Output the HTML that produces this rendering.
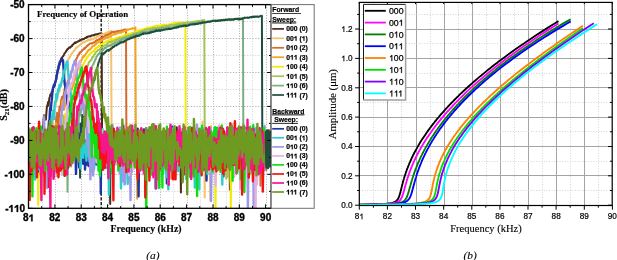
<!DOCTYPE html>
<html><head><meta charset="utf-8"><style>
html,body{margin:0;padding:0;background:#fff;}
text{font-kerning:none;}
svg{display:block;will-change:transform;}
.lb{font-family:"Liberation Sans",sans-serif;font-weight:bold;font-size:10px;stroke:#000;stroke-width:0.35px;}
.lg{font-family:"Liberation Sans",sans-serif;font-weight:bold;font-size:6.8px;stroke:#000;stroke-width:0.2px;}
.bs{font-family:"Liberation Serif",serif;font-weight:bold;stroke:#000;stroke-width:0.15px;}
.rs{font-family:"Liberation Serif",serif;stroke:#000;stroke-width:0.12px;}
.is{font-family:"Liberation Serif",serif;font-style:italic;stroke:#000;stroke-width:0.12px;}
.rl{font-family:"Liberation Sans",sans-serif;font-size:8.2px;stroke:#000;stroke-width:0.2px;}
.rg{font-family:"Liberation Sans",sans-serif;font-size:8.7px;stroke:#000;stroke-width:0.25px;}
</style></head><body>
<svg width="617" height="260" viewBox="0 0 617 260">
<defs><clipPath id="lc"><rect x="28.5" y="4.6" width="242.7" height="203.70000000000002"/></clipPath>
<clipPath id="rc"><rect x="359.3" y="2.0" width="252.9" height="203.5"/></clipPath></defs>
<g clip-path="url(#lc)">
<line x1="42.5" y1="4.6" x2="42.5" y2="208.3" stroke="#d4d4d4" stroke-width="1" stroke-dasharray="1,1.6"/>
<line x1="55.5" y1="4.6" x2="55.5" y2="208.3" stroke="#b0b0b0" stroke-width="1" stroke-dasharray="1,1.6"/>
<line x1="68.5" y1="4.6" x2="68.5" y2="208.3" stroke="#d4d4d4" stroke-width="1" stroke-dasharray="1,1.6"/>
<line x1="81.5" y1="4.6" x2="81.5" y2="208.3" stroke="#b0b0b0" stroke-width="1" stroke-dasharray="1,1.6"/>
<line x1="94.5" y1="4.6" x2="94.5" y2="208.3" stroke="#d4d4d4" stroke-width="1" stroke-dasharray="1,1.6"/>
<line x1="108.5" y1="4.6" x2="108.5" y2="208.3" stroke="#b0b0b0" stroke-width="1" stroke-dasharray="1,1.6"/>
<line x1="121.5" y1="4.6" x2="121.5" y2="208.3" stroke="#d4d4d4" stroke-width="1" stroke-dasharray="1,1.6"/>
<line x1="134.5" y1="4.6" x2="134.5" y2="208.3" stroke="#b0b0b0" stroke-width="1" stroke-dasharray="1,1.6"/>
<line x1="147.5" y1="4.6" x2="147.5" y2="208.3" stroke="#d4d4d4" stroke-width="1" stroke-dasharray="1,1.6"/>
<line x1="160.5" y1="4.6" x2="160.5" y2="208.3" stroke="#b0b0b0" stroke-width="1" stroke-dasharray="1,1.6"/>
<line x1="173.5" y1="4.6" x2="173.5" y2="208.3" stroke="#d4d4d4" stroke-width="1" stroke-dasharray="1,1.6"/>
<line x1="187.5" y1="4.6" x2="187.5" y2="208.3" stroke="#b0b0b0" stroke-width="1" stroke-dasharray="1,1.6"/>
<line x1="200.5" y1="4.6" x2="200.5" y2="208.3" stroke="#d4d4d4" stroke-width="1" stroke-dasharray="1,1.6"/>
<line x1="213.5" y1="4.6" x2="213.5" y2="208.3" stroke="#b0b0b0" stroke-width="1" stroke-dasharray="1,1.6"/>
<line x1="226.5" y1="4.6" x2="226.5" y2="208.3" stroke="#d4d4d4" stroke-width="1" stroke-dasharray="1,1.6"/>
<line x1="239.5" y1="4.6" x2="239.5" y2="208.3" stroke="#b0b0b0" stroke-width="1" stroke-dasharray="1,1.6"/>
<line x1="252.5" y1="4.6" x2="252.5" y2="208.3" stroke="#d4d4d4" stroke-width="1" stroke-dasharray="1,1.6"/>
<line x1="266.5" y1="4.6" x2="266.5" y2="208.3" stroke="#b0b0b0" stroke-width="1" stroke-dasharray="1,1.6"/>
<line x1="28.5" y1="21.5" x2="271.2" y2="21.5" stroke="#d4d4d4" stroke-width="1" stroke-dasharray="1.2,1.6"/>
<line x1="28.5" y1="38.5" x2="271.2" y2="38.5" stroke="#b0b0b0" stroke-width="1" stroke-dasharray="1.2,1.6"/>
<line x1="28.5" y1="55.5" x2="271.2" y2="55.5" stroke="#d4d4d4" stroke-width="1" stroke-dasharray="1.2,1.6"/>
<line x1="28.5" y1="72.5" x2="271.2" y2="72.5" stroke="#b0b0b0" stroke-width="1" stroke-dasharray="1.2,1.6"/>
<line x1="28.5" y1="89.5" x2="271.2" y2="89.5" stroke="#d4d4d4" stroke-width="1" stroke-dasharray="1.2,1.6"/>
<line x1="28.5" y1="106.5" x2="271.2" y2="106.5" stroke="#b0b0b0" stroke-width="1" stroke-dasharray="1.2,1.6"/>
<line x1="28.5" y1="123.5" x2="271.2" y2="123.5" stroke="#d4d4d4" stroke-width="1" stroke-dasharray="1.2,1.6"/>
<line x1="28.5" y1="140.5" x2="271.2" y2="140.5" stroke="#b0b0b0" stroke-width="1" stroke-dasharray="1.2,1.6"/>
<line x1="28.5" y1="157.5" x2="271.2" y2="157.5" stroke="#d4d4d4" stroke-width="1" stroke-dasharray="1.2,1.6"/>
<line x1="28.5" y1="174.5" x2="271.2" y2="174.5" stroke="#b0b0b0" stroke-width="1" stroke-dasharray="1.2,1.6"/>
<line x1="28.5" y1="191.5" x2="271.2" y2="191.5" stroke="#d4d4d4" stroke-width="1" stroke-dasharray="1.2,1.6"/>
<line x1="101.2" y1="4.6" x2="101.2" y2="208.3" stroke="#000" stroke-width="1.3" stroke-dasharray="3.2,1.5"/>
<polyline points="28.8,162.7 29.2,163.8 29.7,150.5 30.1,147.6 30.6,175.7 31,157.9 31.5,159.6 31.9,157.6 32.4,157.5 32.8,141 33.3,161.9 33.7,170.7 34.2,147.5 34.6,156.8 35.1,164.5 35.5,159.1 36,137.2 36.4,162.6 36.9,160.9 37.3,145 37.8,142.1 38.2,156.1 38.7,155 39.1,167.5 39.6,147.7 40,145.3 40.5,155.5 40.9,137.1 41.4,147.6 41.8,143.6 42.3,140.8 42.7,128.6 43.2,126.1 43.6,119.2 44.1,115.3 44.5,119.4 45,118.3 45.4,118 45.9,119.8 46.3,113.9 46.8,107.9 47.2,105.6 47.7,104.5 48.1,102 48.6,105.6 49,100.9 49.5,97.5 49.9,96.5 50.4,94.5 50.8,94.1 51.3,94.1 51.7,91.9 52.2,91.8 52.6,91.7 53.1,87.6 53.5,87.4 54,85.8 54.4,86.6 54.9,83.7 55.3,82 55.8,80.7 56.2,79.7 56.7,75.8 57.1,73.5 57.6,71.5 58,69.7 58.5,67.3 58.9,65.1 59.4,65.5 59.8,62.9 60.3,61.4 60.7,60.2 61.2,58.6 61.6,58 62.1,57.4 62.5,56.9 63,56.1 63.4,55.9 63.9,54.9 64.3,53.9 64.8,52.9 65.2,52.8 65.7,52 66.1,51.2 66.6,50.4 67,50 67.5,48.9 67.9,49 68.4,48.4 68.8,48 69.3,47.6 69.7,47.2 70.2,47.6 70.6,47.1 71.1,46.5 71.5,46 72,46.1 72.4,44.9 72.9,44.8 73.3,44.2 73.8,43.9 74.2,43.3 74.7,43.1 75.1,42.4 75.6,43 76,42.7 76.5,42.1 76.9,42.1 77.4,41.6 77.8,41.5 78.3,41.4 78.7,41 79.2,40.9 79.6,40.3 80.1,40.4 80.5,40.4 81,39.8 81.4,39.3 81.9,39.3 82.3,39.5 82.8,39.4 83.2,38.9 83.7,39 84.1,39 84.6,38.3 85,38.1 85.5,38.1 85.9,37.8 86.4,37.7 86.8,36.9 87.3,37.1 87.7,36.8 88.2,36.6 88.6,36.4 89.1,36.3 89.5,36.2 90,36.5 90.4,36.3 90.9,36.2 91.3,35.6 91.8,35.5 92.2,35.6 92.7,35.4 93.1,35.3 93.6,35 94,35.3 94.5,35 94.9,34.9 95.4,34.3 95.8,34.6 96.3,34.6 96.7,34.3 97.2,34 97.6,34.3 98.1,34.1 98.5,33.8 99,33.8 99.4,33.6 99.9,33.9 100.3,33.4 100.8,33.3 101.2,33.4 101.7,33.4 102.1,152.3 102.6,140.1 103,130.8 103.5,149.8 103.9,150 104.4,138.2 104.8,147.5 105.3,146.6 105.7,155 106.2,152.9 106.6,151 107.1,161 107.5,168.6 108,145.8 108.4,157.9 108.9,139.8 109.3,144.3 109.8,159.1 110.2,203.9 110.7,138.1 111.1,151.1 111.6,157.1 112,146.9 112.5,149.3 112.9,139.5 113.4,156.4 113.8,135 114.3,150.4 114.7,131.6 115.2,148.3 115.6,136.4 116.1,146.2 116.5,136.1 117,157.6 117.4,143.8 117.9,146.4 118.3,152.5 118.8,165 119.2,162.6 119.7,131 120.1,142.2 120.6,153.4 121,133.9 121.5,159.4 121.9,147.3 122.4,143 122.8,150.3 123.3,145.2 123.7,151.4 124.2,144.3 124.6,152.4 125.1,140.4 125.5,152.5 126,165.2 126.4,144.8 126.9,153.9 127.3,137.9 127.8,138.7 128.2,163 128.7,139.1 129.1,161.1 129.6,140.1 130,152.9 130.5,156.7 130.9,154.9 131.4,152.9 131.8,141.1 132.3,148.7 132.7,142.9 133.2,147.3 133.6,138.7 134.1,146.3 134.5,146.6 135,154.5 135.4,142.2 135.9,161.6 136.3,143.6 136.8,156.9 137.2,146.7 137.7,157.5 138.1,140.7 138.6,134.6 139,151.1 139.5,159.3 139.9,144 140.4,155.3 140.8,139.1 141.3,152.2 141.7,153.1 142.2,144.4 142.6,160.4 143.1,155.1 143.5,146.3 144,143.5 144.4,139.7 144.9,155.8 145.3,141.3 145.8,149.8 146.2,145.2 146.7,146.4 147.1,159.3 147.6,137.4 148,138.2 148.5,151.5 148.9,157.8 149.4,136.3 149.8,132.5 150.3,149.7 150.7,137.5 151.2,136.4 151.6,151.6 152.1,141.6 152.5,154.5 153,155.2 153.4,150.8 153.9,129.3 154.3,153.3 154.8,147.2 155.2,156.6 155.7,145 156.1,146.6 156.6,140.7 157,156.8 157.5,144.2 157.9,143.4 158.4,144.7 158.8,157.3 159.3,152.1 159.7,142.4 160.2,156.3 160.6,164.7 161.1,151.9 161.5,156.7 162,142.1 162.4,139.6 162.9,137.9 163.3,129.6 163.8,138.5 164.2,155.9 164.7,139.1 165.1,132.1 165.6,139.7 166,143 166.5,137.4 166.9,153.2 167.4,137.2 167.8,148.1 168.3,144.1 168.7,157.6 169.2,155.8 169.6,169.6 170.1,144.5 170.5,152.4 171,138.3 171.4,139 171.9,137.6 172.3,139 172.8,158.5 173.2,154.5 173.7,160.1 174.1,152.2 174.6,136.6 175,163.9 175.5,142.6 175.9,140.9 176.4,145.9 176.8,127.3 177.3,158.8 177.7,153.4 178.2,153.6 178.6,155.5 179.1,158.5 179.5,155 180,138.5 180.4,150.4 180.9,192.4 181.3,136.1 181.8,157.7 182.2,135.7 182.7,144.9 183.1,141.5 183.6,149.4 184,158.3 184.5,156 184.9,155 185.4,157.9 185.8,168.1 186.3,129.1 186.7,141.2 187.2,137.1 187.6,147.2 188.1,161.9 188.5,149.1 189,165.7 189.4,162.2 189.9,140.9 190.3,158.7 190.8,153.8 191.2,163.5 191.7,144.3 192.1,146.9 192.6,159.5 193,143.6 193.5,155.6 193.9,143.8 194.4,141.2 194.8,144.6 195.3,154.7 195.7,143.3 196.2,130.8 196.6,137.5 197.1,153.3 197.5,142.6 198,158.9 198.4,160.8 198.9,163.3 199.3,150.1 199.8,134.1 200.2,129.3 200.7,137.6 201.1,151.8 201.6,157 202,151.3 202.5,155.9 202.9,158.5 203.4,152.5 203.8,138.9 204.3,162 204.7,159.1 205.2,145.7 205.6,145.7 206.1,146.4 206.5,147.9 207,163.8 207.4,155.2 207.9,161.4 208.3,155.4 208.8,137.7 209.2,135.5 209.7,142 210.1,167.4 210.6,166.2 211,134.6 211.5,134.8 211.9,153.5 212.4,157.7 212.8,148.6 213.3,137 213.7,136.4 214.2,147.8 214.6,160.5 215.1,164.2 215.5,159.4 216,136.2 216.4,151.6 216.9,129.7 217.3,155.6 217.8,157.6 218.2,145.7 218.7,142.2 219.1,164.4 219.6,162 220,140.9 220.5,142.3 220.9,152.1 221.4,148.5 221.8,134 222.3,152.9 222.7,141.6 223.2,154 223.6,176.6 224.1,154.7 224.5,164 225,159.8 225.4,150.1 225.9,147.3 226.3,150.3 226.8,150.5 227.2,136.9 227.7,135.7 228.1,160.5 228.6,131.2 229,151.7 229.5,151.5 229.9,189.8 230.4,148.8 230.8,154.6 231.3,131.4 231.7,141.8 232.2,153.8 232.6,164.3 233.1,154 233.5,159.8 234,143.6 234.4,154 234.9,139.1 235.3,137.6 235.8,151.8 236.2,142.8 236.7,155.8 237.1,147.3 237.6,155 238,146.6 238.5,137.9 238.9,142.3 239.4,164.4 239.8,154 240.3,144.4 240.7,153.8 241.2,136.2 241.6,130.7 242.1,133.1 242.5,132.9 243,145.8 243.4,165 243.9,157.9 244.3,154.2 244.8,141.8 245.2,165 245.7,161.7 246.1,154.7 246.6,145.4 247,143.4 247.5,163.4 247.9,154 248.4,129.7 248.8,138.2 249.3,140.1 249.7,144.5 250.2,158.1 250.6,137 251.1,140.6 251.5,152.2 252,153.3 252.4,163.2 252.9,147 253.3,149.4 253.8,162.1 254.2,154.7 254.7,151.1 255.1,152.8 255.6,148.7 256,152.3 256.5,147.8 256.9,147.5 257.4,147.6 257.8,164.5 258.3,136.4 258.7,147.5 259.2,151.6 259.6,137 260.1,138 260.5,150.5 261,139.1 261.4,149.9 261.9,137.2 262.3,147.8 262.8,144.9 263.2,155.6 263.7,156.9 264.1,158.3 264.6,148.8 265,157.2 265.5,148.2 265.9,134.2 266.4,144.4 266.8,158.4 267.3,139.2 267.7,135.3 268.2,166.6 268.6,160.8 269.1,157.5 269.5,160.8 270,153.3 270.4,153.1 270.9,151.2" fill="none" stroke="#4b2a16" stroke-width="2.0" stroke-linejoin="round" />
<polyline points="28.8,154.2 29.2,166.5 29.7,143.3 30.1,167.5 30.6,152.8 31,164.4 31.5,138.9 31.9,158.7 32.4,152.2 32.8,135.3 33.3,177.2 33.7,150.9 34.2,132.5 34.6,140.9 35.1,143.9 35.5,157.6 36,146.6 36.4,149.2 36.9,147.9 37.3,143.9 37.8,160.8 38.2,139.6 38.7,144.2 39.1,141.2 39.6,158.3 40,168 40.5,160.9 40.9,157 41.4,148.6 41.8,164.4 42.3,148.3 42.7,160.8 43.2,133.9 43.6,174.4 44.1,158.8 44.5,158.7 45,136.6 45.4,128.1 45.9,135 46.3,135.8 46.8,143.3 47.2,151.2 47.7,146.3 48.1,146.2 48.6,133.8 49,131.2 49.5,131.2 49.9,144.9 50.4,129.6 50.8,138.6 51.3,123.5 51.7,128.3 52.2,118.7 52.6,128.6 53.1,119.1 53.5,118.2 54,116.1 54.4,116.1 54.9,105.4 55.3,107.7 55.8,106.1 56.2,101.7 56.7,97.9 57.1,101 57.6,97.1 58,94.8 58.5,93.8 58.9,91.6 59.4,92 59.8,89 60.3,86.5 60.7,84.9 61.2,84.6 61.6,83.1 62.1,80.9 62.5,78.9 63,78.1 63.4,76.5 63.9,76.2 64.3,74.4 64.8,72.9 65.2,71 65.7,69.3 66.1,66.5 66.6,65.6 67,64.4 67.5,62.1 67.9,59.9 68.4,59.9 68.8,58.2 69.3,58.1 69.7,57.4 70.2,56.6 70.6,55.7 71.1,54 71.5,54.3 72,53.1 72.4,53 72.9,52.1 73.3,51.5 73.8,50.7 74.2,50.3 74.7,50.4 75.1,49.4 75.6,49.1 76,47.5 76.5,47.9 76.9,47.5 77.4,47.3 77.8,46.7 78.3,46.6 78.7,45.7 79.2,45.8 79.6,45.2 80.1,44.9 80.5,44.6 81,43.7 81.4,43.9 81.9,43.7 82.3,42.8 82.8,42.9 83.2,42.4 83.7,42 84.1,42.5 84.6,41.7 85,42 85.5,41.2 85.9,41.1 86.4,41.2 86.8,41 87.3,40.8 87.7,40.5 88.2,39.9 88.6,40.4 89.1,39.6 89.5,40 90,39.6 90.4,40 90.9,38.9 91.3,39.4 91.8,39 92.2,39.3 92.7,38.8 93.1,39.4 93.6,38.6 94,38.2 94.5,38.3 94.9,38.1 95.4,37.8 95.8,38.1 96.3,37.5 96.7,37 97.2,36.7 97.6,36.7 98.1,36.5 98.5,36.2 99,36 99.4,35.2 99.9,35.1 100.3,35.1 100.8,35.4 101.2,34.8 101.7,34.4 102.1,34.7 102.6,34.7 103,34.4 103.5,34 103.9,34.1 104.4,34 104.8,33.6 105.3,33.1 105.7,33.4 106.2,33.2 106.6,33 107.1,32.3 107.5,32.2 108,32.6 108.4,32.3 108.9,32 109.3,31.6 109.8,31.8 110.2,31.2 110.7,31.1 111.1,31 111.6,136.1 112,135.2 112.5,149.3 112.9,153.4 113.4,170.1 113.8,164.8 114.3,160.6 114.7,155.9 115.2,133.9 115.6,147.3 116.1,143 116.5,144.7 117,133.7 117.4,153.2 117.9,137.5 118.3,153.8 118.8,160.8 119.2,141.2 119.7,144.5 120.1,137.7 120.6,143.6 121,157.7 121.5,162.4 121.9,140.1 122.4,142.6 122.8,154.6 123.3,153.8 123.7,156.9 124.2,168.2 124.6,158.1 125.1,151.3 125.5,163.3 126,152.2 126.4,145.9 126.9,163 127.3,158.4 127.8,149.9 128.2,141.9 128.7,141.7 129.1,156.1 129.6,155.9 130,157.3 130.5,144.1 130.9,153.3 131.4,152.4 131.8,134.8 132.3,160.6 132.7,140.6 133.2,158.4 133.6,160.7 134.1,159.7 134.5,142.3 135,148.8 135.4,154.9 135.9,166.6 136.3,147.3 136.8,158 137.2,156.6 137.7,146 138.1,133.1 138.6,174.2 139,139.4 139.5,157.6 139.9,150.1 140.4,157.1 140.8,164.3 141.3,142.6 141.7,150.3 142.2,153.3 142.6,137.9 143.1,136.8 143.5,154.2 144,151.9 144.4,146.1 144.9,167.8 145.3,144.6 145.8,159.8 146.2,148.8 146.7,164.8 147.1,137.5 147.6,154 148,157.5 148.5,159.9 148.9,140.4 149.4,128.9 149.8,159 150.3,139 150.7,156.2 151.2,142.4 151.6,157.6 152.1,132.3 152.5,153.9 153,148 153.4,160.4 153.9,149.2 154.3,157.3 154.8,150.9 155.2,152.1 155.7,151.1 156.1,161 156.6,159.2 157,140.2 157.5,158.3 157.9,152.7 158.4,157.3 158.8,147.2 159.3,130.5 159.7,147.7 160.2,150.8 160.6,153.9 161.1,153.9 161.5,153.1 162,163.8 162.4,154.3 162.9,128.8 163.3,162.7 163.8,145.3 164.2,157 164.7,165.4 165.1,139.5 165.6,166.6 166,161.8 166.5,147.8 166.9,146.1 167.4,150.9 167.8,129.8 168.3,156.3 168.7,134.2 169.2,148.7 169.6,142.1 170.1,150.1 170.5,157.3 171,135.3 171.4,138.7 171.9,163.4 172.3,154.2 172.8,157.4 173.2,149.9 173.7,167.4 174.1,136.4 174.6,135.3 175,142.8 175.5,142.4 175.9,152 176.4,153.8 176.8,165 177.3,147.6 177.7,134.1 178.2,159.2 178.6,144.5 179.1,131 179.5,136.4 180,152.4 180.4,143.6 180.9,153.3 181.3,140.5 181.8,154.7 182.2,143.4 182.7,157.1 183.1,129.8 183.6,151.4 184,138 184.5,140.2 184.9,162.2 185.4,138.5 185.8,138.1 186.3,144.6 186.7,156.1 187.2,157.1 187.6,152.6 188.1,149 188.5,144.4 189,141.3 189.4,135 189.9,153.8 190.3,146 190.8,135.2 191.2,134.2 191.7,153 192.1,151.7 192.6,158.9 193,135.6 193.5,167 193.9,134.6 194.4,140.5 194.8,151.1 195.3,139.5 195.7,166.2 196.2,143.1 196.6,158.7 197.1,135.4 197.5,153.7 198,138.8 198.4,140.2 198.9,159.9 199.3,133.8 199.8,158 200.2,144.7 200.7,131.3 201.1,138 201.6,147.5 202,148.1 202.5,121.6 202.9,152.3 203.4,146.8 203.8,144.5 204.3,139.4 204.7,197.6 205.2,144.3 205.6,165.4 206.1,158.9 206.5,166.1 207,151.5 207.4,156.5 207.9,144.3 208.3,157.4 208.8,156.2 209.2,143.6 209.7,150.9 210.1,156 210.6,131.2 211,159.2 211.5,132.3 211.9,152.1 212.4,142 212.8,148.3 213.3,134.8 213.7,156.7 214.2,130.1 214.6,149.9 215.1,145.1 215.5,145.4 216,146.1 216.4,133.1 216.9,147.6 217.3,154.5 217.8,159.3 218.2,141.2 218.7,142.7 219.1,145.9 219.6,145.3 220,155.2 220.5,155.6 220.9,135.4 221.4,158.7 221.8,144.5 222.3,135.4 222.7,163.9 223.2,143.2 223.6,147.8 224.1,154.2 224.5,145 225,146.9 225.4,148.3 225.9,138.3 226.3,163.7 226.8,147.3 227.2,158 227.7,148.7 228.1,153.3 228.6,163.5 229,161.1 229.5,153.8 229.9,145.4 230.4,151.8 230.8,183.2 231.3,156.4 231.7,155.5 232.2,160.1 232.6,161.9 233.1,141.5 233.5,149.5 234,155 234.4,164.3 234.9,139.7 235.3,140.2 235.8,148.1 236.2,143.5 236.7,149.3 237.1,135.8 237.6,168.5 238,149.6 238.5,152.2 238.9,149 239.4,157.8 239.8,154.9 240.3,141 240.7,146.6 241.2,163 241.6,163.8 242.1,155.3 242.5,144.1 243,144.3 243.4,160.8 243.9,150.1 244.3,159.5 244.8,136.4 245.2,157.6 245.7,156.1 246.1,139.9 246.6,131.3 247,140.6 247.5,161.7 247.9,155.3 248.4,144.9 248.8,138 249.3,142.1 249.7,157.6 250.2,147.8 250.6,136.4 251.1,154.2 251.5,141.1 252,137.2 252.4,137.8 252.9,142.2 253.3,141.1 253.8,150.6 254.2,161.9 254.7,163.5 255.1,144.3 255.6,142.4 256,130.5 256.5,142.6 256.9,163 257.4,154.6 257.8,157.6 258.3,146.7 258.7,131.9 259.2,131.7 259.6,151.9 260.1,161.1 260.5,146.1 261,135.6 261.4,136.8 261.9,155.9 262.3,146.6 262.8,145.9 263.2,129.4 263.7,154.8 264.1,155.6 264.6,164.5 265,170.2 265.5,163.9 265.9,138.1 266.4,139.5 266.8,140.6 267.3,151.5 267.7,156.6 268.2,145.5 268.6,144.6 269.1,159.7 269.5,147.4 270,130.8 270.4,158.8 270.9,142" fill="none" stroke="#f2c46e" stroke-width="2.0" stroke-linejoin="round" />
<polyline points="28.8,159.5 29.2,150 29.7,160 30.1,150.8 30.6,165.9 31,150.4 31.5,140.5 31.9,150.2 32.4,162.6 32.8,142.3 33.3,128.6 33.7,152.3 34.2,154.1 34.6,159.2 35.1,159.5 35.5,147.6 36,165.4 36.4,140.4 36.9,130.5 37.3,155.2 37.8,161.5 38.2,167.2 38.7,135.9 39.1,158.4 39.6,141.9 40,157.5 40.5,152.7 40.9,140.7 41.4,161.1 41.8,160.5 42.3,164.4 42.7,137.2 43.2,158.3 43.6,140.5 44.1,164.8 44.5,146.8 45,162.9 45.4,146.1 45.9,153 46.3,158.4 46.8,162.1 47.2,163.6 47.7,167.4 48.1,158.9 48.6,143.5 49,142.9 49.5,151.8 49.9,150.9 50.4,157.4 50.8,146.6 51.3,131.1 51.7,159.8 52.2,141 52.6,152.3 53.1,142 53.5,152.4 54,130.1 54.4,127.6 54.9,136.1 55.3,126 55.8,130.6 56.2,117.1 56.7,128.3 57.1,112.8 57.6,118.3 58,123.3 58.5,128.7 58.9,118.2 59.4,106.5 59.8,110.9 60.3,109.3 60.7,105.6 61.2,99.7 61.6,98.5 62.1,96.8 62.5,98.7 63,96.9 63.4,96.9 63.9,93.7 64.3,91.3 64.8,87.9 65.2,90.8 65.7,86.2 66.1,86.7 66.6,83.7 67,84.1 67.5,82.8 67.9,80.4 68.4,81.2 68.8,80.4 69.3,78.8 69.7,77 70.2,76.3 70.6,74 71.1,72.6 71.5,71.6 72,70.4 72.4,69.9 72.9,66.8 73.3,65.9 73.8,64.4 74.2,64.2 74.7,63.2 75.1,61.9 75.6,61.7 76,59.6 76.5,59 76.9,58 77.4,56.8 77.8,55.7 78.3,54.8 78.7,54.6 79.2,54 79.6,52.5 80.1,52.9 80.5,52 81,51.9 81.4,51.5 81.9,50.7 82.3,50.5 82.8,49.8 83.2,49.4 83.7,49.3 84.1,48.3 84.6,48.7 85,48.3 85.5,47.3 85.9,47.3 86.4,46.6 86.8,46 87.3,45.9 87.7,45.3 88.2,45.1 88.6,44.6 89.1,44.4 89.5,43.9 90,43.4 90.4,43.4 90.9,43.5 91.3,43.5 91.8,43.1 92.2,43.4 92.7,43 93.1,42.7 93.6,42.7 94,42.6 94.5,41.9 94.9,42 95.4,41.4 95.8,41 96.3,40.6 96.7,40.8 97.2,40 97.6,40.2 98.1,39.9 98.5,39.6 99,39.6 99.4,39.3 99.9,38.8 100.3,38.6 100.8,38.5 101.2,38 101.7,38.1 102.1,37.5 102.6,37.5 103,37.3 103.5,36.9 103.9,36.9 104.4,36.3 104.8,36.2 105.3,35.7 105.7,35.2 106.2,34.9 106.6,35.1 107.1,34.8 107.5,34.9 108,35 108.4,34.7 108.9,34 109.3,33.7 109.8,33.8 110.2,33.4 110.7,32.9 111.1,32.7 111.6,32.5 112,31.9 112.5,32.1 112.9,31.8 113.4,31.7 113.8,32.4 114.3,31.9 114.7,31.7 115.2,31.7 115.6,31.9 116.1,31.7 116.5,31.8 117,31.4 117.4,31.1 117.9,31.1 118.3,31.2 118.8,31.2 119.2,30.9 119.7,30.9 120.1,30.8 120.6,30.7 121,30.9 121.5,31 121.9,30.4 122.4,30.2 122.8,30.6 123.3,30.4 123.7,29.8 124.2,29.8 124.6,29.7 125.1,29.5 125.5,29.7 126,29.6 126.4,139.7 126.9,148.4 127.3,142.7 127.8,141.1 128.2,127.2 128.7,135.3 129.1,153.5 129.6,140.7 130,149.3 130.5,133.4 130.9,151.3 131.4,159.9 131.8,139 132.3,158.6 132.7,137.4 133.2,147.6 133.6,142.3 134.1,150.1 134.5,133.1 135,138.6 135.4,144.7 135.9,151.8 136.3,147.8 136.8,158.1 137.2,145 137.7,184 138.1,146.7 138.6,147.1 139,157 139.5,153.8 139.9,161.2 140.4,141.6 140.8,162.1 141.3,160.7 141.7,152.8 142.2,138.5 142.6,158.9 143.1,155.5 143.5,138.1 144,139 144.4,132.2 144.9,165.6 145.3,154.3 145.8,150.5 146.2,160.8 146.7,134.1 147.1,156.4 147.6,135.8 148,150 148.5,155.6 148.9,151.3 149.4,132 149.8,148.2 150.3,151.7 150.7,158.4 151.2,158.3 151.6,144.8 152.1,130.7 152.5,153.8 153,141.2 153.4,153.3 153.9,147.7 154.3,143.5 154.8,156.4 155.2,146.7 155.7,139.2 156.1,154.1 156.6,155.1 157,153.2 157.5,133.2 157.9,158.7 158.4,143.2 158.8,147.1 159.3,149.5 159.7,138.3 160.2,158.6 160.6,162.4 161.1,157.3 161.5,150.4 162,140.3 162.4,149.6 162.9,142.6 163.3,160.1 163.8,145.8 164.2,142.3 164.7,135.1 165.1,145.1 165.6,150.2 166,171 166.5,144 166.9,151.5 167.4,154.2 167.8,181.8 168.3,148 168.7,157 169.2,133.6 169.6,150.9 170.1,151.9 170.5,151.7 171,135.3 171.4,178.8 171.9,135.8 172.3,170.6 172.8,132.1 173.2,153.6 173.7,135.1 174.1,160.2 174.6,148.5 175,136 175.5,142.2 175.9,157.4 176.4,156.3 176.8,155.8 177.3,154.8 177.7,141.6 178.2,149.7 178.6,161.8 179.1,164.7 179.5,161.4 180,165.4 180.4,151.6 180.9,142.1 181.3,145.7 181.8,142.1 182.2,168.6 182.7,139.7 183.1,134.4 183.6,139.7 184,141.6 184.5,142.3 184.9,136 185.4,156 185.8,139 186.3,137.5 186.7,141 187.2,153.6 187.6,159 188.1,156 188.5,142.2 189,156.1 189.4,138.5 189.9,161.5 190.3,141.6 190.8,148.4 191.2,154 191.7,156.3 192.1,153 192.6,151.8 193,150.1 193.5,151.9 193.9,137 194.4,149.2 194.8,146.3 195.3,143 195.7,154.7 196.2,138.3 196.6,160.6 197.1,168.3 197.5,161.4 198,150.7 198.4,165.6 198.9,163 199.3,148 199.8,161.7 200.2,138.6 200.7,142.8 201.1,147.6 201.6,145.5 202,146.8 202.5,158.9 202.9,161.3 203.4,132.3 203.8,161.9 204.3,147.6 204.7,169.3 205.2,138.3 205.6,165.3 206.1,141.4 206.5,159.2 207,135 207.4,135 207.9,142.9 208.3,163.8 208.8,147.8 209.2,157.4 209.7,162.8 210.1,163 210.6,150.9 211,131.2 211.5,153.5 211.9,163.6 212.4,152.6 212.8,161 213.3,154.8 213.7,146.3 214.2,149.8 214.6,144.3 215.1,136.5 215.5,134.3 216,140.8 216.4,147.2 216.9,141.2 217.3,161 217.8,137.4 218.2,161.9 218.7,131.1 219.1,161.2 219.6,144.1 220,147.7 220.5,133.9 220.9,157.2 221.4,139.3 221.8,135.4 222.3,151.2 222.7,135.9 223.2,166.2 223.6,133.3 224.1,158.4 224.5,149.5 225,146 225.4,151.3 225.9,146.3 226.3,132.7 226.8,144.1 227.2,133.2 227.7,160.2 228.1,150.7 228.6,143.7 229,138.1 229.5,151.4 229.9,136.4 230.4,137.9 230.8,148 231.3,162.4 231.7,130.1 232.2,142.1 232.6,139 233.1,129.7 233.5,164.8 234,143.4 234.4,157.2 234.9,154.8 235.3,151.8 235.8,145 236.2,133 236.7,152.8 237.1,153.1 237.6,150 238,146.5 238.5,157.5 238.9,141.5 239.4,149.6 239.8,138.3 240.3,160.4 240.7,145.4 241.2,146 241.6,136.9 242.1,164.1 242.5,137.2 243,152 243.4,156.1 243.9,163 244.3,147 244.8,161.6 245.2,136.6 245.7,134.3 246.1,152.9 246.6,135.1 247,153.6 247.5,147.2 247.9,139.7 248.4,157.9 248.8,136.2 249.3,153.6 249.7,152.9 250.2,140.8 250.6,141.4 251.1,156.3 251.5,141 252,163.9 252.4,136.1 252.9,141.3 253.3,137.4 253.8,162.5 254.2,151.8 254.7,143.4 255.1,160 255.6,146.4 256,140 256.5,131.6 256.9,147.9 257.4,151.2 257.8,143.2 258.3,157.9 258.7,142.9 259.2,154.5 259.6,131 260.1,145.1 260.5,185.7 261,170.7 261.4,145.7 261.9,156.2 262.3,159.1 262.8,157 263.2,143 263.7,152.7 264.1,147.5 264.6,157.2 265,145.8 265.5,144.4 265.9,137.2 266.4,170.1 266.8,141.9 267.3,147 267.7,152.2 268.2,144 268.6,153.3 269.1,130.3 269.5,148.2 270,160 270.4,158.5 270.9,137.9" fill="none" stroke="#d8692a" stroke-width="2.0" stroke-linejoin="round" />
<polyline points="28.8,158.9 29.2,151.1 29.7,130.6 30.1,140.2 30.6,145 31,153.2 31.5,163.5 31.9,147.9 32.4,140.4 32.8,138 33.3,157.9 33.7,140.6 34.2,139.6 34.6,140.2 35.1,158.2 35.5,137 36,151.8 36.4,152.2 36.9,136.7 37.3,141.3 37.8,155.1 38.2,175.8 38.7,135.4 39.1,146.7 39.6,174.2 40,155 40.5,142.8 40.9,136.7 41.4,156.6 41.8,151.8 42.3,142.2 42.7,150.4 43.2,159.4 43.6,153.8 44.1,162 44.5,155.3 45,146.9 45.4,156.2 45.9,145.8 46.3,145 46.8,158.1 47.2,133.6 47.7,148.2 48.1,162.8 48.6,144.8 49,147.9 49.5,157.7 49.9,147.4 50.4,140.9 50.8,152.2 51.3,153.4 51.7,170 52.2,151.5 52.6,163.9 53.1,127.1 53.5,144 54,158.1 54.4,137.6 54.9,143.6 55.3,146 55.8,122.9 56.2,153.3 56.7,137.8 57.1,138.4 57.6,132 58,129.7 58.5,134.1 58.9,135.6 59.4,139 59.8,125.9 60.3,126.9 60.7,117 61.2,116.1 61.6,115.3 62.1,101.1 62.5,106 63,104.5 63.4,102.9 63.9,109.7 64.3,109.4 64.8,105.3 65.2,104 65.7,105.1 66.1,104.7 66.6,100.2 67,98.3 67.5,95 67.9,99 68.4,95.8 68.8,96.1 69.3,93.2 69.7,87.8 70.2,91.1 70.6,90.2 71.1,89.1 71.5,89 72,89.5 72.4,86.7 72.9,86.7 73.3,83.7 73.8,84.8 74.2,81.2 74.7,78.9 75.1,80.1 75.6,76.3 76,76.4 76.5,73.7 76.9,71.2 77.4,70.9 77.8,68.7 78.3,68.6 78.7,67.5 79.2,65.7 79.6,64.7 80.1,63.9 80.5,61.7 81,60.4 81.4,60.3 81.9,59.2 82.3,58.7 82.8,57.3 83.2,56.6 83.7,56.8 84.1,55.4 84.6,56.1 85,55.2 85.5,54.7 85.9,53.7 86.4,53.1 86.8,52.4 87.3,52.2 87.7,51 88.2,50.8 88.6,50 89.1,50.1 89.5,49.5 90,49.3 90.4,49.4 90.9,48.4 91.3,48.3 91.8,47.2 92.2,46.7 92.7,46.5 93.1,45.9 93.6,45.9 94,45.8 94.5,45.1 94.9,44.7 95.4,44.8 95.8,44.1 96.3,43.8 96.7,43.3 97.2,42.5 97.6,42.4 98.1,42.6 98.5,42.1 99,41.8 99.4,41.9 99.9,41.1 100.3,40.8 100.8,41.1 101.2,41.1 101.7,39.7 102.1,39.8 102.6,39.7 103,39.4 103.5,39.2 103.9,39.1 104.4,38.8 104.8,38.6 105.3,38 105.7,38.5 106.2,37.7 106.6,37.4 107.1,37.6 107.5,36.6 108,37.2 108.4,36.5 108.9,37 109.3,36.7 109.8,36.4 110.2,35.6 110.7,35.7 111.1,35.4 111.6,35.4 112,35.1 112.5,35 112.9,34.6 113.4,34.3 113.8,34.2 114.3,34.4 114.7,34.4 115.2,34 115.6,33.8 116.1,33.9 116.5,33.6 117,33.5 117.4,33.4 117.9,33.2 118.3,32.8 118.8,32.7 119.2,32.6 119.7,32.3 120.1,32.7 120.6,32.8 121,32.3 121.5,32.4 121.9,32.2 122.4,31.6 122.8,31.7 123.3,31.7 123.7,31.5 124.2,31.2 124.6,30.8 125.1,31.1 125.5,31 126,30.8 126.4,30.1 126.9,29.9 127.3,30.1 127.8,29.4 128.2,29.7 128.7,29.5 129.1,29.5 129.6,29.2 130,29.1 130.5,29.1 130.9,28.8 131.4,28.8 131.8,28.8 132.3,28.7 132.7,28 133.2,28.3 133.6,28.5 134.1,28.6 134.5,28.6 135,28 135.4,27.4 135.9,145.3 136.3,146.6 136.8,136.2 137.2,198.8 137.7,166.8 138.1,152 138.6,147.1 139,133.5 139.5,162.5 139.9,161.7 140.4,150.2 140.8,145.2 141.3,138.9 141.7,145 142.2,143.2 142.6,146.8 143.1,152.2 143.5,157.2 144,163.6 144.4,140.4 144.9,144 145.3,150.5 145.8,152.5 146.2,142.6 146.7,147.4 147.1,140.9 147.6,166.4 148,140.8 148.5,149.6 148.9,137.5 149.4,156.9 149.8,134.8 150.3,152.5 150.7,149.1 151.2,155.3 151.6,134 152.1,134.1 152.5,152.5 153,144.7 153.4,159.7 153.9,153.8 154.3,135.5 154.8,167.3 155.2,133.9 155.7,142 156.1,130.8 156.6,146.5 157,130.1 157.5,141.6 157.9,146.7 158.4,139.1 158.8,154.6 159.3,156.8 159.7,151.3 160.2,151 160.6,137.4 161.1,148.8 161.5,151.3 162,159.9 162.4,160.9 162.9,145.1 163.3,162.4 163.8,145.4 164.2,144.6 164.7,150.6 165.1,164.1 165.6,139.5 166,154.3 166.5,149.1 166.9,157.6 167.4,138.4 167.8,160.5 168.3,149.1 168.7,129.6 169.2,158.1 169.6,146.9 170.1,148.3 170.5,137 171,158.8 171.4,167.9 171.9,146 172.3,143.4 172.8,152.1 173.2,152.2 173.7,150.1 174.1,162.6 174.6,149.3 175,161 175.5,137.4 175.9,158.4 176.4,159.9 176.8,159.5 177.3,156.6 177.7,162.9 178.2,137 178.6,145 179.1,151.9 179.5,155.1 180,163.5 180.4,159.6 180.9,149.8 181.3,154.4 181.8,142.5 182.2,148.7 182.7,144.3 183.1,149.9 183.6,154.8 184,139.4 184.5,136.8 184.9,158.8 185.4,135.4 185.8,144.2 186.3,137.7 186.7,138.9 187.2,161.1 187.6,152.6 188.1,136.7 188.5,138.8 189,154.6 189.4,148.8 189.9,150.5 190.3,159.2 190.8,129.6 191.2,145.1 191.7,159.3 192.1,141.7 192.6,164.8 193,156.7 193.5,151.7 193.9,164.4 194.4,148.1 194.8,146.6 195.3,150.7 195.7,140.1 196.2,157.2 196.6,167 197.1,159.3 197.5,166.2 198,140.6 198.4,131.4 198.9,162.3 199.3,140.6 199.8,141.7 200.2,130.1 200.7,131.6 201.1,144.9 201.6,136.7 202,140 202.5,144.9 202.9,146.4 203.4,166.2 203.8,149.5 204.3,147.4 204.7,154 205.2,142.4 205.6,163.5 206.1,159.5 206.5,151 207,148.7 207.4,137 207.9,155.4 208.3,163.2 208.8,145 209.2,145.1 209.7,152 210.1,158.8 210.6,200.4 211,151.5 211.5,134.3 211.9,132.9 212.4,147.5 212.8,142.7 213.3,157.1 213.7,148.9 214.2,127.9 214.6,152.2 215.1,152.7 215.5,137.6 216,150.8 216.4,157 216.9,141.2 217.3,156.9 217.8,161.6 218.2,170.2 218.7,134.8 219.1,151.9 219.6,145.4 220,149.7 220.5,158 220.9,139.1 221.4,151.9 221.8,162.7 222.3,153.6 222.7,147.8 223.2,139.6 223.6,157.1 224.1,163 224.5,150.6 225,136.4 225.4,152.1 225.9,151.4 226.3,135 226.8,148.5 227.2,158.1 227.7,148.2 228.1,147.1 228.6,153.1 229,151.9 229.5,137.9 229.9,155.2 230.4,142.3 230.8,148 231.3,171.3 231.7,153.9 232.2,152 232.6,156.2 233.1,159 233.5,134.5 234,144.5 234.4,129.4 234.9,156.1 235.3,152 235.8,135.3 236.2,149.3 236.7,142.9 237.1,152.3 237.6,135.7 238,147.3 238.5,140.6 238.9,140.2 239.4,143.9 239.8,145.6 240.3,158.9 240.7,150.3 241.2,136.2 241.6,133 242.1,156.5 242.5,140.1 243,158.4 243.4,159.5 243.9,161.9 244.3,167.8 244.8,145.7 245.2,152.2 245.7,160.2 246.1,130.8 246.6,161.2 247,154.6 247.5,152.6 247.9,164 248.4,130.5 248.8,144.2 249.3,154.6 249.7,131.3 250.2,157.3 250.6,163.6 251.1,167.1 251.5,161.1 252,150 252.4,152.2 252.9,157.1 253.3,175 253.8,152.8 254.2,146.6 254.7,151.8 255.1,137 255.6,132.9 256,155.8 256.5,154.2 256.9,145.2 257.4,154.7 257.8,135.5 258.3,168.6 258.7,165.7 259.2,155.1 259.6,151 260.1,136.7 260.5,138 261,153.8 261.4,152.4 261.9,152.9 262.3,156.5 262.8,154.2 263.2,156.3 263.7,147.8 264.1,148.9 264.6,163.7 265,142 265.5,158 265.9,164.6 266.4,140.6 266.8,159.1 267.3,158.5 267.7,152.6 268.2,150 268.6,151.8 269.1,150.1 269.5,140.4 270,160.3 270.4,144.2 270.9,137.9" fill="none" stroke="#f5a21e" stroke-width="2.0" stroke-linejoin="round" />
<polyline points="28.8,148.5 29.2,138.1 29.7,140.4 30.1,130.3 30.6,143.4 31,140.2 31.5,142.9 31.9,135.4 32.4,146.5 32.8,156.1 33.3,144.8 33.7,145.9 34.2,152.1 34.6,154.9 35.1,153.7 35.5,163.3 36,139.3 36.4,154.4 36.9,165.7 37.3,149.1 37.8,126.6 38.2,204.9 38.7,137.6 39.1,156.5 39.6,166.8 40,136.2 40.5,154.6 40.9,128.3 41.4,150.6 41.8,153.9 42.3,133.6 42.7,157 43.2,139.6 43.6,144 44.1,158.9 44.5,159.9 45,136 45.4,155 45.9,157.5 46.3,159.3 46.8,139.8 47.2,155.4 47.7,153 48.1,141.4 48.6,158.7 49,144.3 49.5,138.1 49.9,142.5 50.4,149.8 50.8,147.1 51.3,138.5 51.7,146.1 52.2,149.4 52.6,154.7 53.1,149.4 53.5,129.6 54,147.1 54.4,144.1 54.9,153.3 55.3,146.1 55.8,162.7 56.2,148.7 56.7,144.3 57.1,149.6 57.6,143.3 58,145.6 58.5,166.4 58.9,135.2 59.4,138 59.8,150.6 60.3,147.9 60.7,137.1 61.2,144.3 61.6,140.4 62.1,132.3 62.5,134.9 63,139.6 63.4,137.8 63.9,130.3 64.3,127.5 64.8,119.4 65.2,113.8 65.7,121.6 66.1,115.9 66.6,115.3 67,109.6 67.5,112.7 67.9,112.1 68.4,111.1 68.8,112 69.3,106.9 69.7,101.4 70.2,100.6 70.6,101.8 71.1,101.2 71.5,97.4 72,101.8 72.4,98.2 72.9,93.9 73.3,93.9 73.8,91.4 74.2,91.2 74.7,91.9 75.1,88.2 75.6,87.9 76,87.2 76.5,83.2 76.9,82.1 77.4,82.3 77.8,80.2 78.3,79 78.7,78 79.2,74.4 79.6,73 80.1,73.2 80.5,71.3 81,71.9 81.4,69 81.9,67.9 82.3,66.6 82.8,65 83.2,64.7 83.7,63.8 84.1,62.7 84.6,62.1 85,60.6 85.5,60.3 85.9,59.2 86.4,58.5 86.8,57.8 87.3,58 87.7,56.6 88.2,56.5 88.6,55.2 89.1,54.9 89.5,54.3 90,54 90.4,53.3 90.9,53.3 91.3,52.3 91.8,52.6 92.2,51.9 92.7,51.3 93.1,51.3 93.6,51.4 94,50.2 94.5,50.1 94.9,48.9 95.4,49.1 95.8,48 96.3,48.1 96.7,48 97.2,47.7 97.6,47.4 98.1,46.6 98.5,46.7 99,45.7 99.4,46 99.9,45.3 100.3,45.8 100.8,44.3 101.2,44.2 101.7,44 102.1,44.1 102.6,44 103,43.6 103.5,42.9 103.9,43.1 104.4,42.5 104.8,42.4 105.3,42.1 105.7,41.8 106.2,41.6 106.6,41.8 107.1,41 107.5,41.5 108,40.7 108.4,40.8 108.9,41.3 109.3,40.7 109.8,40.4 110.2,39.8 110.7,39.9 111.1,39.4 111.6,39.7 112,39.7 112.5,39.3 112.9,39.1 113.4,38.7 113.8,38.8 114.3,38.8 114.7,39.1 115.2,39.1 115.6,38.7 116.1,38.1 116.5,38.5 117,38.4 117.4,37.9 117.9,37.6 118.3,38 118.8,37.5 119.2,37.3 119.7,36.7 120.1,36.7 120.6,36.7 121,36.6 121.5,36.5 121.9,36.2 122.4,36.3 122.8,36.1 123.3,36.2 123.7,35.8 124.2,35.7 124.6,35.1 125.1,35.5 125.5,34.8 126,34.6 126.4,34.3 126.9,34.5 127.3,34.3 127.8,34.2 128.2,33.8 128.7,34.1 129.1,34 129.6,33.8 130,33.7 130.5,33.6 130.9,33.7 131.4,33.4 131.8,33 132.3,32.7 132.7,32.8 133.2,32.8 133.6,32.4 134.1,32.5 134.5,32.5 135,32.4 135.4,31.9 135.9,31.4 136.3,31.5 136.8,31.2 137.2,31.2 137.7,30.6 138.1,30.4 138.6,30.3 139,30.2 139.5,30.2 139.9,30.1 140.4,30.5 140.8,29.7 141.3,29.7 141.7,29.7 142.2,29.7 142.6,29.5 143.1,29.3 143.5,29.5 144,29.1 144.4,29 144.9,28.8 145.3,28.9 145.8,28.5 146.2,28.5 146.7,28.2 147.1,27.9 147.6,27.7 148,27.8 148.5,27.7 148.9,27.7 149.4,27.4 149.8,27.5 150.3,27.4 150.7,27.6 151.2,27.3 151.6,27.2 152.1,27.1 152.5,26.6 153,26.9 153.4,26.6 153.9,26.2 154.3,26.3 154.8,26.2 155.2,26.1 155.7,26 156.1,26 156.6,25.7 157,25.6 157.5,26 157.9,25.9 158.4,25.7 158.8,25.8 159.3,25.7 159.7,25.8 160.2,25.5 160.6,25.7 161.1,25.3 161.5,25.2 162,25.2 162.4,24.9 162.9,24.9 163.3,24.8 163.8,24.6 164.2,25 164.7,24.6 165.1,24.8 165.6,24.7 166,25.1 166.5,24.7 166.9,24.7 167.4,25 167.8,24.5 168.3,24.7 168.7,24.9 169.2,24.5 169.6,24.6 170.1,24.3 170.5,24.3 171,24.2 171.4,23.9 171.9,23.8 172.3,23.6 172.8,23.4 173.2,23.5 173.7,23.1 174.1,23.3 174.6,23.3 175,23 175.5,22.8 175.9,23.1 176.4,23.2 176.8,22.8 177.3,23 177.7,23.1 178.2,22.8 178.6,22.7 179.1,22.3 179.5,22.7 180,22.6 180.4,22.6 180.9,22.5 181.3,22.4 181.8,22.5 182.2,22.6 182.7,22.5 183.1,22.9 183.6,22.8 184,22.5 184.5,22.6 184.9,22.5 185.4,22.4 185.8,149.1 186.3,164.2 186.7,150.8 187.2,140.7 187.6,148.8 188.1,156.3 188.5,151.2 189,139 189.4,142.7 189.9,149.2 190.3,141.1 190.8,154.7 191.2,130.4 191.7,161.6 192.1,147.6 192.6,142.4 193,161.2 193.5,144.3 193.9,134.7 194.4,153.2 194.8,153.7 195.3,153.1 195.7,146.5 196.2,138.9 196.6,134.4 197.1,149.6 197.5,150.5 198,159.1 198.4,144.9 198.9,154.9 199.3,142.4 199.8,155.5 200.2,149.8 200.7,167.8 201.1,140 201.6,145.8 202,133.9 202.5,159.2 202.9,142.7 203.4,132.4 203.8,146.5 204.3,133.7 204.7,125.9 205.2,148.1 205.6,153.9 206.1,149.8 206.5,140.6 207,154.7 207.4,162.1 207.9,155.7 208.3,135.1 208.8,156.4 209.2,141.2 209.7,155.5 210.1,142.9 210.6,141.1 211,125.7 211.5,150.9 211.9,138.2 212.4,146.8 212.8,158.8 213.3,160.6 213.7,161.2 214.2,136.9 214.6,139.6 215.1,157.5 215.5,210.3 216,159 216.4,172.2 216.9,160.1 217.3,153.4 217.8,130.6 218.2,153.4 218.7,152.9 219.1,144 219.6,165.3 220,134.3 220.5,136.6 220.9,130.7 221.4,155 221.8,156.9 222.3,131.7 222.7,144.2 223.2,138.2 223.6,171 224.1,150.9 224.5,140.8 225,148.6 225.4,156.6 225.9,155.2 226.3,137.9 226.8,158.8 227.2,140.3 227.7,148.7 228.1,160.1 228.6,137.3 229,159.7 229.5,150.2 229.9,165.8 230.4,137.4 230.8,209 231.3,165.1 231.7,165.1 232.2,155.1 232.6,161.1 233.1,155.3 233.5,147.1 234,150.5 234.4,150.7 234.9,154 235.3,145.5 235.8,149.2 236.2,155 236.7,154.1 237.1,136.1 237.6,156 238,153.4 238.5,159 238.9,140.6 239.4,142 239.8,138.1 240.3,142.5 240.7,160.7 241.2,159.1 241.6,156.4 242.1,148.4 242.5,132.4 243,141.7 243.4,129.8 243.9,138.1 244.3,146.2 244.8,146.3 245.2,155.3 245.7,131.2 246.1,135.2 246.6,149.1 247,152.6 247.5,143.5 247.9,142.3 248.4,138.1 248.8,136.7 249.3,140.3 249.7,138.6 250.2,142.1 250.6,166 251.1,149.8 251.5,148.9 252,135.8 252.4,159.3 252.9,151.1 253.3,156.8 253.8,145.5 254.2,135.4 254.7,147.4 255.1,134.2 255.6,137.3 256,159.9 256.5,137.8 256.9,135.4 257.4,138.4 257.8,156.6 258.3,161.4 258.7,142.8 259.2,155.9 259.6,142.6 260.1,145.6 260.5,159.1 261,155.3 261.4,157.6 261.9,150 262.3,139.8 262.8,142 263.2,153.3 263.7,135.4 264.1,142.5 264.6,132.2 265,132.3 265.5,150.8 265.9,144.5 266.4,161.1 266.8,141.3 267.3,153.5 267.7,139.1 268.2,143.7 268.6,155.8 269.1,158.5 269.5,148.2 270,157.7 270.4,155.9 270.9,135.7" fill="none" stroke="#f2ea00" stroke-width="2.0" stroke-linejoin="round" />
<polyline points="28.8,142.4 29.2,157.2 29.7,133.7 30.1,130.8 30.6,152 31,147.1 31.5,142.4 31.9,152.5 32.4,137.3 32.8,145.2 33.3,147.6 33.7,158.3 34.2,150.4 34.6,158.9 35.1,137.8 35.5,152 36,144.2 36.4,132.6 36.9,140.3 37.3,166.4 37.8,159.3 38.2,133.7 38.7,146 39.1,153.1 39.6,145.4 40,145.3 40.5,140.4 40.9,154 41.4,159.5 41.8,160.2 42.3,152.5 42.7,166.4 43.2,155.6 43.6,133.9 44.1,141.5 44.5,145.6 45,135.5 45.4,148.3 45.9,146.2 46.3,139.4 46.8,129.6 47.2,160.2 47.7,145.7 48.1,151.3 48.6,156.1 49,147.8 49.5,162.1 49.9,153.9 50.4,139.5 50.8,151.5 51.3,157.8 51.7,145.4 52.2,145.2 52.6,144.5 53.1,136.7 53.5,140.6 54,153.7 54.4,163.8 54.9,150 55.3,139.3 55.8,158.5 56.2,133.2 56.7,166.2 57.1,176.2 57.6,165.3 58,152.1 58.5,153.4 58.9,142.9 59.4,137.5 59.8,171.4 60.3,122.6 60.7,127.4 61.2,148.2 61.6,137.7 62.1,123.9 62.5,125.5 63,135.1 63.4,115.6 63.9,124.8 64.3,163.7 64.8,123.9 65.2,136.2 65.7,133.4 66.1,135.5 66.6,120.5 67,124.7 67.5,119.1 67.9,118.9 68.4,128.1 68.8,132.4 69.3,122.3 69.7,112.3 70.2,121.1 70.6,118.3 71.1,114.2 71.5,117.3 72,114.8 72.4,113.2 72.9,111.3 73.3,103.6 73.8,103.1 74.2,108.3 74.7,102.5 75.1,102.5 75.6,101.6 76,99.9 76.5,99.5 76.9,97.1 77.4,94 77.8,92.3 78.3,90 78.7,89.9 79.2,86.8 79.6,87.6 80.1,84.4 80.5,86.3 81,83.8 81.4,82.4 81.9,83.9 82.3,82.4 82.8,79.9 83.2,77.3 83.7,76.4 84.1,75.1 84.6,73.3 85,73.8 85.5,71.9 85.9,69.2 86.4,68.7 86.8,67.7 87.3,67.2 87.7,65.1 88.2,65 88.6,63 89.1,62 89.5,61.8 90,61.1 90.4,61.1 90.9,59.8 91.3,60 91.8,58.9 92.2,57 92.7,57.6 93.1,56.8 93.6,56.3 94,54.7 94.5,54.3 94.9,54.2 95.4,53.2 95.8,52.1 96.3,51.9 96.7,51.5 97.2,51.1 97.6,50.4 98.1,50 98.5,49.9 99,49.9 99.4,49.7 99.9,49.3 100.3,48.4 100.8,48.4 101.2,48.2 101.7,47.3 102.1,47.2 102.6,47 103,46.3 103.5,46.2 103.9,45.9 104.4,45.6 104.8,45.3 105.3,45.2 105.7,45.1 106.2,45.3 106.6,44.4 107.1,44.1 107.5,43.3 108,43.1 108.4,42.7 108.9,42.4 109.3,42 109.8,42 110.2,41.9 110.7,41.9 111.1,41.8 111.6,41.8 112,41.4 112.5,41.3 112.9,41.7 113.4,41.8 113.8,41.3 114.3,41 114.7,40.8 115.2,40.1 115.6,40.4 116.1,40.2 116.5,39.7 117,39.4 117.4,39.2 117.9,39.5 118.3,39 118.8,39 119.2,38.3 119.7,38.4 120.1,38.5 120.6,38.3 121,38.2 121.5,38 121.9,38 122.4,38 122.8,37.8 123.3,37.6 123.7,37.3 124.2,37 124.6,36.7 125.1,36.6 125.5,36.9 126,36.4 126.4,36.2 126.9,35.9 127.3,35.8 127.8,35.7 128.2,35.6 128.7,35.7 129.1,35.7 129.6,35.3 130,35.5 130.5,35.3 130.9,35.1 131.4,34.9 131.8,34.9 132.3,34.7 132.7,34.3 133.2,33.8 133.6,34.1 134.1,33.5 134.5,33.6 135,33.5 135.4,33.5 135.9,33.1 136.3,32.9 136.8,32.9 137.2,33.1 137.7,32.7 138.1,32.7 138.6,32.4 139,32 139.5,32 139.9,31.9 140.4,31.9 140.8,31.7 141.3,31.6 141.7,31 142.2,30.9 142.6,31 143.1,30.9 143.5,30.5 144,30.5 144.4,30.1 144.9,29.6 145.3,29.7 145.8,29.5 146.2,29.7 146.7,29.8 147.1,29.7 147.6,29.4 148,29 148.5,29.5 148.9,29.6 149.4,29 149.8,29.2 150.3,28.8 150.7,28.6 151.2,28.8 151.6,28.6 152.1,28.4 152.5,28.2 153,28 153.4,28.3 153.9,28.1 154.3,28.4 154.8,28 155.2,28 155.7,28.1 156.1,28.3 156.6,27.9 157,28 157.5,27.4 157.9,27.7 158.4,27.7 158.8,27.6 159.3,27.5 159.7,27.4 160.2,27.4 160.6,27.5 161.1,27.2 161.5,27.2 162,26.8 162.4,26.7 162.9,26.5 163.3,26.5 163.8,26.7 164.2,26.5 164.7,26.4 165.1,26.1 165.6,26.4 166,26.2 166.5,25.9 166.9,26.3 167.4,26.1 167.8,25.9 168.3,25.9 168.7,25.7 169.2,25.3 169.6,25.2 170.1,25.4 170.5,24.9 171,25.1 171.4,25.2 171.9,25.3 172.3,25.2 172.8,24.9 173.2,25.5 173.7,25 174.1,25.1 174.6,24.8 175,24.7 175.5,24.7 175.9,24.5 176.4,24.2 176.8,24.3 177.3,24.1 177.7,24.3 178.2,24 178.6,23.9 179.1,23.9 179.5,23.9 180,23.8 180.4,24 180.9,23.6 181.3,23.9 181.8,23.7 182.2,23.5 182.7,23.4 183.1,23.2 183.6,23 184,23 184.5,23.1 184.9,23.1 185.4,22.9 185.8,22.9 186.3,22.8 186.7,22.3 187.2,22.7 187.6,22.6 188.1,22.3 188.5,22.4 189,22.4 189.4,22.6 189.9,22.5 190.3,22.2 190.8,22.5 191.2,22.3 191.7,22.3 192.1,22.5 192.6,22.1 193,22.1 193.5,21.9 193.9,21.8 194.4,22 194.8,21.5 195.3,21.8 195.7,21.5 196.2,21.5 196.6,21.3 197.1,21.2 197.5,21 198,21.4 198.4,21.4 198.9,21.1 199.3,21.1 199.8,20.9 200.2,20.9 200.7,20.9 201.1,20.7 201.6,20.6 202,20.3 202.5,20.2 202.9,20 203.4,20.4 203.8,20.3 204.3,20.1 204.7,133.7 205.2,170.4 205.6,166.1 206.1,154.5 206.5,154.2 207,143.5 207.4,164.3 207.9,139.5 208.3,155.6 208.8,129.8 209.2,147.3 209.7,168.1 210.1,140.2 210.6,133.6 211,146.3 211.5,159.7 211.9,155 212.4,160.1 212.8,146.6 213.3,143.1 213.7,145.3 214.2,163.4 214.6,130.2 215.1,145.6 215.5,160.2 216,160.4 216.4,157.8 216.9,133 217.3,158.1 217.8,127.8 218.2,139.1 218.7,152.8 219.1,148 219.6,146.4 220,143.7 220.5,153.6 220.9,140.4 221.4,150.2 221.8,147.4 222.3,148.4 222.7,145.7 223.2,157 223.6,142.4 224.1,155.5 224.5,140.4 225,142.4 225.4,147.5 225.9,161.7 226.3,178.7 226.8,135.6 227.2,144.1 227.7,177.1 228.1,151.8 228.6,148.9 229,143.1 229.5,153.6 229.9,163.5 230.4,136.1 230.8,138.6 231.3,155.9 231.7,145.7 232.2,150.5 232.6,143.9 233.1,138.4 233.5,152.3 234,169 234.4,134.6 234.9,162.7 235.3,143.6 235.8,128.9 236.2,156.3 236.7,144.3 237.1,153.6 237.6,136.5 238,168.4 238.5,155 238.9,133.8 239.4,141.1 239.8,144.5 240.3,136.7 240.7,142 241.2,143.3 241.6,155.8 242.1,142.6 242.5,140.5 243,146.5 243.4,165.1 243.9,146.4 244.3,155.2 244.8,155.7 245.2,152.1 245.7,134.1 246.1,138.7 246.6,166 247,143.8 247.5,141.8 247.9,145.7 248.4,142.7 248.8,161.1 249.3,156 249.7,155.5 250.2,141.7 250.6,174.2 251.1,164.6 251.5,143.7 252,148.7 252.4,159.2 252.9,151.6 253.3,139 253.8,147.1 254.2,137.1 254.7,137.6 255.1,151.4 255.6,158.3 256,153.6 256.5,142.5 256.9,138.4 257.4,145.8 257.8,140.8 258.3,159.3 258.7,158.2 259.2,141.9 259.6,142.8 260.1,145.5 260.5,140 261,161.8 261.4,158.2 261.9,149.5 262.3,143.8 262.8,155.1 263.2,135.8 263.7,146.8 264.1,152.7 264.6,151.5 265,152.3 265.5,147.6 265.9,145.5 266.4,155 266.8,151.5 267.3,139.4 267.7,143.4 268.2,137.3 268.6,147.3 269.1,160.4 269.5,143.2 270,135.3 270.4,151.3 270.9,147" fill="none" stroke="#a6c255" stroke-width="2.0" stroke-linejoin="round" />
<polyline points="28.8,151.4 29.2,151.7 29.7,163.6 30.1,130.8 30.6,152.4 31,161.1 31.5,130.4 31.9,147.7 32.4,149.8 32.8,138.5 33.3,149.7 33.7,146.9 34.2,143.8 34.6,162.3 35.1,137.7 35.5,155.3 36,157.9 36.4,147.7 36.9,153.8 37.3,137.9 37.8,138.5 38.2,154.7 38.7,159.1 39.1,148.9 39.6,158.8 40,134.4 40.5,150.6 40.9,145.2 41.4,131.6 41.8,134.9 42.3,154.8 42.7,149.8 43.2,148.2 43.6,138.1 44.1,133.7 44.5,138.3 45,149.3 45.4,133.1 45.9,139.5 46.3,158.3 46.8,135.9 47.2,152.2 47.7,156.6 48.1,147.7 48.6,149.4 49,158.1 49.5,159.9 49.9,137 50.4,146.8 50.8,155.7 51.3,142.1 51.7,156.9 52.2,139.5 52.6,135.4 53.1,146.9 53.5,142.7 54,138.3 54.4,138.5 54.9,135.4 55.3,152 55.8,143.3 56.2,158.1 56.7,134.5 57.1,156.3 57.6,157.3 58,141 58.5,139.7 58.9,147.4 59.4,142.8 59.8,136.5 60.3,154.5 60.7,154.9 61.2,136.3 61.6,145 62.1,128.2 62.5,161.9 63,152.8 63.4,157.1 63.9,150.4 64.3,139.5 64.8,159.4 65.2,169.5 65.7,165.5 66.1,145.8 66.6,161 67,140.1 67.5,191.8 67.9,152.3 68.4,162.3 68.8,149.9 69.3,145.7 69.7,142.4 70.2,140.4 70.6,146.4 71.1,166.6 71.5,147.5 72,154.6 72.4,133.6 72.9,137.4 73.3,154 73.8,136.2 74.2,141.3 74.7,135.6 75.1,142.8 75.6,130.1 76,120.2 76.5,120.1 76.9,121.5 77.4,124.6 77.8,133.8 78.3,131.4 78.7,120 79.2,109.4 79.6,112.4 80.1,113.8 80.5,115.4 81,109.4 81.4,106.8 81.9,102 82.3,107.5 82.8,102.8 83.2,98.7 83.7,96 84.1,98 84.6,93.7 85,92.6 85.5,90 85.9,89.3 86.4,84.7 86.8,81.6 87.3,82 87.7,82.5 88.2,82.2 88.6,78.4 89.1,76.9 89.5,76.5 90,73.5 90.4,73.3 90.9,71.3 91.3,69.7 91.8,69 92.2,66.3 92.7,65 93.1,64.5 93.6,63.6 94,62.3 94.5,61.8 94.9,60.5 95.4,59.3 95.8,59.3 96.3,57.2 96.7,56.7 97.2,55.9 97.6,55.1 98.1,54.4 98.5,53.7 99,53.9 99.4,53.2 99.9,52.6 100.3,51.8 100.8,51.7 101.2,51.3 101.7,51 102.1,50.3 102.6,51 103,49.9 103.5,49.3 103.9,49.2 104.4,48.6 104.8,47.8 105.3,48 105.7,48.1 106.2,47.3 106.6,47.2 107.1,46.6 107.5,46 108,46.3 108.4,46 108.9,46 109.3,45.2 109.8,45.6 110.2,45.3 110.7,45.1 111.1,44.9 111.6,44.8 112,44.7 112.5,44.2 112.9,43.9 113.4,43.7 113.8,43.7 114.3,43.6 114.7,43.3 115.2,42.8 115.6,42.6 116.1,42.7 116.5,42.5 117,42.2 117.4,42 117.9,41.9 118.3,41.6 118.8,40.9 119.2,40.9 119.7,41.1 120.1,40.3 120.6,40.4 121,40.5 121.5,39.6 121.9,39.7 122.4,39.2 122.8,39 123.3,38.9 123.7,38.8 124.2,38.8 124.6,38.5 125.1,38.2 125.5,38.5 126,37.8 126.4,37.9 126.9,37.5 127.3,38 127.8,37.5 128.2,37.5 128.7,37.1 129.1,37 129.6,37.3 130,36.7 130.5,36.4 130.9,36.1 131.4,36 131.8,35.7 132.3,35.2 132.7,35.5 133.2,35 133.6,34.8 134.1,34.9 134.5,34.8 135,34.7 135.4,34.9 135.9,34.6 136.3,34.4 136.8,34.1 137.2,34.2 137.7,33.9 138.1,34.2 138.6,33.7 139,33.7 139.5,33.4 139.9,33.2 140.4,33 140.8,32.9 141.3,32.6 141.7,32.3 142.2,32.5 142.6,32.2 143.1,32.3 143.5,32 144,32 144.4,32.3 144.9,32 145.3,31.6 145.8,32 146.2,31.9 146.7,31.8 147.1,31.7 147.6,31.4 148,31.6 148.5,31.3 148.9,31.5 149.4,31.2 149.8,31.1 150.3,30.9 150.7,30.5 151.2,30.2 151.6,30.5 152.1,30.4 152.5,29.9 153,30.1 153.4,29.8 153.9,30 154.3,29.5 154.8,30.1 155.2,29.6 155.7,29.5 156.1,29.1 156.6,29.8 157,29.5 157.5,29.5 157.9,29.7 158.4,29.2 158.8,29.2 159.3,29.1 159.7,29 160.2,28.6 160.6,28.5 161.1,28.5 161.5,27.9 162,28.2 162.4,28.1 162.9,28.3 163.3,28.3 163.8,28.3 164.2,28.3 164.7,28.3 165.1,28.1 165.6,28.1 166,27.5 166.5,28 166.9,27.7 167.4,27.4 167.8,27.4 168.3,27.3 168.7,27.6 169.2,27.3 169.6,27.9 170.1,27.5 170.5,27.3 171,27.2 171.4,27.5 171.9,27.4 172.3,27.4 172.8,27.2 173.2,27.1 173.7,26.8 174.1,26.8 174.6,26.5 175,26.4 175.5,26.4 175.9,26 176.4,26 176.8,26.2 177.3,25.7 177.7,25.6 178.2,25.5 178.6,25.5 179.1,25.8 179.5,25.6 180,25.8 180.4,25.7 180.9,25.4 181.3,25 181.8,25.2 182.2,25 182.7,24.9 183.1,25.2 183.6,24.8 184,25 184.5,25.3 184.9,25.4 185.4,25.2 185.8,24.9 186.3,24.7 186.7,25 187.2,24.9 187.6,24.3 188.1,24 188.5,24 189,24.1 189.4,24.2 189.9,24 190.3,24 190.8,23.9 191.2,23.4 191.7,23.2 192.1,23.6 192.6,23.4 193,23.4 193.5,23.4 193.9,22.9 194.4,23.2 194.8,22.9 195.3,22.9 195.7,22.8 196.2,23 196.6,22.9 197.1,22.8 197.5,22.7 198,22.7 198.4,22.9 198.9,22.4 199.3,22.3 199.8,22.2 200.2,22.5 200.7,22.2 201.1,22.4 201.6,22.2 202,22 202.5,22.2 202.9,21.5 203.4,21.8 203.8,22.2 204.3,22.2 204.7,21.8 205.2,21.7 205.6,21.9 206.1,21.9 206.5,22.2 207,22 207.4,21.5 207.9,21.8 208.3,21.7 208.8,21.4 209.2,21.7 209.7,21.5 210.1,21.5 210.6,21.1 211,21.3 211.5,21 211.9,20.7 212.4,20.6 212.8,20.8 213.3,20.8 213.7,20.9 214.2,20.6 214.6,20.5 215.1,20.2 215.5,20.4 216,20.9 216.4,20.4 216.9,20.3 217.3,20.5 217.8,20.2 218.2,20.6 218.7,20.4 219.1,20.5 219.6,20.4 220,20.3 220.5,20.4 220.9,20.1 221.4,20.2 221.8,20 222.3,19.9 222.7,20.1 223.2,20 223.6,19.6 224.1,19.7 224.5,19.8 225,19.8 225.4,19.6 225.9,19.9 226.3,19.7 226.8,19.8 227.2,19.4 227.7,19.8 228.1,19.4 228.6,19.3 229,19.3 229.5,19.5 229.9,19.5 230.4,19.6 230.8,19.2 231.3,19.7 231.7,19.5 232.2,19.3 232.6,19.4 233.1,19.3 233.5,19.1 234,19.1 234.4,19.2 234.9,19.1 235.3,19.1 235.8,19 236.2,18.8 236.7,18.8 237.1,18.9 237.6,18.9 238,18.8 238.5,18.7 238.9,18.8 239.4,18.5 239.8,18.3 240.3,18.3 240.7,18.6 241.2,18.6 241.6,18.6 242.1,18.7 242.5,18.8 243,18.6 243.4,160.3 243.9,137.9 244.3,140.8 244.8,162 245.2,153.3 245.7,136.2 246.1,162.3 246.6,146.2 247,160.9 247.5,150.2 247.9,151.1 248.4,140.2 248.8,150.1 249.3,164.1 249.7,154.4 250.2,162.9 250.6,136.9 251.1,159.8 251.5,154.7 252,159.8 252.4,156 252.9,142.7 253.3,158.8 253.8,144.9 254.2,131.4 254.7,129.8 255.1,165.6 255.6,158.6 256,155.7 256.5,145.4 256.9,157 257.4,133 257.8,144.4 258.3,143.8 258.7,133.6 259.2,167 259.6,156.8 260.1,147.3 260.5,144.9 261,158.7 261.4,149 261.9,163.7 262.3,156.1 262.8,153.3 263.2,141.1 263.7,135.8 264.1,129.9 264.6,144.8 265,158.8 265.5,140.3 265.9,150.9 266.4,158.4 266.8,166.4 267.3,162.3 267.7,143.7 268.2,148.6 268.6,145 269.1,155.5 269.5,153.1 270,137.5 270.4,154.8 270.9,135.2" fill="none" stroke="#7aae7e" stroke-width="2.0" stroke-linejoin="round" />
<polyline points="28.8,150.5 29.2,142 29.7,147.2 30.1,167.6 30.6,158.3 31,147.6 31.5,162.2 31.9,136.1 32.4,142.9 32.8,128.2 33.3,165.1 33.7,152.7 34.2,155.2 34.6,136.3 35.1,158.7 35.5,133.9 36,156.4 36.4,152.9 36.9,149.2 37.3,137.9 37.8,145.2 38.2,148.8 38.7,138.8 39.1,154.1 39.6,164.5 40,141.9 40.5,147.1 40.9,156.8 41.4,131.4 41.8,144.8 42.3,149.4 42.7,164.3 43.2,147.3 43.6,139.5 44.1,138.9 44.5,160.3 45,140.3 45.4,145.5 45.9,158.7 46.3,161.6 46.8,162.5 47.2,160.2 47.7,162.4 48.1,159.7 48.6,158.3 49,150.9 49.5,170.5 49.9,158.2 50.4,140.2 50.8,155.4 51.3,144.7 51.7,146.3 52.2,137.5 52.6,152.9 53.1,140.8 53.5,152.5 54,149.5 54.4,150.5 54.9,164 55.3,156.4 55.8,142.5 56.2,145 56.7,150.3 57.1,155.1 57.6,150 58,138.3 58.5,161.7 58.9,126.8 59.4,161.9 59.8,137.9 60.3,159.2 60.7,151.9 61.2,129.3 61.6,158.9 62.1,146.3 62.5,141.2 63,153.1 63.4,163 63.9,146.5 64.3,146.5 64.8,150.6 65.2,141.5 65.7,162 66.1,147.9 66.6,156 67,139.1 67.5,138 67.9,146.3 68.4,167.7 68.8,155.8 69.3,159 69.7,149.7 70.2,152.2 70.6,151.3 71.1,155.7 71.5,140.3 72,137.9 72.4,137.4 72.9,140.4 73.3,158.6 73.8,139.5 74.2,128.4 74.7,137.5 75.1,155 75.6,141.8 76,171.6 76.5,152.5 76.9,156.6 77.4,139.2 77.8,142.3 78.3,132.8 78.7,157.2 79.2,150.9 79.6,135.2 80.1,177.7 80.5,123.4 81,133.8 81.4,138.1 81.9,134.5 82.3,115.1 82.8,127.3 83.2,125.6 83.7,132.2 84.1,118.7 84.6,115.2 85,117.2 85.5,110.7 85.9,114.2 86.4,107.7 86.8,115.8 87.3,109.9 87.7,102.3 88.2,103.6 88.6,103.5 89.1,102.6 89.5,97.7 90,96 90.4,90.7 90.9,90 91.3,88.8 91.8,90.8 92.2,86.9 92.7,83.4 93.1,82.6 93.6,81.1 94,79.8 94.5,80.3 94.9,76.9 95.4,74.7 95.8,73.6 96.3,71.7 96.7,70.2 97.2,68.3 97.6,66.8 98.1,64.5 98.5,62.7 99,61.6 99.4,60.4 99.9,58.9 100.3,58.1 100.8,56.7 101.2,56.1 101.7,55.1 102.1,55.1 102.6,54.4 103,54.6 103.5,54 103.9,53.2 104.4,52.9 104.8,53 105.3,51.9 105.7,51.4 106.2,51.5 106.6,50.6 107.1,50.5 107.5,50.1 108,50.4 108.4,50.6 108.9,49.8 109.3,50.5 109.8,49.6 110.2,49.1 110.7,48.8 111.1,48.8 111.6,48.2 112,48.2 112.5,47.4 112.9,46.8 113.4,47.1 113.8,46.9 114.3,46 114.7,45.7 115.2,45.5 115.6,45.5 116.1,45.2 116.5,45.4 117,44.7 117.4,44.5 117.9,44.3 118.3,43.7 118.8,43.8 119.2,43.4 119.7,43.4 120.1,42.8 120.6,42.3 121,42.4 121.5,42.3 121.9,42.4 122.4,42.2 122.8,42.4 123.3,41.5 123.7,41.4 124.2,41.7 124.6,40.8 125.1,40.8 125.5,40.7 126,40.5 126.4,40.2 126.9,39.7 127.3,39.6 127.8,39.5 128.2,38.8 128.7,39.3 129.1,38.8 129.6,39 130,38.4 130.5,38.1 130.9,38.3 131.4,37.6 131.8,38 132.3,37.7 132.7,37.4 133.2,37.1 133.6,37.4 134.1,36.6 134.5,37.2 135,36.3 135.4,36.6 135.9,36.2 136.3,35.5 136.8,36.3 137.2,36.2 137.7,36.1 138.1,35.8 138.6,35.5 139,35.2 139.5,35.8 139.9,35.2 140.4,34.9 140.8,34.6 141.3,34.6 141.7,34.4 142.2,33.8 142.6,34.1 143.1,33.4 143.5,34 144,33.7 144.4,33.5 144.9,33.6 145.3,33.3 145.8,33.6 146.2,33.4 146.7,33.6 147.1,33.5 147.6,33.2 148,33.1 148.5,33.2 148.9,33.2 149.4,32.7 149.8,33 150.3,32.6 150.7,32.1 151.2,32.1 151.6,32.4 152.1,31.9 152.5,31.9 153,32 153.4,32 153.9,31.3 154.3,31.4 154.8,31.5 155.2,31.3 155.7,31.1 156.1,30.4 156.6,30.7 157,31 157.5,30.9 157.9,30.8 158.4,30.4 158.8,30.7 159.3,30.3 159.7,30.6 160.2,30.9 160.6,30.2 161.1,30.2 161.5,30 162,30.3 162.4,30.3 162.9,30 163.3,29.7 163.8,29.7 164.2,29.8 164.7,29.6 165.1,29.5 165.6,29.5 166,29.4 166.5,29.2 166.9,29.3 167.4,29.2 167.8,29.2 168.3,29.1 168.7,28.8 169.2,28.9 169.6,28.7 170.1,29 170.5,28.8 171,28.9 171.4,28.8 171.9,28.6 172.3,28.5 172.8,28.4 173.2,28.2 173.7,28.1 174.1,27.8 174.6,27.9 175,27.7 175.5,27.6 175.9,27.7 176.4,27.7 176.8,27.3 177.3,27.5 177.7,26.9 178.2,26.8 178.6,27.1 179.1,26.6 179.5,26.6 180,26.6 180.4,26.5 180.9,26.2 181.3,26.5 181.8,26.3 182.2,26 182.7,26 183.1,26.3 183.6,25.6 184,25.5 184.5,25.7 184.9,25.6 185.4,25.5 185.8,26.1 186.3,25.8 186.7,25.9 187.2,25.6 187.6,25.7 188.1,25.6 188.5,25.3 189,25 189.4,25.3 189.9,24.7 190.3,24.6 190.8,24.6 191.2,24.4 191.7,24.6 192.1,24.3 192.6,24.6 193,24.3 193.5,24.2 193.9,24.1 194.4,24.4 194.8,24.4 195.3,24 195.7,23.9 196.2,23.8 196.6,24 197.1,24.1 197.5,23.7 198,23.7 198.4,23.8 198.9,23.3 199.3,23.4 199.8,23.2 200.2,23.2 200.7,23.5 201.1,23.1 201.6,23.3 202,22.7 202.5,22.3 202.9,22.8 203.4,22.5 203.8,22.5 204.3,22.5 204.7,22.5 205.2,22.6 205.6,22.2 206.1,22.3 206.5,22.1 207,21.8 207.4,22 207.9,21.7 208.3,21.8 208.8,21.7 209.2,21.8 209.7,21.8 210.1,21.6 210.6,21.6 211,21.3 211.5,21.3 211.9,21.3 212.4,21 212.8,20.9 213.3,20.9 213.7,20.8 214.2,20.7 214.6,20.8 215.1,20.9 215.5,21.2 216,21 216.4,21 216.9,21.1 217.3,21 217.8,20.8 218.2,20.8 218.7,20.4 219.1,20.5 219.6,20.5 220,20.3 220.5,20.7 220.9,20.4 221.4,20.2 221.8,20 222.3,20.3 222.7,20.3 223.2,20.3 223.6,20.1 224.1,20.4 224.5,20 225,20.1 225.4,20 225.9,19.6 226.3,20.1 226.8,19.9 227.2,19.9 227.7,19.7 228.1,19.6 228.6,19.6 229,19.5 229.5,19.8 229.9,19.4 230.4,19.7 230.8,19.6 231.3,19.6 231.7,19.7 232.2,19.4 232.6,19.5 233.1,19.7 233.5,19.4 234,19.6 234.4,19 234.9,18.9 235.3,18.9 235.8,18.8 236.2,19 236.7,19 237.1,18.7 237.6,19.1 238,18.8 238.5,18.7 238.9,19.4 239.4,18.8 239.8,19.2 240.3,19.2 240.7,19.3 241.2,19.1 241.6,18.8 242.1,18.8 242.5,18.5 243,18.3 243.4,18.4 243.9,18.1 244.3,18 244.8,17.6 245.2,17.8 245.7,17.8 246.1,17.8 246.6,17.7 247,17.7 247.5,17.6 247.9,17.6 248.4,17.9 248.8,17.7 249.3,17.6 249.7,17.3 250.2,17.2 250.6,17.1 251.1,17.1 251.5,17.4 252,16.8 252.4,17.1 252.9,17.1 253.3,16.6 253.8,16.9 254.2,17.1 254.7,16.5 255.1,16.6 255.6,16.6 256,16.8 256.5,16.5 256.9,16.7 257.4,16.4 257.8,16.7 258.3,16.7 258.7,16.9 259.2,16.5 259.6,16.2 260.1,16.2 260.5,16.1 261,15.8 261.4,16.1 261.9,15.9 262.3,135.7 262.8,137.2 263.2,139.8 263.7,164.8 264.1,140.4 264.6,150.3 265,143.4 265.5,148 265.9,152.9 266.4,137.8 266.8,154.5 267.3,152 267.7,145.5 268.2,149.5 268.6,145.1 269.1,152.9 269.5,137.6 270,148.1 270.4,144 270.9,146.1" fill="none" stroke="#1c4f3c" stroke-width="2.0" stroke-linejoin="round" />
<polyline points="28.8,132.7 29.2,160.2 29.7,154.4 30.1,155.2 30.6,151.3 31,154.7 31.5,142.8 31.9,149.6 32.4,162.6 32.8,149.7 33.3,127.5 33.7,157.5 34.2,154.9 34.6,133.4 35.1,141.7 35.5,156.5 36,152.9 36.4,139.5 36.9,165.6 37.3,144.1 37.8,171.8 38.2,136.4 38.7,152.7 39.1,143.3 39.6,154.2 40,150.8 40.5,128.9 40.9,163.6 41.4,148.7 41.8,145.8 42.3,153.4 42.7,150.9 43.2,171.5 43.6,155.1 44.1,163.9 44.5,131.3 45,170 45.4,148.7 45.9,166.4 46.3,155.6 46.8,142.8 47.2,143.6 47.7,131.7 48.1,130 48.6,127.4 49,120.9 49.5,120.5 49.9,111.5 50.4,107 50.8,110.5 51.3,103.5 51.7,100.4 52.2,95.1 52.6,90.2 53.1,87.6 53.5,86.9 54,84.6 54.4,85.6 54.9,83.6 55.3,82.1 55.8,80.6 56.2,78.7 56.7,75 57.1,74.4 57.6,70.1 58,69.9 58.5,68.3 58.9,65.1 59.4,64 59.8,61.9 60.3,61.4 60.7,61.5 61.2,60.9 61.6,60.4 62.1,59 62.5,59.9 63,60.1 63.4,66.2 63.9,72.7 64.3,79.1 64.8,84.4 65.2,86.2 65.7,88.6 66.1,93.2 66.6,95 67,99.2 67.5,104.3 67.9,102.8 68.4,102.9 68.8,102.2 69.3,107 69.7,108.9 70.2,112.5 70.6,109.6 71.1,109.9 71.5,113.4 72,112 72.4,107.1 72.9,129.7 73.3,136.2 73.8,141.7 74.2,126.6 74.7,128.6 75.1,142.3 75.6,150.5 76,173.9 76.5,152 76.9,147.3 77.4,157.9 77.8,155.5 78.3,134.2 78.7,148.9 79.2,167.4 79.6,154.3 80.1,145.8 80.5,149.8 81,135.6 81.4,141.9 81.9,128.4 82.3,134.9 82.8,139.2 83.2,163.7 83.7,132.7 84.1,157.1 84.6,140.3 85,169.6 85.5,159.1 85.9,154.9 86.4,164.7 86.8,144.8 87.3,156.9 87.7,160.6 88.2,136.8 88.6,166 89.1,159.5 89.5,159.6 90,149.3 90.4,139.7 90.9,146.6 91.3,156.7 91.8,156.2 92.2,155.1 92.7,150.5 93.1,143.2 93.6,149.1 94,164.5 94.5,159.2 94.9,158.8 95.4,144 95.8,164.3 96.3,141.7 96.7,139 97.2,141.3 97.6,165.1 98.1,161.5 98.5,147.9 99,141.8 99.4,131.7 99.9,150.2 100.3,140.1 100.8,193.6 101.2,132 101.7,159.9 102.1,165.6 102.6,139 103,135.4 103.5,162.9 103.9,156 104.4,133.6 104.8,140.8 105.3,152 105.7,138.3 106.2,137.7 106.6,131.9 107.1,145.5 107.5,150.1 108,144.7 108.4,160 108.9,177.5 109.3,128.7 109.8,134.1 110.2,139.5 110.7,161.8 111.1,130.8 111.6,159.5 112,140.5 112.5,135.9 112.9,143.7 113.4,159.2 113.8,147.1 114.3,138.1 114.7,147.7 115.2,146.3 115.6,149.1 116.1,159.2 116.5,143.7 117,142 117.4,158.5 117.9,129.8 118.3,154.3 118.8,140.2 119.2,166.4 119.7,167 120.1,131.3 120.6,150.3 121,135.2 121.5,143.9 121.9,146.9 122.4,146.9 122.8,140 123.3,125.7 123.7,156 124.2,164.8 124.6,141.6 125.1,144.3 125.5,139.3 126,140 126.4,148.3 126.9,140.2 127.3,148 127.8,139.3 128.2,137.8 128.7,161.7 129.1,150.5 129.6,153.3 130,135 130.5,148.7 130.9,162.2 131.4,135.8 131.8,143.5 132.3,147.4 132.7,149.5 133.2,157.1 133.6,150.4 134.1,149 134.5,134 135,136.1 135.4,149.5 135.9,165 136.3,159.4 136.8,161 137.2,160.4 137.7,128.7 138.1,166.9 138.6,196.2 139,158.8 139.5,144 139.9,146.8 140.4,134.8 140.8,136.9 141.3,141.8 141.7,147.7 142.2,162.1 142.6,137.9 143.1,155.3 143.5,148.9 144,129.4 144.4,153.3 144.9,143.4 145.3,145.4 145.8,151.3 146.2,153.8 146.7,153 147.1,155.7 147.6,161.5 148,147.9 148.5,163.4 148.9,141.5 149.4,160.4 149.8,129.2 150.3,139.8 150.7,148.4 151.2,160.2 151.6,143.7 152.1,139 152.5,127.4 153,143.2 153.4,154.3 153.9,165.2 154.3,153 154.8,137.1 155.2,143 155.7,164.1 156.1,130.7 156.6,147.8 157,166.7 157.5,149.5 157.9,150.7 158.4,144.8 158.8,148.9 159.3,160 159.7,142.5 160.2,160.2 160.6,147.6 161.1,149.5 161.5,144.1 162,154.9 162.4,164.8 162.9,161.1 163.3,139.7 163.8,139 164.2,142.1 164.7,151.5 165.1,147.8 165.6,162.8 166,169.6 166.5,133.7 166.9,183.4 167.4,151.7 167.8,146 168.3,178.1 168.7,139.7 169.2,149.2 169.6,160.4 170.1,130.5 170.5,141.3 171,160.3 171.4,166.1 171.9,165.3 172.3,126.6 172.8,145.4 173.2,139 173.7,145.3 174.1,165.5 174.6,137.7 175,138.6 175.5,136.9 175.9,162.7 176.4,158.9 176.8,146.7 177.3,144.7 177.7,151.2 178.2,135.3 178.6,159.8 179.1,140.6 179.5,160.2 180,152.6 180.4,159.5 180.9,162.5 181.3,147.5 181.8,155.4 182.2,139.7 182.7,154.4 183.1,153.1 183.6,165.4 184,162.6 184.5,148.1 184.9,165.3 185.4,160.9 185.8,154.3 186.3,155.8 186.7,165.2 187.2,146.8 187.6,141.3 188.1,129.9 188.5,147 189,139.8 189.4,145.7 189.9,142 190.3,137.6 190.8,148 191.2,150 191.7,145.6 192.1,165.6 192.6,128.9 193,130.6 193.5,144.9 193.9,135.5 194.4,143.7 194.8,136 195.3,165.8 195.7,151.5 196.2,146.7 196.6,150.8 197.1,161.8 197.5,160.9 198,135.3 198.4,135.5 198.9,139.7 199.3,169.4 199.8,141.2 200.2,164.4 200.7,143.5 201.1,132.5 201.6,136.3 202,153.7 202.5,163.8 202.9,131.3 203.4,162.7 203.8,143.4 204.3,155.2 204.7,161.4 205.2,147.9 205.6,137 206.1,142.9 206.5,180.5 207,154.9 207.4,142.5 207.9,151.9 208.3,133.3 208.8,155.5 209.2,156.6 209.7,156.9 210.1,164.6 210.6,156.7 211,137.9 211.5,152.9 211.9,164.3 212.4,145.7 212.8,163.7 213.3,142.6 213.7,143.5 214.2,130.9 214.6,147.8 215.1,139.6 215.5,137.4 216,128.8 216.4,149 216.9,135 217.3,155 217.8,163.5 218.2,149.9 218.7,139.9 219.1,149.6 219.6,146.3 220,162.8 220.5,165.9 220.9,170.1 221.4,140.8 221.8,150.2 222.3,142.3 222.7,137.1 223.2,146.5 223.6,170.2 224.1,139.7 224.5,144.7 225,144 225.4,153.9 225.9,146.9 226.3,164.6 226.8,139.2 227.2,134.2 227.7,144.7 228.1,143.6 228.6,141.8 229,156.5 229.5,163.2 229.9,154.8 230.4,155.9 230.8,150 231.3,153.9 231.7,138.5 232.2,164.7 232.6,127.6 233.1,154.5 233.5,147.5 234,144.6 234.4,158.8 234.9,156 235.3,172.1 235.8,170.2 236.2,156.3 236.7,157.3 237.1,139.4 237.6,141.1 238,154.1 238.5,153.9 238.9,148.9 239.4,143.6 239.8,172.3 240.3,157.2 240.7,153.9 241.2,137.8 241.6,138.5 242.1,143.1 242.5,128.9 243,140.3 243.4,136.8 243.9,164.3 244.3,149.3 244.8,135.3 245.2,161.5 245.7,149.1 246.1,128.2 246.6,151.2 247,155.6 247.5,145.2 247.9,144.7 248.4,160.6 248.8,157.1 249.3,138.9 249.7,130.7 250.2,153.7 250.6,155.6 251.1,161 251.5,164 252,155 252.4,141.7 252.9,138.4 253.3,150.7 253.8,180.4 254.2,159 254.7,142.5 255.1,141.7 255.6,129.1 256,155.1 256.5,143.2 256.9,136.3 257.4,142.9 257.8,143.1 258.3,136.9 258.7,163.8 259.2,138.3 259.6,150.2 260.1,161 260.5,163.7 261,144.3 261.4,149.5 261.9,158.1 262.3,161.9 262.8,149.9 263.2,163.6 263.7,161.6 264.1,143.2 264.6,146.9 265,143.3 265.5,144.9 265.9,157" fill="none" stroke="#1f34a6" stroke-width="2.4" stroke-linejoin="round" />
<polyline points="28.8,157.7 29.2,148.2 29.7,145.9 30.1,163.8 30.6,138.2 31,155.5 31.5,162.8 31.9,161.7 32.4,135.8 32.8,164.3 33.3,159.8 33.7,151.6 34.2,158.9 34.6,148.1 35.1,179.6 35.5,165.2 36,165.9 36.4,157.5 36.9,143.4 37.3,168.6 37.8,158.7 38.2,146.7 38.7,141.8 39.1,169.6 39.6,138.4 40,132.9 40.5,151.7 40.9,139.9 41.4,167.3 41.8,168.3 42.3,145.9 42.7,165.6 43.2,130.4 43.6,158.4 44.1,158.2 44.5,146.1 45,153.5 45.4,144 45.9,147.9 46.3,158.8 46.8,165.6 47.2,143.1 47.7,168.2 48.1,146.1 48.6,142.6 49,154.3 49.5,130.4 49.9,172 50.4,138.9 50.8,132.7 51.3,126.3 51.7,121.7 52.2,116.5 52.6,112.4 53.1,110.7 53.5,115.6 54,119.1 54.4,108.6 54.9,102.3 55.3,101.4 55.8,101.5 56.2,94.4 56.7,98.6 57.1,97.4 57.6,92.2 58,90.4 58.5,88.7 58.9,90.5 59.4,85.3 59.8,87 60.3,84.1 60.7,86.2 61.2,83.4 61.6,81.6 62.1,79.9 62.5,77.7 63,79.2 63.4,73.7 63.9,72.5 64.3,70.4 64.8,70 65.2,67.1 65.7,65.7 66.1,64.7 66.6,62.8 67,61.6 67.5,62 67.9,68.7 68.4,74.6 68.8,81.4 69.3,85 69.7,86.5 70.2,89.3 70.6,92.8 71.1,95 71.5,100 72,105.3 72.4,111.7 72.9,109.4 73.3,110.4 73.8,119.9 74.2,126.9 74.7,128.7 75.1,129.9 75.6,124 76,139.2 76.5,127.1 76.9,147.6 77.4,156.2 77.8,158.2 78.3,146.1 78.7,147.4 79.2,146.5 79.6,148.7 80.1,150.9 80.5,168.3 81,143.2 81.4,137 81.9,147.1 82.3,153 82.8,145 83.2,157.9 83.7,149.3 84.1,143.1 84.6,142.9 85,149.4 85.5,152.9 85.9,150.8 86.4,160.6 86.8,141.9 87.3,136 87.7,155.8 88.2,128 88.6,138 89.1,153.4 89.5,161.8 90,134.7 90.4,148.2 90.9,145.3 91.3,140.8 91.8,133.9 92.2,139.8 92.7,139.1 93.1,145.7 93.6,162.3 94,169.6 94.5,161.9 94.9,146.5 95.4,127.5 95.8,145.9 96.3,143.6 96.7,159 97.2,131 97.6,151 98.1,146.7 98.5,165.5 99,136.5 99.4,160.3 99.9,138.9 100.3,146.7 100.8,161.5 101.2,134.1 101.7,145.1 102.1,135 102.6,129.3 103,150.4 103.5,134.8 103.9,145 104.4,163.1 104.8,156.7 105.3,132.5 105.7,150.8 106.2,143.5 106.6,138.9 107.1,141.4 107.5,165.8 108,151.1 108.4,144.6 108.9,194.5 109.3,168.5 109.8,162.8 110.2,161.4 110.7,165.8 111.1,166.7 111.6,147.6 112,164.9 112.5,164.7 112.9,153.1 113.4,135.5 113.8,154.7 114.3,141.6 114.7,164.1 115.2,145.8 115.6,162.5 116.1,154.1 116.5,149.5 117,157 117.4,164.2 117.9,139.4 118.3,153.3 118.8,132.1 119.2,149.4 119.7,138.3 120.1,161.7 120.6,166.2 121,188.3 121.5,153.5 121.9,141.5 122.4,159.2 122.8,177 123.3,160.7 123.7,158.2 124.2,152.6 124.6,184.4 125.1,145.4 125.5,145.3 126,135.3 126.4,157.8 126.9,149.9 127.3,163.7 127.8,183.9 128.2,150.3 128.7,153.4 129.1,152.9 129.6,155.3 130,139.1 130.5,159.7 130.9,158.1 131.4,130 131.8,167.4 132.3,160.8 132.7,152.4 133.2,151.4 133.6,139.8 134.1,150.7 134.5,155.5 135,136.8 135.4,157.1 135.9,131.2 136.3,154.2 136.8,147.9 137.2,145.4 137.7,156.4 138.1,173.3 138.6,136.1 139,157.5 139.5,171.1 139.9,169.7 140.4,134 140.8,143.6 141.3,132.5 141.7,152.3 142.2,142.7 142.6,157.8 143.1,135.4 143.5,149.1 144,139.6 144.4,139.8 144.9,159.7 145.3,168.4 145.8,143.5 146.2,128.3 146.7,139.5 147.1,161.6 147.6,146.5 148,150.2 148.5,136.5 148.9,144.9 149.4,151.3 149.8,135.6 150.3,140.2 150.7,151.3 151.2,151.6 151.6,135.8 152.1,156.5 152.5,139.2 153,152.6 153.4,150.9 153.9,145.7 154.3,164.8 154.8,150.5 155.2,188.2 155.7,133.9 156.1,131.8 156.6,142.7 157,159.4 157.5,150.6 157.9,142.3 158.4,153 158.8,188.1 159.3,147.4 159.7,157.7 160.2,145.5 160.6,151.4 161.1,148.6 161.5,158.1 162,143 162.4,134.9 162.9,145.4 163.3,173.4 163.8,152.1 164.2,148.8 164.7,150 165.1,140.6 165.6,165 166,145.9 166.5,177 166.9,153.2 167.4,157.8 167.8,163.6 168.3,189.2 168.7,148.2 169.2,147.4 169.6,161.8 170.1,144.9 170.5,153.6 171,157.1 171.4,138.5 171.9,159.5 172.3,142.8 172.8,138.2 173.2,128.2 173.7,155.2 174.1,141.5 174.6,160.4 175,149.6 175.5,149.5 175.9,140.3 176.4,141.7 176.8,164.9 177.3,135.1 177.7,159.8 178.2,171.3 178.6,157.4 179.1,147.7 179.5,140.6 180,141.8 180.4,145 180.9,148.8 181.3,137.3 181.8,161 182.2,143.7 182.7,134.3 183.1,135.9 183.6,151.3 184,129.4 184.5,156.5 184.9,147.5 185.4,144.9 185.8,137.3 186.3,178.9 186.7,150 187.2,170.1 187.6,130.2 188.1,134.2 188.5,151.3 189,145.3 189.4,161.9 189.9,172.1 190.3,155.7 190.8,139 191.2,166.8 191.7,162.8 192.1,143.6 192.6,152.4 193,141.3 193.5,136.4 193.9,160.7 194.4,151.7 194.8,187.6 195.3,133.5 195.7,130.2 196.2,160.8 196.6,165.7 197.1,138.3 197.5,162.1 198,157.9 198.4,147.7 198.9,164.8 199.3,189.2 199.8,139.6 200.2,150.3 200.7,169.8 201.1,157.6 201.6,140.4 202,171.9 202.5,162.9 202.9,139.4 203.4,139.4 203.8,146.5 204.3,138.7 204.7,140.4 205.2,152.1 205.6,166.5 206.1,148.3 206.5,155.5 207,142.3 207.4,174.1 207.9,157.7 208.3,150.4 208.8,141.4 209.2,166.4 209.7,135.6 210.1,138.9 210.6,157.8 211,141.7 211.5,143.7 211.9,162.8 212.4,164 212.8,148.2 213.3,172.6 213.7,152.4 214.2,142.7 214.6,127.9 215.1,148.9 215.5,165.5 216,149.6 216.4,143.6 216.9,166.2 217.3,138.5 217.8,136.3 218.2,148.7 218.7,144.5 219.1,143.5 219.6,148 220,129.2 220.5,139.9 220.9,140.3 221.4,163.3 221.8,161.9 222.3,184.5 222.7,146.6 223.2,145 223.6,148.2 224.1,148.4 224.5,142.6 225,149.9 225.4,134.5 225.9,137 226.3,153.8 226.8,154.1 227.2,133.6 227.7,147 228.1,144.9 228.6,165.7 229,144.7 229.5,147.2 229.9,142.9 230.4,137.3 230.8,142.2 231.3,162.1 231.7,129 232.2,132.9 232.6,152.7 233.1,145.3 233.5,177.1 234,145.7 234.4,137.2 234.9,137.5 235.3,141 235.8,131 236.2,159 236.7,139.2 237.1,149.3 237.6,167.6 238,161.6 238.5,154.7 238.9,163.9 239.4,137.1 239.8,164.6 240.3,143.1 240.7,154.7 241.2,175 241.6,146.9 242.1,158.5 242.5,136.5 243,133.9 243.4,151.7 243.9,136.5 244.3,131.6 244.8,155.8 245.2,137 245.7,162.8 246.1,149.1 246.6,150.2 247,143 247.5,130 247.9,131.3 248.4,160.6 248.8,148.3 249.3,135.6 249.7,147.9 250.2,130.8 250.6,145.1 251.1,158.5 251.5,150.2 252,161 252.4,165 252.9,159.3 253.3,166.5 253.8,141.9 254.2,139.1 254.7,138.2 255.1,149.7 255.6,128.4 256,141.8 256.5,127.7 256.9,147.5 257.4,134.4 257.8,156.9 258.3,163.1 258.7,146.4 259.2,150 259.6,157.2 260.1,137.6 260.5,146.9 261,144.1 261.4,154.8 261.9,160.7 262.3,138.7 262.8,171.4 263.2,150.6 263.7,142.1 264.1,148.4 264.6,146 265,160.8 265.5,133 265.9,140.3" fill="none" stroke="#2ccfd0" stroke-width="2.4" stroke-linejoin="round" />
<polyline points="28.8,160 29.2,161.8 29.7,128.6 30.1,135 30.6,135.4 31,134.5 31.5,144 31.9,154 32.4,170.8 32.8,144.8 33.3,176.2 33.7,163.7 34.2,148.4 34.6,134.7 35.1,149.8 35.5,149.6 36,132.5 36.4,145 36.9,165.5 37.3,151.3 37.8,148.2 38.2,153.1 38.7,158.1 39.1,150.3 39.6,164.4 40,160.9 40.5,136.8 40.9,165.1 41.4,138.6 41.8,150.6 42.3,151.1 42.7,160.2 43.2,159.7 43.6,146.5 44.1,116.4 44.5,137.7 45,138.8 45.4,156.4 45.9,150.5 46.3,160.9 46.8,185.1 47.2,188.1 47.7,150.7 48.1,161.9 48.6,153.4 49,153.2 49.5,160.8 49.9,156.7 50.4,163.5 50.8,154.3 51.3,160.8 51.7,164.1 52.2,164.5 52.6,143.7 53.1,131.4 53.5,134.2 54,158.6 54.4,129.4 54.9,149 55.3,163.7 55.8,148.9 56.2,164.1 56.7,163.2 57.1,158.3 57.6,138.6 58,155.7 58.5,138.8 58.9,163.5 59.4,141.5 59.8,129.6 60.3,151.4 60.7,123.8 61.2,117.6 61.6,113.1 62.1,106.4 62.5,107.9 63,109.6 63.4,105.3 63.9,103.7 64.3,98.7 64.8,96.7 65.2,92.1 65.7,94.1 66.1,90.5 66.6,87.6 67,85.2 67.5,84 67.9,82.7 68.4,81.9 68.8,82 69.3,79.3 69.7,78.4 70.2,78.3 70.6,77.4 71.1,73.8 71.5,71.3 72,70.5 72.4,71 72.9,66.1 73.3,64.6 73.8,64.6 74.2,62.7 74.7,60.9 75.1,61.6 75.6,62.1 76,65.4 76.5,70.9 76.9,77.3 77.4,82.6 77.8,85.6 78.3,87.2 78.7,90.1 79.2,93.8 79.6,96.8 80.1,96 80.5,99.2 81,105.7 81.4,98.9 81.9,109.3 82.3,104.4 82.8,107.4 83.2,102.6 83.7,106.5 84.1,115 84.6,113.9 85,115.2 85.5,111.7 85.9,98.8 86.4,120.1 86.8,140.6 87.3,133 87.7,145.2 88.2,147.2 88.6,143.1 89.1,149.1 89.5,158.8 90,153.4 90.4,179.2 90.9,139.2 91.3,159.6 91.8,146.9 92.2,160.4 92.7,162.9 93.1,175.5 93.6,150.7 94,161.9 94.5,149 94.9,151.4 95.4,150.1 95.8,147.9 96.3,160.6 96.7,150.4 97.2,142.5 97.6,147.8 98.1,162.2 98.5,141.2 99,143.1 99.4,135.9 99.9,145.7 100.3,150.8 100.8,136.2 101.2,152.3 101.7,137.4 102.1,153.6 102.6,149.8 103,165.7 103.5,130.9 103.9,136.5 104.4,139.8 104.8,153.8 105.3,144.9 105.7,136 106.2,147.9 106.6,165.2 107.1,144.9 107.5,141.5 108,141.1 108.4,139.9 108.9,156.8 109.3,134.7 109.8,158.6 110.2,146.4 110.7,163.6 111.1,147.7 111.6,145.9 112,142.9 112.5,125 112.9,132 113.4,153.2 113.8,137.4 114.3,161.1 114.7,156 115.2,147.9 115.6,153.8 116.1,142.8 116.5,135.6 117,162.3 117.4,155.2 117.9,135.5 118.3,143 118.8,152.4 119.2,149.7 119.7,172.9 120.1,127.5 120.6,155 121,151.1 121.5,157.1 121.9,148.8 122.4,139.6 122.8,181.4 123.3,157.1 123.7,165.6 124.2,153.3 124.6,175.5 125.1,183.2 125.5,155 126,136.6 126.4,160.2 126.9,154.6 127.3,159 127.8,146.4 128.2,133.1 128.7,138.6 129.1,158.8 129.6,152.2 130,152.9 130.5,200.1 130.9,150.4 131.4,134.1 131.8,172.3 132.3,163.4 132.7,140.5 133.2,130 133.6,159.4 134.1,134 134.5,156.6 135,131.9 135.4,138.2 135.9,167.6 136.3,156 136.8,141.6 137.2,133 137.7,149.9 138.1,148.1 138.6,156.2 139,133.5 139.5,163.2 139.9,157.3 140.4,134.9 140.8,161.1 141.3,156.5 141.7,155.4 142.2,144.9 142.6,140.6 143.1,151.9 143.5,150.5 144,143.8 144.4,147.9 144.9,142.3 145.3,161.3 145.8,155.8 146.2,160 146.7,143.3 147.1,159.9 147.6,134.5 148,162.6 148.5,158.7 148.9,134.7 149.4,142.1 149.8,176.9 150.3,142 150.7,146.6 151.2,162.6 151.6,148.6 152.1,159.3 152.5,155.8 153,138 153.4,165.7 153.9,144 154.3,151.5 154.8,161.4 155.2,162.4 155.7,142.2 156.1,154.4 156.6,157.6 157,148.1 157.5,145.9 157.9,150 158.4,144.3 158.8,147.2 159.3,140.9 159.7,146.5 160.2,158.6 160.6,161.8 161.1,157.1 161.5,142.4 162,152.9 162.4,151.8 162.9,153.5 163.3,165.2 163.8,151.1 164.2,152.6 164.7,132.6 165.1,144.8 165.6,147.7 166,154.6 166.5,135.4 166.9,142 167.4,160.2 167.8,167.5 168.3,143.3 168.7,157.2 169.2,140.6 169.6,160.2 170.1,148.7 170.5,148.5 171,144.2 171.4,163.7 171.9,161.4 172.3,148.9 172.8,143.7 173.2,147.5 173.7,148.7 174.1,160 174.6,166.9 175,135.5 175.5,148.3 175.9,156.4 176.4,152 176.8,145.4 177.3,161.5 177.7,145.7 178.2,159.5 178.6,138.7 179.1,162.1 179.5,130.2 180,153 180.4,146.4 180.9,147.3 181.3,149.6 181.8,139.4 182.2,162.7 182.7,138.3 183.1,149.7 183.6,156.6 184,146.2 184.5,156.6 184.9,155.5 185.4,162.6 185.8,144.8 186.3,154.9 186.7,145.5 187.2,157 187.6,159.7 188.1,168.7 188.5,131.6 189,147.2 189.4,150.6 189.9,148.4 190.3,156.8 190.8,153.4 191.2,160.8 191.7,155.7 192.1,152.6 192.6,137.8 193,162.2 193.5,168.4 193.9,139.7 194.4,146.7 194.8,138.4 195.3,151.2 195.7,148.3 196.2,148.6 196.6,130.2 197.1,124.8 197.5,152.1 198,142.9 198.4,144.1 198.9,136.3 199.3,140.9 199.8,128.9 200.2,156.5 200.7,160.2 201.1,154.4 201.6,145.8 202,155 202.5,154.6 202.9,155.1 203.4,128.4 203.8,140.3 204.3,140.3 204.7,144.4 205.2,166.4 205.6,151.5 206.1,157.8 206.5,161.8 207,165.2 207.4,150.5 207.9,168.6 208.3,143.5 208.8,157.8 209.2,142 209.7,155.4 210.1,144.3 210.6,127.8 211,201 211.5,172.1 211.9,132.7 212.4,149.9 212.8,146 213.3,150.6 213.7,165.3 214.2,152.5 214.6,140.5 215.1,154.8 215.5,135 216,140.5 216.4,135.2 216.9,163 217.3,136.6 217.8,152.1 218.2,159.2 218.7,136.1 219.1,136.4 219.6,139.1 220,161.8 220.5,153.7 220.9,146.6 221.4,160.4 221.8,149.7 222.3,138.2 222.7,141.2 223.2,138.2 223.6,157.5 224.1,138.3 224.5,150.1 225,142.6 225.4,143.9 225.9,150.5 226.3,139.7 226.8,134.2 227.2,154.2 227.7,143.7 228.1,133 228.6,134.7 229,151.7 229.5,159.6 229.9,130.8 230.4,139.1 230.8,165.1 231.3,145.9 231.7,158.7 232.2,151.7 232.6,151 233.1,146.1 233.5,138.6 234,130.2 234.4,155.6 234.9,156.9 235.3,142.6 235.8,152.6 236.2,145.8 236.7,149 237.1,155.4 237.6,158.7 238,155.8 238.5,158.6 238.9,148.8 239.4,153.3 239.8,138.4 240.3,175 240.7,158.6 241.2,143.8 241.6,157.3 242.1,151 242.5,140.4 243,164.2 243.4,127.2 243.9,165.7 244.3,126 244.8,140.2 245.2,144 245.7,144.7 246.1,134.3 246.6,149.6 247,142.4 247.5,164 247.9,210.3 248.4,165.3 248.8,148.8 249.3,160.3 249.7,152.6 250.2,169.2 250.6,161.3 251.1,130.5 251.5,140.8 252,160.2 252.4,162.6 252.9,156.8 253.3,149.9 253.8,210.3 254.2,134.9 254.7,153.4 255.1,172.9 255.6,132.3 256,159.4 256.5,134.5 256.9,134 257.4,164.3 257.8,155.3 258.3,154.5 258.7,141.7 259.2,168.6 259.6,135.5 260.1,172 260.5,138.7 261,140.7 261.4,142.8 261.9,155 262.3,141.7 262.8,166.3 263.2,162.2 263.7,143.5 264.1,170.3 264.6,125.9 265,166.4 265.5,151.7 265.9,145.3" fill="none" stroke="#9f98e6" stroke-width="2.4" stroke-linejoin="round" />
<polyline points="28.8,170.7 29.2,142.8 29.7,150.7 30.1,155.7 30.6,128.9 31,161.6 31.5,168.3 31.9,148.4 32.4,154.8 32.8,135.2 33.3,146.5 33.7,129.8 34.2,152.1 34.6,146.5 35.1,160 35.5,142.9 36,153.3 36.4,148.9 36.9,148.5 37.3,167.4 37.8,148.3 38.2,148.4 38.7,163.8 39.1,149.2 39.6,159 40,149.4 40.5,142.8 40.9,131.5 41.4,141 41.8,154.6 42.3,166.8 42.7,135.4 43.2,153.4 43.6,167.1 44.1,142 44.5,144.4 45,149.8 45.4,144.9 45.9,136.9 46.3,165.7 46.8,142.9 47.2,159.3 47.7,150.8 48.1,154.1 48.6,140.6 49,133.2 49.5,134.5 49.9,162.5 50.4,145.7 50.8,161.2 51.3,130.9 51.7,157 52.2,166.7 52.6,151.3 53.1,144.8 53.5,142.4 54,165.2 54.4,168.6 54.9,154.8 55.3,152.7 55.8,137.5 56.2,166.8 56.7,135.2 57.1,153.8 57.6,163.1 58,153.6 58.5,174.8 58.9,162.6 59.4,170.4 59.8,165.5 60.3,128.3 60.7,147.9 61.2,145.8 61.6,150.6 62.1,174.7 62.5,142.9 63,144 63.4,141.3 63.9,144.6 64.3,125.5 64.8,130.6 65.2,127.2 65.7,128.4 66.1,119.1 66.6,120.7 67,113.8 67.5,105.4 67.9,104.9 68.4,98.8 68.8,93.1 69.3,90.3 69.7,86.5 70.2,86.9 70.6,84.1 71.1,83.4 71.5,84.2 72,83.7 72.4,81.8 72.9,81.6 73.3,78 73.8,76 74.2,75 74.7,72.6 75.1,72.6 75.6,70 76,69.3 76.5,68.6 76.9,66.2 77.4,67.2 77.8,66.6 78.3,64.6 78.7,63.2 79.2,62.4 79.6,61.2 80.1,65.3 80.5,72.1 81,78.6 81.4,82.9 81.9,86.7 82.3,88.2 82.8,89.5 83.2,96.6 83.7,95.8 84.1,99.9 84.6,98.9 85,102.7 85.5,102.8 85.9,104 86.4,104.4 86.8,108.9 87.3,117.4 87.7,114.8 88.2,119.5 88.6,120 89.1,132.1 89.5,125.4 90,128.5 90.4,127.8 90.9,121 91.3,130.8 91.8,134.3 92.2,116.3 92.7,126.2 93.1,110.5 93.6,154 94,126.6 94.5,134.4 94.9,156.1 95.4,155.8 95.8,135.2 96.3,139.5 96.7,162 97.2,138.6 97.6,163.3 98.1,152.7 98.5,150 99,143.8 99.4,143.8 99.9,150.5 100.3,148.2 100.8,137.6 101.2,155 101.7,156.8 102.1,145.9 102.6,135.3 103,130.6 103.5,148.3 103.9,153.2 104.4,154.5 104.8,162.8 105.3,161.5 105.7,154.7 106.2,141.7 106.6,148 107.1,157.6 107.5,157.3 108,134.3 108.4,135.3 108.9,164.3 109.3,130.6 109.8,156.8 110.2,165.3 110.7,148.7 111.1,153.1 111.6,139.6 112,154.6 112.5,164.2 112.9,136.9 113.4,141.5 113.8,141.6 114.3,152.7 114.7,151.5 115.2,145.3 115.6,164.7 116.1,137.5 116.5,158.5 117,138.7 117.4,163.1 117.9,165 118.3,138 118.8,145.9 119.2,133.2 119.7,162.6 120.1,148.3 120.6,147.3 121,152.1 121.5,129.4 121.9,149.5 122.4,157.6 122.8,140.8 123.3,141.1 123.7,144.2 124.2,153.5 124.6,140.7 125.1,137.2 125.5,139.4 126,157 126.4,153.8 126.9,139.4 127.3,137.9 127.8,133.9 128.2,164.5 128.7,151.2 129.1,175.3 129.6,159.8 130,161.8 130.5,143.3 130.9,159.5 131.4,152.2 131.8,143.5 132.3,137.4 132.7,167.2 133.2,169 133.6,141.9 134.1,144.5 134.5,145.2 135,159 135.4,154.3 135.9,157 136.3,164.8 136.8,148.8 137.2,137.2 137.7,162 138.1,130.9 138.6,159.3 139,157.6 139.5,164.7 139.9,143.9 140.4,134.8 140.8,135.9 141.3,160 141.7,153.9 142.2,163.8 142.6,153.9 143.1,174.2 143.5,171.1 144,152.5 144.4,158.3 144.9,159.1 145.3,143.6 145.8,141.2 146.2,148.4 146.7,149 147.1,136.8 147.6,150.5 148,143.3 148.5,162.6 148.9,148.9 149.4,143.4 149.8,136.6 150.3,153.4 150.7,148.1 151.2,155.1 151.6,136.2 152.1,141.7 152.5,157.9 153,145.5 153.4,136.6 153.9,148.1 154.3,153.7 154.8,135.6 155.2,176.9 155.7,139.6 156.1,144.8 156.6,157.8 157,163.3 157.5,151.7 157.9,156 158.4,139.2 158.8,152.9 159.3,162.2 159.7,156.7 160.2,135.3 160.6,137.3 161.1,165.1 161.5,151.8 162,153.4 162.4,158.7 162.9,154.5 163.3,138.3 163.8,137.6 164.2,158.5 164.7,152.8 165.1,154.2 165.6,153.3 166,132.1 166.5,146.7 166.9,157.1 167.4,146.9 167.8,144 168.3,133 168.7,163.4 169.2,163.5 169.6,144.8 170.1,130.5 170.5,155.6 171,156.2 171.4,148 171.9,143.2 172.3,139.6 172.8,155.7 173.2,160 173.7,137.1 174.1,132.1 174.6,142.2 175,158.5 175.5,151.4 175.9,154.5 176.4,163 176.8,156 177.3,149.6 177.7,137.5 178.2,140.5 178.6,149.9 179.1,146.6 179.5,163.8 180,146.8 180.4,137.9 180.9,137.8 181.3,158.1 181.8,150.7 182.2,136.2 182.7,150.6 183.1,156.9 183.6,137.3 184,153.4 184.5,145.6 184.9,148.6 185.4,146.7 185.8,155.6 186.3,157.6 186.7,154.5 187.2,128.3 187.6,139.2 188.1,137.5 188.5,154.8 189,136.3 189.4,160.4 189.9,147.3 190.3,139.1 190.8,163.3 191.2,136.8 191.7,143 192.1,152.9 192.6,152.6 193,160.1 193.5,127.4 193.9,156.6 194.4,142.3 194.8,145.9 195.3,154.8 195.7,159.5 196.2,152.1 196.6,157.3 197.1,139.1 197.5,139.6 198,151.3 198.4,154.3 198.9,138.3 199.3,140.7 199.8,146.6 200.2,153.4 200.7,160.9 201.1,161.2 201.6,132 202,152.5 202.5,132.8 202.9,159.9 203.4,167.8 203.8,137.4 204.3,139.5 204.7,158.3 205.2,131.7 205.6,163.5 206.1,145.1 206.5,158.7 207,159.4 207.4,144.8 207.9,136 208.3,141.9 208.8,148.8 209.2,134.1 209.7,170.6 210.1,157 210.6,150.2 211,137.5 211.5,156.6 211.9,153.3 212.4,147.2 212.8,145 213.3,162.6 213.7,155.6 214.2,134 214.6,160.6 215.1,136.3 215.5,185.8 216,151.4 216.4,140.2 216.9,155.4 217.3,130.5 217.8,140.3 218.2,133.9 218.7,166.8 219.1,125.4 219.6,158.8 220,131.8 220.5,147.6 220.9,139.4 221.4,156.5 221.8,158.4 222.3,141.1 222.7,140.4 223.2,159.7 223.6,129.3 224.1,166.8 224.5,140.1 225,133.5 225.4,137.7 225.9,154 226.3,164.5 226.8,166 227.2,164.2 227.7,137.5 228.1,143.4 228.6,167.5 229,145.8 229.5,149.8 229.9,165.5 230.4,144.8 230.8,148.5 231.3,146.2 231.7,126.7 232.2,124 232.6,152 233.1,161.1 233.5,159.1 234,165.9 234.4,176.2 234.9,164.1 235.3,129.1 235.8,167.2 236.2,154.8 236.7,143 237.1,148 237.6,141.6 238,158.2 238.5,153.6 238.9,141.4 239.4,141 239.8,156.8 240.3,188.6 240.7,168.6 241.2,138.3 241.6,161.9 242.1,144.2 242.5,141.6 243,150.8 243.4,146.3 243.9,152.5 244.3,154.6 244.8,133.6 245.2,160.4 245.7,135.5 246.1,130.2 246.6,156.8 247,132.5 247.5,172.1 247.9,162.5 248.4,146.9 248.8,148.5 249.3,143.5 249.7,137.1 250.2,162.6 250.6,142.7 251.1,154.9 251.5,142.8 252,145.8 252.4,158 252.9,148.9 253.3,155 253.8,159.8 254.2,142.2 254.7,167.2 255.1,151.7 255.6,209.1 256,138.8 256.5,154.4 256.9,184.5 257.4,167.2 257.8,147.4 258.3,154.7 258.7,136.1 259.2,162.3 259.6,155.9 260.1,168.2 260.5,157.5 261,156.9 261.4,157.9 261.9,164.2 262.3,167.3 262.8,142.3 263.2,151.1 263.7,144.2 264.1,136.7 264.6,152.9 265,154.6 265.5,136.7 265.9,159.9" fill="none" stroke="#e4b2e2" stroke-width="2.4" stroke-linejoin="round" />
<polyline points="28.8,128.3 29.2,151.7 29.7,150.4 30.1,153.2 30.6,163.3 31,140.1 31.5,137.3 31.9,145.4 32.4,196.4 32.8,148.7 33.3,135.8 33.7,148.6 34.2,146.7 34.6,167.3 35.1,149.5 35.5,144.3 36,141.6 36.4,128.2 36.9,157.9 37.3,136.4 37.8,151.8 38.2,161.9 38.7,138.7 39.1,161.4 39.6,157.7 40,156.5 40.5,136.6 40.9,126.5 41.4,135.9 41.8,157.9 42.3,147.8 42.7,137.7 43.2,147.6 43.6,157.3 44.1,162.9 44.5,155.3 45,129.7 45.4,160.7 45.9,158.4 46.3,163.5 46.8,145.7 47.2,145.6 47.7,170 48.1,138.5 48.6,142.9 49,143.7 49.5,158 49.9,168.7 50.4,165.3 50.8,165 51.3,138 51.7,160.4 52.2,155 52.6,161.1 53.1,139.1 53.5,168 54,144.3 54.4,165 54.9,165.6 55.3,134.7 55.8,162.2 56.2,141.6 56.7,159.9 57.1,167.7 57.6,132.3 58,151.3 58.5,154.6 58.9,164.4 59.4,140.1 59.8,147.5 60.3,152.2 60.7,161.1 61.2,143.1 61.6,164.1 62.1,150.4 62.5,164.2 63,140.5 63.4,147.2 63.9,141.3 64.3,175.6 64.8,170.9 65.2,162.1 65.7,142.8 66.1,140.7 66.6,144.1 67,129 67.5,140.1 67.9,127.1 68.4,134.3 68.8,124.5 69.3,123 69.7,117.1 70.2,114.3 70.6,107.2 71.1,105.3 71.5,101 72,98.2 72.4,98.1 72.9,96.1 73.3,99 73.8,98.2 74.2,95 74.7,93.1 75.1,87.8 75.6,88 76,85.3 76.5,84 76.9,82.8 77.4,81.5 77.8,78.7 78.3,77.8 78.7,77.6 79.2,76.9 79.6,75.9 80.1,74.4 80.5,73.5 81,69.6 81.4,69.5 81.9,67.4 82.3,69.7 82.8,74.7 83.2,82.3 83.7,88.2 84.1,91.6 84.6,91.7 85,94.5 85.5,97.5 85.9,94.8 86.4,96.6 86.8,102 87.3,99.2 87.7,108 88.2,100.6 88.6,98.8 89.1,99.8 89.5,116.2 90,112.2 90.4,119.6 90.9,117.4 91.3,134 91.8,157 92.2,132 92.7,127.1 93.1,142.5 93.6,128 94,130.4 94.5,143.8 94.9,135.4 95.4,157.1 95.8,140 96.3,133.1 96.7,158.1 97.2,148 97.6,133.5 98.1,158 98.5,170.8 99,168.6 99.4,160 99.9,176 100.3,159.6 100.8,157.6 101.2,132.5 101.7,168 102.1,145 102.6,143 103,160.5 103.5,146.1 103.9,152.7 104.4,131.4 104.8,150.5 105.3,142.2 105.7,159.4 106.2,154.6 106.6,143.9 107.1,159.1 107.5,138.9 108,141 108.4,137.1 108.9,143.3 109.3,167 109.8,144.5 110.2,158.8 110.7,156.4 111.1,139.2 111.6,137.9 112,172.9 112.5,161.4 112.9,131.7 113.4,147.2 113.8,150 114.3,130.6 114.7,136 115.2,151.1 115.6,145.6 116.1,153.4 116.5,153.6 117,131.9 117.4,143.6 117.9,137.9 118.3,170.4 118.8,140.9 119.2,141.5 119.7,159.2 120.1,130.8 120.6,154.3 121,142.7 121.5,156.3 121.9,157.9 122.4,140.5 122.8,134.4 123.3,157.9 123.7,150.6 124.2,160.2 124.6,159.6 125.1,147.6 125.5,143 126,135.1 126.4,146.4 126.9,158.6 127.3,139.2 127.8,153 128.2,160.2 128.7,135.7 129.1,163.1 129.6,148.8 130,136.5 130.5,131.2 130.9,167.4 131.4,156.4 131.8,139.5 132.3,138.8 132.7,156.3 133.2,156.8 133.6,150.3 134.1,134.8 134.5,145.6 135,137.2 135.4,136.6 135.9,158.8 136.3,150.4 136.8,154.9 137.2,160.1 137.7,158 138.1,153.8 138.6,134 139,144.5 139.5,140.8 139.9,161.4 140.4,147.2 140.8,156.4 141.3,159.6 141.7,157.7 142.2,146.6 142.6,145.9 143.1,154.5 143.5,150.7 144,160 144.4,156.8 144.9,148 145.3,163.6 145.8,168.7 146.2,210.3 146.7,149.9 147.1,157.1 147.6,146.2 148,142.6 148.5,154.7 148.9,149.4 149.4,156.4 149.8,151.6 150.3,157 150.7,136.5 151.2,136.7 151.6,138.1 152.1,174.7 152.5,134.2 153,152.1 153.4,165.3 153.9,154.2 154.3,136.4 154.8,149.4 155.2,132.7 155.7,130.4 156.1,147.3 156.6,141.2 157,170 157.5,156.8 157.9,138.4 158.4,159.7 158.8,164.6 159.3,187.2 159.7,128.9 160.2,159.7 160.6,147.2 161.1,147.2 161.5,151.4 162,159.3 162.4,187.5 162.9,134.1 163.3,150.7 163.8,165.1 164.2,141.5 164.7,165.1 165.1,159.9 165.6,157.8 166,147.6 166.5,141.5 166.9,126.6 167.4,165.6 167.8,136.9 168.3,142.5 168.7,135.2 169.2,144.1 169.6,139.2 170.1,165.4 170.5,137.8 171,165.7 171.4,157 171.9,162.1 172.3,165.8 172.8,136.7 173.2,145.9 173.7,150.6 174.1,137.5 174.6,153.9 175,138.7 175.5,142.3 175.9,155.2 176.4,134.8 176.8,152.8 177.3,146.5 177.7,144.3 178.2,134.9 178.6,149 179.1,144.3 179.5,145.3 180,132.8 180.4,156.7 180.9,145.5 181.3,137.4 181.8,158.4 182.2,160.1 182.7,140.9 183.1,159.1 183.6,139.8 184,138.3 184.5,157.4 184.9,149.8 185.4,131.1 185.8,143.4 186.3,139.7 186.7,143.6 187.2,163.4 187.6,138.9 188.1,163.8 188.5,157.6 189,153.5 189.4,152.8 189.9,176.8 190.3,126.9 190.8,137.1 191.2,138.1 191.7,173.5 192.1,142.6 192.6,170.5 193,138.8 193.5,170.4 193.9,145.6 194.4,169.8 194.8,150.5 195.3,139 195.7,159 196.2,136.7 196.6,163.8 197.1,196 197.5,158.2 198,168.4 198.4,158.5 198.9,162.2 199.3,154.5 199.8,152.3 200.2,143 200.7,162.9 201.1,135.6 201.6,146.7 202,125.6 202.5,148.4 202.9,161.6 203.4,148.5 203.8,151.9 204.3,135.1 204.7,136.7 205.2,158.3 205.6,169.2 206.1,160.9 206.5,160.2 207,129.3 207.4,161.8 207.9,160.6 208.3,147.8 208.8,155.2 209.2,144.8 209.7,157.7 210.1,141.5 210.6,137 211,131.3 211.5,138.8 211.9,160.7 212.4,171.5 212.8,149.7 213.3,144.1 213.7,133.2 214.2,153.8 214.6,147 215.1,127.2 215.5,150.8 216,144.2 216.4,159.2 216.9,127.7 217.3,161.4 217.8,153.7 218.2,137.2 218.7,157.7 219.1,141.9 219.6,152.2 220,166.4 220.5,155.3 220.9,130.2 221.4,169.7 221.8,125.5 222.3,145.3 222.7,148.1 223.2,148.4 223.6,164.6 224.1,135.2 224.5,155.3 225,159.9 225.4,161 225.9,136.7 226.3,165.4 226.8,137.6 227.2,156 227.7,129.1 228.1,143.2 228.6,132.6 229,157.4 229.5,137 229.9,152.3 230.4,163.7 230.8,161.2 231.3,159.9 231.7,166.2 232.2,136.8 232.6,180.8 233.1,138 233.5,148.8 234,153.5 234.4,136.1 234.9,140.7 235.3,148.4 235.8,149.5 236.2,150.1 236.7,152.9 237.1,139.1 237.6,163.3 238,153.7 238.5,139.4 238.9,147.7 239.4,147.7 239.8,143 240.3,126.9 240.7,179.2 241.2,135.9 241.6,142.9 242.1,176.5 242.5,137 243,148.7 243.4,160.7 243.9,157.3 244.3,192.1 244.8,161.9 245.2,139.3 245.7,152.4 246.1,155.2 246.6,133.9 247,146.2 247.5,159.9 247.9,138 248.4,152 248.8,133.8 249.3,146.9 249.7,145.5 250.2,126.8 250.6,152 251.1,153.7 251.5,163.4 252,149.4 252.4,132.6 252.9,151.5 253.3,125.3 253.8,164.6 254.2,153.4 254.7,159.3 255.1,149.8 255.6,157.5 256,150.5 256.5,160.5 256.9,157.8 257.4,145.3 257.8,167 258.3,149.8 258.7,153.1 259.2,138.8 259.6,170.5 260.1,142.4 260.5,160.6 261,146.3 261.4,141.7 261.9,142.7 262.3,135.9 262.8,143.6 263.2,148.9 263.7,127.7 264.1,130.1 264.6,152.6 265,155.1 265.5,144.8 265.9,131.3" fill="none" stroke="#10e010" stroke-width="2.4" stroke-linejoin="round" />
<polyline points="28.8,144.4 29.2,150.1 29.7,199.9 30.1,145.9 30.6,133.2 31,166.7 31.5,171.3 31.9,133.8 32.4,127.9 32.8,140.6 33.3,150.8 33.7,150 34.2,148.1 34.6,151.9 35.1,148.1 35.5,131.7 36,142.8 36.4,160 36.9,177.4 37.3,154.2 37.8,151.9 38.2,132.1 38.7,136.4 39.1,121.6 39.6,166.8 40,133.2 40.5,162.8 40.9,156.8 41.4,134.4 41.8,157.3 42.3,155.2 42.7,151.7 43.2,159.5 43.6,138.8 44.1,135.6 44.5,193.7 45,143.9 45.4,159.6 45.9,154.5 46.3,159.9 46.8,132.3 47.2,152.2 47.7,157.2 48.1,136.4 48.6,146.3 49,186.9 49.5,160.9 49.9,168.4 50.4,125.4 50.8,175.5 51.3,152.4 51.7,149.2 52.2,126.3 52.6,126.3 53.1,164.4 53.5,163.2 54,134.1 54.4,127.7 54.9,145.8 55.3,144.3 55.8,164.7 56.2,157.2 56.7,172.2 57.1,148.4 57.6,133.7 58,157.3 58.5,177.2 58.9,158.1 59.4,134.1 59.8,153.3 60.3,140.5 60.7,170.5 61.2,157.2 61.6,160.5 62.1,168.5 62.5,149.1 63,163 63.4,154.4 63.9,166.4 64.3,140.6 64.8,175.7 65.2,139.3 65.7,165.9 66.1,151.3 66.6,142.4 67,132.9 67.5,161.1 67.9,144.6 68.4,144 68.8,164.8 69.3,143.7 69.7,139 70.2,165.1 70.6,155.6 71.1,136.7 71.5,146.7 72,125.5 72.4,120.3 72.9,130.3 73.3,126.1 73.8,109.7 74.2,104.4 74.7,103.4 75.1,97.1 75.6,98.2 76,98.6 76.5,95.3 76.9,92.2 77.4,92.8 77.8,88.7 78.3,87.7 78.7,88.1 79.2,84.5 79.6,85.3 80.1,83.3 80.5,82 81,81.2 81.4,79.4 81.9,78.7 82.3,76.4 82.8,76.5 83.2,73.4 83.7,72.1 84.1,72.7 84.6,71 85,69.5 85.5,67.3 85.9,66.4 86.4,66.4 86.8,70.6 87.3,78.2 87.7,83.7 88.2,86.8 88.6,87 89.1,91.8 89.5,89.7 90,96.2 90.4,99.9 90.9,99.5 91.3,100.6 91.8,105.9 92.2,109.3 92.7,119.5 93.1,116.9 93.6,118.5 94,126.2 94.5,128 94.9,123.6 95.4,133.1 95.8,127.7 96.3,129.8 96.7,132.4 97.2,122.4 97.6,116.2 98.1,135.2 98.5,121.6 99,148.2 99.4,144.4 99.9,125.1 100.3,158.6 100.8,134.6 101.2,150.9 101.7,157.6 102.1,143.1 102.6,156.2 103,169.7 103.5,152 103.9,145.6 104.4,147.6 104.8,168.1 105.3,136.8 105.7,147.8 106.2,154 106.6,142.4 107.1,158.1 107.5,163.5 108,138.1 108.4,167.4 108.9,140.5 109.3,142 109.8,148.2 110.2,144 110.7,137.3 111.1,140.1 111.6,144.4 112,163.4 112.5,154.1 112.9,157.2 113.4,200.3 113.8,128.6 114.3,150.4 114.7,159.7 115.2,153.3 115.6,160 116.1,152 116.5,149.8 117,134.4 117.4,139.7 117.9,143.2 118.3,162.5 118.8,160.4 119.2,147 119.7,148 120.1,165.9 120.6,161.9 121,135.7 121.5,142.1 121.9,154.1 122.4,158.8 122.8,146.5 123.3,129.3 123.7,152.8 124.2,138.4 124.6,148.4 125.1,138.4 125.5,132.4 126,147.7 126.4,172.1 126.9,131.4 127.3,145.7 127.8,136.5 128.2,142.3 128.7,142.1 129.1,134 129.6,139.5 130,149.2 130.5,147 130.9,125.8 131.4,146.2 131.8,141.9 132.3,152.2 132.7,144.6 133.2,141.7 133.6,130.6 134.1,155.9 134.5,132.5 135,165.9 135.4,164.4 135.9,159.8 136.3,161.2 136.8,130.6 137.2,168.9 137.7,179.2 138.1,148 138.6,144.2 139,160.5 139.5,130.7 139.9,150 140.4,151.5 140.8,163 141.3,129 141.7,165.8 142.2,130.8 142.6,131.5 143.1,133.4 143.5,158.8 144,137.1 144.4,134.5 144.9,146.5 145.3,197.3 145.8,158.1 146.2,145.4 146.7,141.9 147.1,166.3 147.6,130.7 148,160.9 148.5,153.7 148.9,159.2 149.4,180.5 149.8,133.9 150.3,130.3 150.7,150 151.2,127.5 151.6,130.6 152.1,158.3 152.5,138.1 153,154.8 153.4,124.5 153.9,155.3 154.3,148.4 154.8,151.1 155.2,129.7 155.7,127 156.1,138.9 156.6,155.3 157,142.5 157.5,168 157.9,159.1 158.4,165.7 158.8,129.5 159.3,161.9 159.7,139.1 160.2,142.5 160.6,163.1 161.1,158.3 161.5,136.2 162,161.3 162.4,149.6 162.9,143.9 163.3,149.9 163.8,155.6 164.2,156.9 164.7,152.6 165.1,139.6 165.6,134.1 166,134.7 166.5,149.9 166.9,154.6 167.4,146.9 167.8,158.2 168.3,149.7 168.7,148.3 169.2,129.6 169.6,133.8 170.1,144.7 170.5,152.9 171,160.9 171.4,137.1 171.9,149 172.3,130.4 172.8,148.9 173.2,179.4 173.7,171.9 174.1,156.1 174.6,144.4 175,172.2 175.5,179.4 175.9,157.4 176.4,162.2 176.8,146.8 177.3,136.7 177.7,130.9 178.2,134 178.6,146.1 179.1,139.3 179.5,165.4 180,139.6 180.4,140.9 180.9,132.5 181.3,156.6 181.8,169.7 182.2,134.1 182.7,166 183.1,149 183.6,150.1 184,174.5 184.5,160 184.9,156.3 185.4,142.1 185.8,162.9 186.3,145.6 186.7,151.6 187.2,150.9 187.6,135.9 188.1,153.8 188.5,161.8 189,135.7 189.4,141.7 189.9,137.8 190.3,139.8 190.8,168 191.2,167.7 191.7,159.7 192.1,127.9 192.6,155.5 193,143.7 193.5,147.6 193.9,148.5 194.4,163.6 194.8,138.9 195.3,155.7 195.7,159.4 196.2,164.5 196.6,141 197.1,137.7 197.5,135.8 198,146.3 198.4,138.3 198.9,158.9 199.3,159.5 199.8,131.3 200.2,150.9 200.7,143.6 201.1,138.2 201.6,175.3 202,138.5 202.5,133.2 202.9,156.8 203.4,153.7 203.8,160.6 204.3,155.5 204.7,139.9 205.2,160.3 205.6,151.1 206.1,149.3 206.5,155.2 207,138.7 207.4,156.4 207.9,140.9 208.3,129.6 208.8,132.6 209.2,169.5 209.7,153.4 210.1,154.6 210.6,142.6 211,159.9 211.5,145.5 211.9,166.8 212.4,155.1 212.8,169.5 213.3,162 213.7,148.6 214.2,150.3 214.6,154.5 215.1,162.6 215.5,168.9 216,139.4 216.4,171.4 216.9,151.2 217.3,158.6 217.8,139.4 218.2,160.7 218.7,140.3 219.1,135.5 219.6,135.4 220,141 220.5,127.8 220.9,146.5 221.4,144.7 221.8,148.6 222.3,167.8 222.7,128.6 223.2,173.7 223.6,151.2 224.1,131.3 224.5,134.8 225,158.3 225.4,170.4 225.9,135.7 226.3,167.4 226.8,150.9 227.2,136.3 227.7,127.7 228.1,149.7 228.6,162.8 229,164.2 229.5,132.3 229.9,160.2 230.4,123.3 230.8,126.1 231.3,159.2 231.7,133.7 232.2,151.4 232.6,135.9 233.1,164.7 233.5,143.3 234,146.2 234.4,141.5 234.9,121.3 235.3,156.5 235.8,155.5 236.2,162.4 236.7,141.3 237.1,131.9 237.6,156.2 238,142.3 238.5,158.2 238.9,168.4 239.4,155.6 239.8,154.4 240.3,132.5 240.7,152.6 241.2,148.2 241.6,127.9 242.1,194.5 242.5,138.8 243,161.8 243.4,145.8 243.9,136.2 244.3,168.7 244.8,153.2 245.2,159.2 245.7,139.8 246.1,146.1 246.6,156.7 247,139.5 247.5,158 247.9,163.6 248.4,128.3 248.8,177.5 249.3,154.9 249.7,155.6 250.2,168.4 250.6,154.5 251.1,129.4 251.5,162.7 252,156 252.4,140.7 252.9,181.3 253.3,167.6 253.8,156.9 254.2,159.3 254.7,139.5 255.1,169.8 255.6,148.7 256,134.5 256.5,157 256.9,144.7 257.4,157.1 257.8,148.8 258.3,158.5 258.7,140.2 259.2,159.2 259.6,147.9 260.1,162.6 260.5,147.5 261,142.5 261.4,159.1 261.9,172.4 262.3,131.2 262.8,191.5 263.2,166.2 263.7,139.4 264.1,161.1 264.6,156 265,146.4 265.5,161.3 265.9,147.6" fill="none" stroke="#f01414" stroke-width="2.4" stroke-linejoin="round" />
<polyline points="28.8,151.7 29.2,150.6 29.7,153.7 30.1,152 30.6,153.4 31,148.8 31.5,167.8 31.9,133.4 32.4,147 32.8,153.6 33.3,148.4 33.7,127.5 34.2,130.5 34.6,163.7 35.1,161.1 35.5,146.8 36,143.4 36.4,141.2 36.9,151.9 37.3,161.9 37.8,144.7 38.2,144.7 38.7,132.5 39.1,167.5 39.6,130.8 40,162.2 40.5,153.3 40.9,166.1 41.4,200 41.8,153.1 42.3,143.4 42.7,150.4 43.2,142.6 43.6,170.2 44.1,134 44.5,151.6 45,130 45.4,151.7 45.9,135.7 46.3,156.8 46.8,141.2 47.2,164.7 47.7,156.9 48.1,162.6 48.6,153.8 49,177 49.5,162.8 49.9,162.8 50.4,209.6 50.8,148.1 51.3,137.7 51.7,147.6 52.2,131.3 52.6,151.5 53.1,150.2 53.5,178.7 54,175.8 54.4,139.3 54.9,136.5 55.3,131 55.8,163 56.2,136.2 56.7,146.9 57.1,135.5 57.6,143.7 58,140.6 58.5,141.8 58.9,133.9 59.4,126 59.8,153.5 60.3,165.8 60.7,135.7 61.2,155.6 61.6,128 62.1,166.5 62.5,150.2 63,135.1 63.4,131.2 63.9,136.6 64.3,133.2 64.8,133.1 65.2,131.8 65.7,150.5 66.1,150.7 66.6,140.5 67,174.5 67.5,147.2 67.9,155.7 68.4,156.7 68.8,128.9 69.3,141.2 69.7,127.6 70.2,146.2 70.6,143.3 71.1,140.9 71.5,126.5 72,161.1 72.4,163.1 72.9,155.3 73.3,150.7 73.8,151.8 74.2,149.8 74.7,142.2 75.1,127 75.6,137.3 76,131.2 76.5,125.4 76.9,116 77.4,106.4 77.8,109.3 78.3,110.1 78.7,107.5 79.2,104.1 79.6,103.7 80.1,100.2 80.5,102.3 81,103 81.4,101.2 81.9,98.4 82.3,95 82.8,93.6 83.2,94.7 83.7,90.8 84.1,90.1 84.6,88.7 85,86.2 85.5,84.2 85.9,84.7 86.4,84.5 86.8,83.6 87.3,83 87.7,79.2 88.2,77.8 88.6,74.4 89.1,72.4 89.5,72.7 90,71.9 90.4,70.3 90.9,68 91.3,74.2 91.8,82.6 92.2,87.7 92.7,92.4 93.1,96.3 93.6,96.6 94,97.9 94.5,100.4 94.9,106.6 95.4,107.3 95.8,106.9 96.3,105.9 96.7,104.2 97.2,119.6 97.6,111.1 98.1,118.6 98.5,118.6 99,124.2 99.4,131.3 99.9,124 100.3,129.2 100.8,138.6 101.2,134.4 101.7,136.2 102.1,151.9 102.6,141.7 103,134.9 103.5,138.7 103.9,151.7 104.4,153.3 104.8,131.6 105.3,147.9 105.7,141.6 106.2,149.7 106.6,137 107.1,132.2 107.5,149.3 108,133.5 108.4,178.2 108.9,136.5 109.3,159.2 109.8,135.2 110.2,147.3 110.7,145.7 111.1,147.3 111.6,152.4 112,159.8 112.5,149.9 112.9,155 113.4,145.9 113.8,139.9 114.3,163.8 114.7,141.3 115.2,161.3 115.6,145.5 116.1,155.4 116.5,147.4 117,159.3 117.4,127.6 117.9,138.1 118.3,149.5 118.8,162.5 119.2,155.5 119.7,134.9 120.1,142.8 120.6,147.7 121,161.5 121.5,160.6 121.9,147.4 122.4,156.7 122.8,155.4 123.3,165.6 123.7,140.7 124.2,140.4 124.6,163.4 125.1,146.5 125.5,154.6 126,157.7 126.4,141.1 126.9,166.5 127.3,138.9 127.8,132.6 128.2,138.2 128.7,171.4 129.1,137.6 129.6,140.8 130,131.9 130.5,163.6 130.9,161.4 131.4,138.9 131.8,135.7 132.3,125.7 132.7,149.5 133.2,139 133.6,139.9 134.1,154.7 134.5,134.4 135,147.6 135.4,154.7 135.9,132.5 136.3,143.4 136.8,137.6 137.2,143.2 137.7,139.2 138.1,148.3 138.6,151 139,148.3 139.5,171.2 139.9,163.3 140.4,160.3 140.8,145.6 141.3,128.2 141.7,159.5 142.2,156.1 142.6,169.7 143.1,146.9 143.5,149.3 144,154.2 144.4,173.4 144.9,151 145.3,136.6 145.8,130.4 146.2,129.9 146.7,152.1 147.1,131.5 147.6,149.8 148,146.8 148.5,160.3 148.9,133.3 149.4,146.9 149.8,148.8 150.3,152.3 150.7,151.7 151.2,160.5 151.6,168.2 152.1,148.1 152.5,135.5 153,141 153.4,177.3 153.9,159 154.3,167 154.8,161 155.2,158.6 155.7,125.9 156.1,188.6 156.6,136.6 157,155.7 157.5,145.8 157.9,130.6 158.4,133.6 158.8,159.3 159.3,164.7 159.7,169.7 160.2,152.3 160.6,136.3 161.1,145.5 161.5,155.6 162,133.2 162.4,165.7 162.9,139.3 163.3,137.7 163.8,140 164.2,162.5 164.7,134.6 165.1,138.7 165.6,131 166,155.8 166.5,137.7 166.9,149.3 167.4,151.1 167.8,148.5 168.3,150.4 168.7,184.8 169.2,147.4 169.6,155.3 170.1,130.6 170.5,124.6 171,160.8 171.4,170.5 171.9,131.3 172.3,160.7 172.8,135.3 173.2,153.5 173.7,164.8 174.1,138.2 174.6,169 175,166 175.5,132.5 175.9,154.1 176.4,143.1 176.8,137 177.3,159.9 177.7,160.3 178.2,145.7 178.6,130.8 179.1,136.3 179.5,126.3 180,139.7 180.4,136.7 180.9,153.3 181.3,158.6 181.8,148 182.2,144.7 182.7,129 183.1,132.9 183.6,147.1 184,131.1 184.5,127 184.9,144.6 185.4,137.5 185.8,156.1 186.3,139 186.7,164.8 187.2,156.8 187.6,152.4 188.1,149.6 188.5,137.9 189,140.3 189.4,142.7 189.9,139.1 190.3,167.3 190.8,150 191.2,178.9 191.7,133.2 192.1,149.1 192.6,138.3 193,140.5 193.5,161.7 193.9,164.1 194.4,154 194.8,167.6 195.3,149.7 195.7,131.9 196.2,139.3 196.6,136.5 197.1,142 197.5,145.1 198,155.7 198.4,171.9 198.9,167.8 199.3,133.7 199.8,153.2 200.2,137.4 200.7,135.7 201.1,138.5 201.6,154.1 202,138.9 202.5,141.8 202.9,134.4 203.4,147.2 203.8,146.2 204.3,169.8 204.7,155 205.2,155 205.6,167.9 206.1,128 206.5,141.4 207,149 207.4,167.5 207.9,169.2 208.3,146.5 208.8,166.7 209.2,127.3 209.7,141.4 210.1,139.7 210.6,154.2 211,159.5 211.5,148.3 211.9,147.5 212.4,155.6 212.8,158.5 213.3,156.7 213.7,142.1 214.2,137.6 214.6,163.9 215.1,159.9 215.5,148 216,145.2 216.4,146.6 216.9,157.6 217.3,143.2 217.8,138.9 218.2,154.7 218.7,131.3 219.1,143.9 219.6,128.1 220,167.9 220.5,139.1 220.9,157.5 221.4,146.8 221.8,147.5 222.3,149.7 222.7,155.9 223.2,139.5 223.6,144.2 224.1,136.6 224.5,148.9 225,156.5 225.4,146.5 225.9,138.5 226.3,144.4 226.8,163.9 227.2,127.4 227.7,151.5 228.1,158.8 228.6,153.9 229,153.8 229.5,136.6 229.9,169.6 230.4,142.9 230.8,143.4 231.3,148.4 231.7,161.5 232.2,145.6 232.6,151.4 233.1,140.5 233.5,152.2 234,145.6 234.4,146.6 234.9,164.7 235.3,142.5 235.8,128.9 236.2,150.7 236.7,173.2 237.1,152.2 237.6,128.5 238,138.7 238.5,158.3 238.9,148.3 239.4,139.3 239.8,144.1 240.3,158.6 240.7,151.8 241.2,127.7 241.6,155.9 242.1,138 242.5,147.5 243,144.4 243.4,169.8 243.9,165.4 244.3,156.3 244.8,163 245.2,145.5 245.7,139.2 246.1,162.4 246.6,162.6 247,151.3 247.5,119.6 247.9,142 248.4,159 248.8,141.4 249.3,153.8 249.7,138.9 250.2,145.8 250.6,168 251.1,152.9 251.5,151.4 252,155.4 252.4,171.3 252.9,145.6 253.3,128.8 253.8,140.3 254.2,143.3 254.7,156 255.1,158 255.6,159.5 256,145.2 256.5,137.6 256.9,151.1 257.4,158.3 257.8,156.3 258.3,142.7 258.7,174.2 259.2,161.5 259.6,128 260.1,130.6 260.5,161.4 261,172.3 261.4,158.9 261.9,144.3 262.3,166.4 262.8,133.1 263.2,133.4 263.7,163.6 264.1,160.1 264.6,149.3 265,156.4 265.5,154.3 265.9,157.1" fill="none" stroke="#f5168c" stroke-width="2.4" stroke-linejoin="round" />
<polyline points="28.8,161.6 29.2,145.3 29.7,149.6 30.1,155.6 30.6,130.3 31,138.9 31.5,160.6 31.9,166.7 32.4,132.5 32.8,134.5 33.3,162.8 33.7,149.5 34.2,168.3 34.6,130.3 35.1,161.4 35.5,153.2 36,147.6 36.4,147.8 36.9,153.6 37.3,147.2 37.8,133.3 38.2,130.2 38.7,148.3 39.1,148.8 39.6,164.4 40,144.3 40.5,165.8 40.9,164.3 41.4,157.3 41.8,158.1 42.3,134.8 42.7,154.3 43.2,153.3 43.6,152.7 44.1,158.5 44.5,138.8 45,170.7 45.4,131.9 45.9,130.5 46.3,157.4 46.8,132.3 47.2,150.1 47.7,157.6 48.1,160.2 48.6,127 49,132.6 49.5,151.8 49.9,121.2 50.4,128.5 50.8,131.1 51.3,157.5 51.7,149.2 52.2,167.1 52.6,128.1 53.1,143 53.5,169 54,160.5 54.4,132.9 54.9,128.9 55.3,149.5 55.8,126.3 56.2,157.9 56.7,152.5 57.1,151.8 57.6,135.8 58,151.2 58.5,166.4 58.9,152 59.4,151.5 59.8,149.4 60.3,150.2 60.7,162.9 61.2,128.7 61.6,138.7 62.1,159.6 62.5,126 63,144.5 63.4,154.3 63.9,151.3 64.3,147.3 64.8,156.2 65.2,162.1 65.7,168.8 66.1,129.3 66.6,154 67,141.2 67.5,123.2 67.9,151.4 68.4,151.8 68.8,128.8 69.3,137.6 69.7,151.9 70.2,145.3 70.6,155.2 71.1,142.9 71.5,163.4 72,161.8 72.4,134.4 72.9,141.2 73.3,151 73.8,152.5 74.2,160.5 74.7,147.1 75.1,153.9 75.6,127.3 76,148.8 76.5,156 76.9,127.5 77.4,130.6 77.8,143.3 78.3,145 78.7,161.2 79.2,147.5 79.6,140.6 80.1,140.3 80.5,142.1 81,146.6 81.4,138.6 81.9,133.8 82.3,136.9 82.8,135.6 83.2,128 83.7,143.4 84.1,118 84.6,127.2 85,122.8 85.5,116.5 85.9,114.7 86.4,108.6 86.8,104 87.3,101.7 87.7,100.9 88.2,100.5 88.6,94.4 89.1,95.4 89.5,91.9 90,89 90.4,88.9 90.9,88.4 91.3,87.9 91.8,87.9 92.2,84.1 92.7,82.1 93.1,83.5 93.6,79.8 94,78.2 94.5,77.3 94.9,75.5 95.4,72.6 95.8,71.8 96.3,70.2 96.7,69 97.2,67.7 97.6,72.5 98.1,79.3 98.5,87.2 99,90.6 99.4,93.7 99.9,93.6 100.3,94.4 100.8,98.9 101.2,100.1 101.7,101.7 102.1,101.7 102.6,107.1 103,109 103.5,112.7 103.9,107.4 104.4,117.4 104.8,118 105.3,114.1 105.7,121.5 106.2,118.5 106.6,122.9 107.1,130.1 107.5,132.4 108,117.4 108.4,126.9 108.9,126.1 109.3,131.5 109.8,142 110.2,134.1 110.7,145.1 111.1,132 111.6,125.5 112,134.7 112.5,147.2 112.9,139.3 113.4,142.9 113.8,140.8 114.3,141.2 114.7,146.6 115.2,159.9 115.6,133 116.1,148.6 116.5,160.3 117,144.9 117.4,143.3 117.9,156 118.3,131.3 118.8,145.8 119.2,153.4 119.7,155.6 120.1,154.2 120.6,133.3 121,150.6 121.5,135 121.9,150.6 122.4,119.4 122.8,157.6 123.3,135.6 123.7,155.6 124.2,160.7 124.6,162.4 125.1,142.5 125.5,149.4 126,130.3 126.4,133.4 126.9,131 127.3,143.9 127.8,167.8 128.2,150.3 128.7,157.9 129.1,146.4 129.6,135.3 130,125.8 130.5,158.3 130.9,153.8 131.4,144.5 131.8,159.1 132.3,160.8 132.7,144.8 133.2,150.3 133.6,142.2 134.1,133.3 134.5,161.6 135,167.3 135.4,124.8 135.9,158.7 136.3,151.9 136.8,137 137.2,143 137.7,150 138.1,149 138.6,144.7 139,160.2 139.5,168.1 139.9,131.1 140.4,144.2 140.8,163.6 141.3,131.7 141.7,169.6 142.2,135.5 142.6,134.1 143.1,162.9 143.5,138.4 144,148.7 144.4,135.2 144.9,160.6 145.3,142.4 145.8,179.6 146.2,128.3 146.7,161.2 147.1,135.9 147.6,160.1 148,133.2 148.5,159.3 148.9,166.3 149.4,127.2 149.8,147.9 150.3,138.5 150.7,130.8 151.2,132 151.6,146.1 152.1,124.7 152.5,139.9 153,170.7 153.4,124.3 153.9,138 154.3,131.6 154.8,136.4 155.2,131.8 155.7,160.7 156.1,138.4 156.6,148.5 157,130 157.5,159.9 157.9,140.6 158.4,179.6 158.8,125.6 159.3,140.8 159.7,132.4 160.2,124.4 160.6,166.6 161.1,132.3 161.5,162.9 162,161.6 162.4,140.6 162.9,130.9 163.3,149.2 163.8,128.5 164.2,141 164.7,131 165.1,150.8 165.6,168.2 166,141.9 166.5,169.6 166.9,160.7 167.4,159.6 167.8,129.2 168.3,143.5 168.7,137.3 169.2,138.5 169.6,155.5 170.1,163.6 170.5,142.3 171,147.9 171.4,134.3 171.9,151.6 172.3,170.3 172.8,130.1 173.2,162.1 173.7,153 174.1,138.8 174.6,126.2 175,141 175.5,145.7 175.9,147.3 176.4,148.8 176.8,142.7 177.3,159.5 177.7,142.4 178.2,150.7 178.6,154.8 179.1,154.2 179.5,151.8 180,148.2 180.4,149.7 180.9,155.7 181.3,167.7 181.8,151.9 182.2,159.2 182.7,182.4 183.1,169 183.6,124.8 184,154.7 184.5,137.3 184.9,155.7 185.4,165.5 185.8,131 186.3,163.5 186.7,134.7 187.2,194.3 187.6,156.7 188.1,155.5 188.5,127.5 189,137.8 189.4,144.7 189.9,162.3 190.3,163 190.8,132.6 191.2,148.3 191.7,154.3 192.1,141.7 192.6,160.5 193,156 193.5,176.5 193.9,118.9 194.4,129 194.8,148.9 195.3,136.8 195.7,136 196.2,156 196.6,138.3 197.1,162.9 197.5,168.6 198,162.2 198.4,143.5 198.9,160 199.3,128.8 199.8,139 200.2,134.2 200.7,136.7 201.1,131 201.6,152.7 202,152.5 202.5,171.5 202.9,161.8 203.4,130.1 203.8,153.6 204.3,154.2 204.7,135.8 205.2,167.2 205.6,160.2 206.1,131 206.5,171.9 207,156.7 207.4,138.6 207.9,140.5 208.3,138.3 208.8,149.1 209.2,156.2 209.7,153.6 210.1,135.7 210.6,139.2 211,146.8 211.5,136.8 211.9,149.3 212.4,142.3 212.8,163.8 213.3,166.8 213.7,151.9 214.2,155.7 214.6,142.5 215.1,157 215.5,162.6 216,147.6 216.4,165.4 216.9,145.2 217.3,151.6 217.8,169.6 218.2,154.2 218.7,141 219.1,167.5 219.6,149.8 220,152.2 220.5,171.7 220.9,141.6 221.4,129.7 221.8,161 222.3,162.1 222.7,135.1 223.2,142 223.6,155.5 224.1,138.8 224.5,143.8 225,168.3 225.4,135.4 225.9,162.2 226.3,160.2 226.8,137.4 227.2,140.7 227.7,143.2 228.1,165.4 228.6,167.4 229,146.9 229.5,127.2 229.9,169.7 230.4,162.7 230.8,140.6 231.3,161.1 231.7,125.6 232.2,160.3 232.6,163.9 233.1,161.9 233.5,136.7 234,153.1 234.4,163 234.9,136.1 235.3,158.5 235.8,146.6 236.2,131.1 236.7,172.7 237.1,155.1 237.6,151.8 238,139.9 238.5,154.8 238.9,126.5 239.4,141.4 239.8,141.3 240.3,148.8 240.7,129.7 241.2,138.7 241.6,146.8 242.1,157.1 242.5,130.7 243,151 243.4,125.4 243.9,151.9 244.3,127.3 244.8,145.4 245.2,133.2 245.7,143.6 246.1,161.3 246.6,162.6 247,156.3 247.5,166 247.9,131.8 248.4,149.3 248.8,171.7 249.3,160.1 249.7,128.9 250.2,132.6 250.6,158.3 251.1,156.4 251.5,146 252,130.8 252.4,146.3 252.9,144.8 253.3,133 253.8,160.5 254.2,163.5 254.7,137.6 255.1,161.3 255.6,147.9 256,140.1 256.5,175.4 256.9,168.8 257.4,123.9 257.8,154.1 258.3,163.9 258.7,148.2 259.2,158 259.6,134 260.1,131.4 260.5,137.4 261,141 261.4,157.2 261.9,144.2 262.3,158 262.8,159.3 263.2,161.8 263.7,156.9 264.1,155.8 264.6,162.5 265,155.9 265.5,160.9 265.9,137.2" fill="none" stroke="#6e9a22" stroke-width="2.4" stroke-linejoin="round" />
<polyline points="265.8,131.2 266.2,167.7 266.7,130.6 267.1,165 267.6,130.3 268,168.3 268.5,130.6 268.9,166.8 269.4,133.6 269.8,164.8 270.3,131.8 270.7,167.5" fill="none" stroke="#1c4f3c" stroke-width="2.0" stroke-linejoin="round" />
</g>
<rect x="28.5" y="4.6" width="242.7" height="203.70000000000002" fill="none" stroke="#000" stroke-width="1.3"/>
<line x1="28.5" y1="208.3" x2="28.5" y2="204.3" stroke="#000" stroke-width="1"/>
<line x1="28.5" y1="4.6" x2="28.5" y2="8.6" stroke="#000" stroke-width="1"/>
<line x1="41.7" y1="208.3" x2="41.7" y2="206.10000000000002" stroke="#000" stroke-width="1"/>
<line x1="41.7" y1="4.6" x2="41.7" y2="6.8" stroke="#000" stroke-width="1"/>
<line x1="54.9" y1="208.3" x2="54.9" y2="204.3" stroke="#000" stroke-width="1"/>
<line x1="54.9" y1="4.6" x2="54.9" y2="8.6" stroke="#000" stroke-width="1"/>
<line x1="68.0" y1="208.3" x2="68.0" y2="206.10000000000002" stroke="#000" stroke-width="1"/>
<line x1="68.0" y1="4.6" x2="68.0" y2="6.8" stroke="#000" stroke-width="1"/>
<line x1="81.2" y1="208.3" x2="81.2" y2="204.3" stroke="#000" stroke-width="1"/>
<line x1="81.2" y1="4.6" x2="81.2" y2="8.6" stroke="#000" stroke-width="1"/>
<line x1="94.4" y1="208.3" x2="94.4" y2="206.10000000000002" stroke="#000" stroke-width="1"/>
<line x1="94.4" y1="4.6" x2="94.4" y2="6.8" stroke="#000" stroke-width="1"/>
<line x1="107.6" y1="208.3" x2="107.6" y2="204.3" stroke="#000" stroke-width="1"/>
<line x1="107.6" y1="4.6" x2="107.6" y2="8.6" stroke="#000" stroke-width="1"/>
<line x1="120.7" y1="208.3" x2="120.7" y2="206.10000000000002" stroke="#000" stroke-width="1"/>
<line x1="120.7" y1="4.6" x2="120.7" y2="6.8" stroke="#000" stroke-width="1"/>
<line x1="133.9" y1="208.3" x2="133.9" y2="204.3" stroke="#000" stroke-width="1"/>
<line x1="133.9" y1="4.6" x2="133.9" y2="8.6" stroke="#000" stroke-width="1"/>
<line x1="147.1" y1="208.3" x2="147.1" y2="206.10000000000002" stroke="#000" stroke-width="1"/>
<line x1="147.1" y1="4.6" x2="147.1" y2="6.8" stroke="#000" stroke-width="1"/>
<line x1="160.2" y1="208.3" x2="160.2" y2="204.3" stroke="#000" stroke-width="1"/>
<line x1="160.2" y1="4.6" x2="160.2" y2="8.6" stroke="#000" stroke-width="1"/>
<line x1="173.4" y1="208.3" x2="173.4" y2="206.10000000000002" stroke="#000" stroke-width="1"/>
<line x1="173.4" y1="4.6" x2="173.4" y2="6.8" stroke="#000" stroke-width="1"/>
<line x1="186.6" y1="208.3" x2="186.6" y2="204.3" stroke="#000" stroke-width="1"/>
<line x1="186.6" y1="4.6" x2="186.6" y2="8.6" stroke="#000" stroke-width="1"/>
<line x1="199.8" y1="208.3" x2="199.8" y2="206.10000000000002" stroke="#000" stroke-width="1"/>
<line x1="199.8" y1="4.6" x2="199.8" y2="6.8" stroke="#000" stroke-width="1"/>
<line x1="213.0" y1="208.3" x2="213.0" y2="204.3" stroke="#000" stroke-width="1"/>
<line x1="213.0" y1="4.6" x2="213.0" y2="8.6" stroke="#000" stroke-width="1"/>
<line x1="226.1" y1="208.3" x2="226.1" y2="206.10000000000002" stroke="#000" stroke-width="1"/>
<line x1="226.1" y1="4.6" x2="226.1" y2="6.8" stroke="#000" stroke-width="1"/>
<line x1="239.3" y1="208.3" x2="239.3" y2="204.3" stroke="#000" stroke-width="1"/>
<line x1="239.3" y1="4.6" x2="239.3" y2="8.6" stroke="#000" stroke-width="1"/>
<line x1="252.5" y1="208.3" x2="252.5" y2="206.10000000000002" stroke="#000" stroke-width="1"/>
<line x1="252.5" y1="4.6" x2="252.5" y2="6.8" stroke="#000" stroke-width="1"/>
<line x1="265.6" y1="208.3" x2="265.6" y2="204.3" stroke="#000" stroke-width="1"/>
<line x1="265.6" y1="4.6" x2="265.6" y2="8.6" stroke="#000" stroke-width="1"/>
<line x1="28.5" y1="4.6" x2="32.5" y2="4.6" stroke="#000" stroke-width="1"/>
<line x1="271.2" y1="4.6" x2="267.2" y2="4.6" stroke="#000" stroke-width="1"/>
<line x1="28.5" y1="21.6" x2="30.7" y2="21.6" stroke="#000" stroke-width="1"/>
<line x1="271.2" y1="21.6" x2="269.0" y2="21.6" stroke="#000" stroke-width="1"/>
<line x1="28.5" y1="38.6" x2="32.5" y2="38.6" stroke="#000" stroke-width="1"/>
<line x1="271.2" y1="38.6" x2="267.2" y2="38.6" stroke="#000" stroke-width="1"/>
<line x1="28.5" y1="55.5" x2="30.7" y2="55.5" stroke="#000" stroke-width="1"/>
<line x1="271.2" y1="55.5" x2="269.0" y2="55.5" stroke="#000" stroke-width="1"/>
<line x1="28.5" y1="72.5" x2="32.5" y2="72.5" stroke="#000" stroke-width="1"/>
<line x1="271.2" y1="72.5" x2="267.2" y2="72.5" stroke="#000" stroke-width="1"/>
<line x1="28.5" y1="89.5" x2="30.7" y2="89.5" stroke="#000" stroke-width="1"/>
<line x1="271.2" y1="89.5" x2="269.0" y2="89.5" stroke="#000" stroke-width="1"/>
<line x1="28.5" y1="106.4" x2="32.5" y2="106.4" stroke="#000" stroke-width="1"/>
<line x1="271.2" y1="106.4" x2="267.2" y2="106.4" stroke="#000" stroke-width="1"/>
<line x1="28.5" y1="123.4" x2="30.7" y2="123.4" stroke="#000" stroke-width="1"/>
<line x1="271.2" y1="123.4" x2="269.0" y2="123.4" stroke="#000" stroke-width="1"/>
<line x1="28.5" y1="140.4" x2="32.5" y2="140.4" stroke="#000" stroke-width="1"/>
<line x1="271.2" y1="140.4" x2="267.2" y2="140.4" stroke="#000" stroke-width="1"/>
<line x1="28.5" y1="157.4" x2="30.7" y2="157.4" stroke="#000" stroke-width="1"/>
<line x1="271.2" y1="157.4" x2="269.0" y2="157.4" stroke="#000" stroke-width="1"/>
<line x1="28.5" y1="174.3" x2="32.5" y2="174.3" stroke="#000" stroke-width="1"/>
<line x1="271.2" y1="174.3" x2="267.2" y2="174.3" stroke="#000" stroke-width="1"/>
<line x1="28.5" y1="191.3" x2="30.7" y2="191.3" stroke="#000" stroke-width="1"/>
<line x1="271.2" y1="191.3" x2="269.0" y2="191.3" stroke="#000" stroke-width="1"/>
<line x1="28.5" y1="208.3" x2="32.5" y2="208.3" stroke="#000" stroke-width="1"/>
<line x1="271.2" y1="208.3" x2="267.2" y2="208.3" stroke="#000" stroke-width="1"/>
<text x="10.15" y="8.20" class="lb" style="white-space:pre">-50</text>
<text x="10.15" y="42.15" class="lb" style="white-space:pre">-60</text>
<text x="10.15" y="76.10" class="lb" style="white-space:pre">-70</text>
<text x="10.15" y="110.05" class="lb" style="white-space:pre">-80</text>
<text x="10.15" y="144.00" class="lb" style="white-space:pre">-90</text>
<text x="4.59" y="177.95" class="lb" style="white-space:pre">- 00</text>
<path d="M830,0 L548,0 L548,1020 L141,818 L141,1060 L590,1409 L830,1409 Z" transform="translate(7.92,177.95) scale(0.004883,-0.004883)" fill="#000" stroke="#000" stroke-width="71.7"/>
<text x="5.14" y="211.90" class="lb" style="white-space:pre">-  0</text>
<path d="M830,0 L548,0 L548,1020 L141,818 L141,1060 L590,1409 L830,1409 Z" transform="translate(8.47,211.90) scale(0.004883,-0.004883)" fill="#000" stroke="#000" stroke-width="71.7"/>
<path d="M830,0 L548,0 L548,1020 L141,818 L141,1060 L590,1409 L830,1409 Z" transform="translate(14.03,211.90) scale(0.004883,-0.004883)" fill="#000" stroke="#000" stroke-width="71.7"/>
<text x="22.94" y="221.30" class="lb" style="white-space:pre">8 </text>
<path d="M830,0 L548,0 L548,1020 L141,818 L141,1060 L590,1409 L830,1409 Z" transform="translate(28.50,221.30) scale(0.004883,-0.004883)" fill="#000" stroke="#000" stroke-width="71.7"/>
<text x="49.29" y="221.30" class="lb" style="white-space:pre">82</text>
<text x="75.64" y="221.30" class="lb" style="white-space:pre">83</text>
<text x="101.99" y="221.30" class="lb" style="white-space:pre">84</text>
<text x="128.34" y="221.30" class="lb" style="white-space:pre">85</text>
<text x="154.69" y="221.30" class="lb" style="white-space:pre">86</text>
<text x="181.04" y="221.30" class="lb" style="white-space:pre">87</text>
<text x="207.39" y="221.30" class="lb" style="white-space:pre">88</text>
<text x="233.74" y="221.30" class="lb" style="white-space:pre">89</text>
<text x="260.09" y="221.30" class="lb" style="white-space:pre">90</text>
<text x="146" y="231.8" text-anchor="middle" class="bs" font-size="9.8">Frequency (kHz)</text>
<text x="152.8" y="258.6" text-anchor="middle" class="is" font-size="11.4">(a)</text>
<text transform="translate(6.9,105) rotate(-90)" text-anchor="middle" class="bs" font-size="10">S<tspan font-size="7" dy="2.2">21</tspan><tspan dy="-2.2">(dB)</tspan></text>
<text x="37" y="17" class="bs" font-size="8.9">Frequency of Operation</text>
<rect x="271.2" y="4.6" width="43" height="203.7" fill="#fff" stroke="#707070" stroke-width="1"/>
<text x="272.3" y="12.2" class="lg" text-decoration="underline" style="white-space:pre">Forward </text>
<text x="272.3" y="21.6" class="lg" text-decoration="underline">Sweep:</text>
<line x1="272.2" y1="28.9" x2="284" y2="28.9" stroke="#4b2a16" stroke-width="1.7"/>
<text x="286.20" y="31.40" class="lg" style="white-space:pre">000 (0)</text>
<line x1="272.2" y1="38.3" x2="284" y2="38.3" stroke="#f2c46e" stroke-width="1.7"/>
<text x="286.20" y="40.85" class="lg" style="white-space:pre">00  ( )</text>
<path d="M830,0 L548,0 L548,1020 L141,818 L141,1060 L590,1409 L830,1409 Z" transform="translate(293.76,40.85) scale(0.003320,-0.003320)" fill="#000" stroke="#000" stroke-width="60.2"/>
<path d="M830,0 L548,0 L548,1020 L141,818 L141,1060 L590,1409 L830,1409 Z" transform="translate(301.70,40.85) scale(0.003320,-0.003320)" fill="#000" stroke="#000" stroke-width="60.2"/>
<line x1="272.2" y1="47.8" x2="284" y2="47.8" stroke="#d8692a" stroke-width="1.7"/>
<text x="286.20" y="50.30" class="lg" style="white-space:pre">0 0 (2)</text>
<path d="M830,0 L548,0 L548,1020 L141,818 L141,1060 L590,1409 L830,1409 Z" transform="translate(289.98,50.30) scale(0.003320,-0.003320)" fill="#000" stroke="#000" stroke-width="60.2"/>
<line x1="272.2" y1="57.2" x2="284" y2="57.2" stroke="#f5a21e" stroke-width="1.7"/>
<text x="286.20" y="59.75" class="lg" style="white-space:pre">0   (3)</text>
<path d="M830,0 L548,0 L548,1020 L141,818 L141,1060 L590,1409 L830,1409 Z" transform="translate(289.98,59.75) scale(0.003320,-0.003320)" fill="#000" stroke="#000" stroke-width="60.2"/>
<path d="M830,0 L548,0 L548,1020 L141,818 L141,1060 L590,1409 L830,1409 Z" transform="translate(293.76,59.75) scale(0.003320,-0.003320)" fill="#000" stroke="#000" stroke-width="60.2"/>
<line x1="272.2" y1="66.7" x2="284" y2="66.7" stroke="#f2ea00" stroke-width="1.7"/>
<text x="286.20" y="69.20" class="lg" style="white-space:pre"> 00 (4)</text>
<path d="M830,0 L548,0 L548,1020 L141,818 L141,1060 L590,1409 L830,1409 Z" transform="translate(286.20,69.20) scale(0.003320,-0.003320)" fill="#000" stroke="#000" stroke-width="60.2"/>
<line x1="272.2" y1="76.2" x2="284" y2="76.2" stroke="#a6c255" stroke-width="1.7"/>
<text x="286.20" y="78.65" class="lg" style="white-space:pre"> 0  (5)</text>
<path d="M830,0 L548,0 L548,1020 L141,818 L141,1060 L590,1409 L830,1409 Z" transform="translate(286.20,78.65) scale(0.003320,-0.003320)" fill="#000" stroke="#000" stroke-width="60.2"/>
<path d="M830,0 L548,0 L548,1020 L141,818 L141,1060 L590,1409 L830,1409 Z" transform="translate(293.76,78.65) scale(0.003320,-0.003320)" fill="#000" stroke="#000" stroke-width="60.2"/>
<line x1="272.2" y1="85.6" x2="284" y2="85.6" stroke="#7aae7e" stroke-width="1.7"/>
<text x="286.20" y="88.10" class="lg" style="white-space:pre">  0 (6)</text>
<path d="M830,0 L548,0 L548,1020 L141,818 L141,1060 L590,1409 L830,1409 Z" transform="translate(286.20,88.10) scale(0.003320,-0.003320)" fill="#000" stroke="#000" stroke-width="60.2"/>
<path d="M830,0 L548,0 L548,1020 L141,818 L141,1060 L590,1409 L830,1409 Z" transform="translate(289.98,88.10) scale(0.003320,-0.003320)" fill="#000" stroke="#000" stroke-width="60.2"/>
<line x1="272.2" y1="95.0" x2="284" y2="95.0" stroke="#1c4f3c" stroke-width="1.7"/>
<text x="286.20" y="97.55" class="lg" style="white-space:pre">    (7)</text>
<path d="M830,0 L548,0 L548,1020 L141,818 L141,1060 L590,1409 L830,1409 Z" transform="translate(286.20,97.55) scale(0.003320,-0.003320)" fill="#000" stroke="#000" stroke-width="60.2"/>
<path d="M830,0 L548,0 L548,1020 L141,818 L141,1060 L590,1409 L830,1409 Z" transform="translate(289.98,97.55) scale(0.003320,-0.003320)" fill="#000" stroke="#000" stroke-width="60.2"/>
<path d="M830,0 L548,0 L548,1020 L141,818 L141,1060 L590,1409 L830,1409 Z" transform="translate(293.39,97.55) scale(0.003320,-0.003320)" fill="#000" stroke="#000" stroke-width="60.2"/>
<text x="272.3" y="113.5" class="lg" text-decoration="underline">Backward</text>
<text x="272.3" y="122" class="lg" text-decoration="underline" style="white-space:pre"> Sweep:</text>
<line x1="272.2" y1="128.8" x2="284" y2="128.8" stroke="#1f34a6" stroke-width="1.7"/>
<text x="286.20" y="131.30" class="lg" style="white-space:pre">000 (0)</text>
<line x1="272.2" y1="137.8" x2="284" y2="137.8" stroke="#2ccfd0" stroke-width="1.7"/>
<text x="286.20" y="140.33" class="lg" style="white-space:pre">00  ( )</text>
<path d="M830,0 L548,0 L548,1020 L141,818 L141,1060 L590,1409 L830,1409 Z" transform="translate(293.76,140.33) scale(0.003320,-0.003320)" fill="#000" stroke="#000" stroke-width="60.2"/>
<path d="M830,0 L548,0 L548,1020 L141,818 L141,1060 L590,1409 L830,1409 Z" transform="translate(301.70,140.33) scale(0.003320,-0.003320)" fill="#000" stroke="#000" stroke-width="60.2"/>
<line x1="272.2" y1="146.9" x2="284" y2="146.9" stroke="#9f98e6" stroke-width="1.7"/>
<text x="286.20" y="149.36" class="lg" style="white-space:pre">0 0 (2)</text>
<path d="M830,0 L548,0 L548,1020 L141,818 L141,1060 L590,1409 L830,1409 Z" transform="translate(289.98,149.36) scale(0.003320,-0.003320)" fill="#000" stroke="#000" stroke-width="60.2"/>
<line x1="272.2" y1="155.9" x2="284" y2="155.9" stroke="#e4b2e2" stroke-width="1.7"/>
<text x="286.20" y="158.39" class="lg" style="white-space:pre">0   (3)</text>
<path d="M830,0 L548,0 L548,1020 L141,818 L141,1060 L590,1409 L830,1409 Z" transform="translate(289.98,158.39) scale(0.003320,-0.003320)" fill="#000" stroke="#000" stroke-width="60.2"/>
<path d="M830,0 L548,0 L548,1020 L141,818 L141,1060 L590,1409 L830,1409 Z" transform="translate(293.76,158.39) scale(0.003320,-0.003320)" fill="#000" stroke="#000" stroke-width="60.2"/>
<line x1="272.2" y1="164.9" x2="284" y2="164.9" stroke="#10e010" stroke-width="1.7"/>
<text x="286.20" y="167.42" class="lg" style="white-space:pre"> 00 (4)</text>
<path d="M830,0 L548,0 L548,1020 L141,818 L141,1060 L590,1409 L830,1409 Z" transform="translate(286.20,167.42) scale(0.003320,-0.003320)" fill="#000" stroke="#000" stroke-width="60.2"/>
<line x1="272.2" y1="174.0" x2="284" y2="174.0" stroke="#f01414" stroke-width="1.7"/>
<text x="286.20" y="176.45" class="lg" style="white-space:pre"> 0  (5)</text>
<path d="M830,0 L548,0 L548,1020 L141,818 L141,1060 L590,1409 L830,1409 Z" transform="translate(286.20,176.45) scale(0.003320,-0.003320)" fill="#000" stroke="#000" stroke-width="60.2"/>
<path d="M830,0 L548,0 L548,1020 L141,818 L141,1060 L590,1409 L830,1409 Z" transform="translate(293.76,176.45) scale(0.003320,-0.003320)" fill="#000" stroke="#000" stroke-width="60.2"/>
<line x1="272.2" y1="183.0" x2="284" y2="183.0" stroke="#f5168c" stroke-width="1.7"/>
<text x="286.20" y="185.48" class="lg" style="white-space:pre">  0 (6)</text>
<path d="M830,0 L548,0 L548,1020 L141,818 L141,1060 L590,1409 L830,1409 Z" transform="translate(286.20,185.48) scale(0.003320,-0.003320)" fill="#000" stroke="#000" stroke-width="60.2"/>
<path d="M830,0 L548,0 L548,1020 L141,818 L141,1060 L590,1409 L830,1409 Z" transform="translate(289.98,185.48) scale(0.003320,-0.003320)" fill="#000" stroke="#000" stroke-width="60.2"/>
<line x1="272.2" y1="192.0" x2="284" y2="192.0" stroke="#6e9a22" stroke-width="1.7"/>
<text x="286.20" y="194.51" class="lg" style="white-space:pre">    (7)</text>
<path d="M830,0 L548,0 L548,1020 L141,818 L141,1060 L590,1409 L830,1409 Z" transform="translate(286.20,194.51) scale(0.003320,-0.003320)" fill="#000" stroke="#000" stroke-width="60.2"/>
<path d="M830,0 L548,0 L548,1020 L141,818 L141,1060 L590,1409 L830,1409 Z" transform="translate(289.98,194.51) scale(0.003320,-0.003320)" fill="#000" stroke="#000" stroke-width="60.2"/>
<path d="M830,0 L548,0 L548,1020 L141,818 L141,1060 L590,1409 L830,1409 Z" transform="translate(293.39,194.51) scale(0.003320,-0.003320)" fill="#000" stroke="#000" stroke-width="60.2"/>
<g clip-path="url(#rc)">
<line x1="373.5" y1="2.0" x2="373.5" y2="205.5" stroke="#d4d4d4" stroke-width="1" stroke-dasharray="1,1.6"/>
<line x1="387.5" y1="2.0" x2="387.5" y2="205.5" stroke="#a4a4a4" stroke-width="1"/>
<line x1="401.5" y1="2.0" x2="401.5" y2="205.5" stroke="#d4d4d4" stroke-width="1" stroke-dasharray="1,1.6"/>
<line x1="416.5" y1="2.0" x2="416.5" y2="205.5" stroke="#a4a4a4" stroke-width="1"/>
<line x1="430.5" y1="2.0" x2="430.5" y2="205.5" stroke="#d4d4d4" stroke-width="1" stroke-dasharray="1,1.6"/>
<line x1="444.5" y1="2.0" x2="444.5" y2="205.5" stroke="#a4a4a4" stroke-width="1"/>
<line x1="458.5" y1="2.0" x2="458.5" y2="205.5" stroke="#d4d4d4" stroke-width="1" stroke-dasharray="1,1.6"/>
<line x1="472.5" y1="2.0" x2="472.5" y2="205.5" stroke="#a4a4a4" stroke-width="1"/>
<line x1="486.5" y1="2.0" x2="486.5" y2="205.5" stroke="#d4d4d4" stroke-width="1" stroke-dasharray="1,1.6"/>
<line x1="500.5" y1="2.0" x2="500.5" y2="205.5" stroke="#a4a4a4" stroke-width="1"/>
<line x1="514.5" y1="2.0" x2="514.5" y2="205.5" stroke="#d4d4d4" stroke-width="1" stroke-dasharray="1,1.6"/>
<line x1="528.5" y1="2.0" x2="528.5" y2="205.5" stroke="#a4a4a4" stroke-width="1"/>
<line x1="542.5" y1="2.0" x2="542.5" y2="205.5" stroke="#d4d4d4" stroke-width="1" stroke-dasharray="1,1.6"/>
<line x1="556.5" y1="2.0" x2="556.5" y2="205.5" stroke="#a4a4a4" stroke-width="1"/>
<line x1="570.5" y1="2.0" x2="570.5" y2="205.5" stroke="#d4d4d4" stroke-width="1" stroke-dasharray="1,1.6"/>
<line x1="584.5" y1="2.0" x2="584.5" y2="205.5" stroke="#a4a4a4" stroke-width="1"/>
<line x1="598.5" y1="2.0" x2="598.5" y2="205.5" stroke="#d4d4d4" stroke-width="1" stroke-dasharray="1,1.6"/>
<line x1="612.5" y1="2.0" x2="612.5" y2="205.5" stroke="#a4a4a4" stroke-width="1"/>
<line x1="359.3" y1="190.5" x2="612.2" y2="190.5" stroke="#d4d4d4" stroke-width="1" stroke-dasharray="1,1.6"/>
<line x1="359.3" y1="175.5" x2="612.2" y2="175.5" stroke="#a4a4a4" stroke-width="1"/>
<line x1="359.3" y1="161.5" x2="612.2" y2="161.5" stroke="#d4d4d4" stroke-width="1" stroke-dasharray="1,1.6"/>
<line x1="359.3" y1="146.5" x2="612.2" y2="146.5" stroke="#a4a4a4" stroke-width="1"/>
<line x1="359.3" y1="131.5" x2="612.2" y2="131.5" stroke="#d4d4d4" stroke-width="1" stroke-dasharray="1,1.6"/>
<line x1="359.3" y1="117.5" x2="612.2" y2="117.5" stroke="#a4a4a4" stroke-width="1"/>
<line x1="359.3" y1="102.5" x2="612.2" y2="102.5" stroke="#d4d4d4" stroke-width="1" stroke-dasharray="1,1.6"/>
<line x1="359.3" y1="87.5" x2="612.2" y2="87.5" stroke="#a4a4a4" stroke-width="1"/>
<line x1="359.3" y1="73.5" x2="612.2" y2="73.5" stroke="#d4d4d4" stroke-width="1" stroke-dasharray="1,1.6"/>
<line x1="359.3" y1="58.5" x2="612.2" y2="58.5" stroke="#a4a4a4" stroke-width="1"/>
<line x1="359.3" y1="43.5" x2="612.2" y2="43.5" stroke="#d4d4d4" stroke-width="1" stroke-dasharray="1,1.6"/>
<line x1="359.3" y1="29.5" x2="612.2" y2="29.5" stroke="#a4a4a4" stroke-width="1"/>
<line x1="359.3" y1="14.5" x2="612.2" y2="14.5" stroke="#d4d4d4" stroke-width="1" stroke-dasharray="1,1.6"/>
<polyline points="356.7,204.7 357.3,204.7 357.9,204.7 358.4,204.7 359,204.7 359.5,204.7 360.1,204.7 360.6,204.7 361.1,204.7 361.6,204.7 362.1,204.7 362.6,204.6 363.1,204.6 363.6,204.6 364.1,204.6 364.6,204.6 365,204.6 365.5,204.6 366,204.6 366.4,204.6 366.9,204.6 367.3,204.6 367.7,204.6 368.2,204.6 368.6,204.5 369,204.5 369.4,204.5 369.8,204.5 370.2,204.5 370.6,204.5 371,204.5 371.4,204.5 371.8,204.5 372.2,204.5 372.5,204.5 372.9,204.4 373.3,204.4 373.6,204.4 374,204.4 374.3,204.4 374.7,204.4 375,204.4 375.3,204.4 375.7,204.4 376,204.4 376.3,204.3 376.6,204.3 377,204.3 377.3,204.3 377.6,204.3 377.9,204.3 378.2,204.3 378.5,204.3 378.8,204.2 379.1,204.2 379.3,204.2 379.6,204.2 379.9,204.2 380.2,204.2 380.4,204.2 380.7,204.2 381,204.1 381.2,204.1 381.5,204.1 381.7,204.1 382,204.1 382.2,204.1 382.5,204.1 382.7,204 383,204 383.2,204 383.4,204 383.6,204 383.9,204 384.1,204 384.3,203.9 384.5,203.9 384.7,203.9 385,203.9 385.2,203.9 385.4,203.9 385.6,203.8 385.8,203.8 386,203.8 386.2,203.8 386.4,203.8 386.5,203.7 386.7,203.7 386.9,203.7 387.1,203.7 387.3,203.7 387.5,203.6 387.6,203.6 387.8,203.6 388,203.6 388.2,203.6 388.3,203.5 388.5,203.5 388.7,203.5 388.8,203.5 389,203.5 389.1,203.4 389.3,203.4 389.4,203.4 389.6,203.4 389.7,203.3 389.9,203.3 390,203.3 390.2,203.3 390.3,203.2 390.5,203.2 390.6,203.2 390.7,203.2 390.9,203.1 391,203.1 391.1,203.1 391.3,203.1 391.4,203 391.5,203 391.6,203 391.8,202.9 391.9,202.9 392,202.9 392.1,202.9 392.2,202.8 392.4,202.8 392.5,202.8 392.6,202.7 392.7,202.7 392.8,202.7 392.9,202.6 393,202.6 393.1,202.6 393.2,202.5 393.3,202.5 393.4,202.5 393.5,202.4 393.6,202.4 393.7,202.4 393.8,202.3 393.9,202.3 394,202.2 394.1,202.2 394.2,202.2 394.3,202.1 394.4,202.1 394.5,202 394.6,202 394.7,202 394.7,201.9 394.8,201.9 394.9,201.8 395,201.8 395.1,201.7 395.2,201.7 395.2,201.7 395.3,201.6 395.4,201.6 395.5,201.5 395.5,201.5 395.6,201.4 395.7,201.4 395.8,201.3 395.8,201.3 395.9,201.2 396,201.2 396.1,201.1 396.1,201.1 396.2,201 396.3,201 396.3,200.9 396.4,200.8 396.5,200.8 396.5,200.7 396.6,200.7 396.6,200.6 396.7,200.6 396.8,200.5 396.8,200.4 396.9,200.4 397,200.3 397,200.2 397.1,200.2 397.1,200.1 397.2,200 397.2,200 397.3,199.9 397.4,199.8 397.4,199.8 397.5,199.7 397.5,199.6 397.6,199.6 397.6,199.5 397.7,199.4 397.7,199.3 397.8,199.3 397.8,199.2 397.9,199.1 397.9,199 398,198.9 398,198.9 398.1,198.8 398.1,198.7 398.2,198.6 398.2,198.5 398.3,198.4 398.3,198.4 398.4,198.3 398.4,198.2 398.5,198.1 398.5,198 398.5,197.9 398.6,197.8 398.6,197.7 398.7,197.6 398.7,197.5 398.8,197.4 398.8,197.3 398.8,197.2 398.9,197.1 398.9,197 399,196.9 399,196.8 399.1,196.7 399.1,196.6 399.1,196.4 399.2,196.3 399.2,196.2 399.3,196.1 399.3,196 399.3,195.9 399.4,195.7 399.4,195.6 399.5,195.5 399.5,195.4 399.6,195.2 399.6,195.1 399.6,195 399.7,194.8 399.7,194.7 399.8,194.6 399.8,194.4 399.8,194.3 399.9,194.2 399.9,194 400,193.9 400,193.7 400,193.6 400.1,193.4 400.1,193.3 400.2,193.1 400.2,193 400.3,192.8 400.3,192.6 400.3,192.5 400.4,192.3 400.4,192.1 400.5,192 400.5,191.8 400.6,191.6 400.6,191.5 400.6,191.3 400.7,191.1 400.7,190.9 400.8,190.7 400.8,190.5 400.9,190.3 400.9,190.2 401,190 401,189.8 401.1,189.6 401.1,189.4 401.2,189.1 401.2,188.9 401.3,188.7 401.3,188.5 401.4,188.3 401.4,188.1 401.5,187.9 401.5,187.6 401.6,187.4 401.7,187.2 401.7,186.9 401.8,186.7 401.8,186.5 401.9,186.2 401.9,186 402,185.7 402.1,185.5 402.1,185.2 402.2,184.9 402.3,184.7 402.3,184.4 402.4,184.1 402.5,183.9 402.6,183.6 402.6,183.3 402.7,183 402.8,182.7 402.9,182.5 402.9,182.2 403,181.9 403.1,181.6 403.2,181.2 403.3,180.9 403.4,180.6 403.5,180.3 403.5,180 403.6,179.7 403.7,179.3 403.8,179 403.9,178.6 404,178.3 404.1,177.9 404.2,177.6 404.4,177.2 404.5,176.9 404.6,176.5 404.7,176.1 404.8,175.8 404.9,175.4 405.1,175 405.2,174.6 405.3,174.2 405.5,173.8 405.6,173.4 405.7,173 405.9,172.6 406,172.1 406.2,171.7 406.3,171.3 406.5,170.8 406.6,170.4 406.8,169.9 407,169.5 407.1,169 407.3,168.5 407.5,168.1 407.7,167.6 407.9,167.1 408.1,166.6 408.3,166.1 408.5,165.6 408.7,165.1 408.9,164.5 409.1,164 409.3,163.5 409.6,162.9 409.8,162.4 410.1,161.8 410.3,161.3 410.6,160.7 410.8,160.1 411.1,159.5 411.4,158.9 411.6,158.3 411.9,157.7 412.2,157.1 412.5,156.5 412.8,155.9 413.1,155.2 413.5,154.6 413.8,153.9 414.1,153.2 414.5,152.6 414.8,151.9 415.2,151.2 415.6,150.5 416,149.8 416.4,149.1 416.8,148.3 417.2,147.6 417.6,146.8 418.1,146.1 418.5,145.3 419,144.5 419.4,143.7 419.9,142.9 420.4,142.1 420.9,141.3 421.4,140.5 422,139.6 422.5,138.8 423.1,137.9 423.7,137.1 424.3,136.2 424.9,135.3 425.5,134.4 426.1,133.4 426.8,132.5 427.4,131.6 428.1,130.6 428.8,129.6 429.5,128.7 430.3,127.7 431,126.7 431.8,125.6 432.6,124.6 433.4,123.6 434.3,122.5 435.1,121.4 436,120.3 436.9,119.2 437.8,118.1 438.8,117 439.7,115.8 440.7,114.7 441.8,113.5 442.8,112.3 443.9,111.1 445,109.9 446.1,108.6 447.3,107.4 448.4,106.1 449.6,104.8 450.9,103.5 452.2,102.2 453.5,100.9 454.8,99.5 456.2,98.1 457.6,96.8 459,95.3 460.5,93.9 462,92.5 463.6,91 465.2,89.5 466.8,88 468.5,86.5 470.2,85 472,83.4 473.8,81.8 475.6,80.2 477.5,78.6 479.5,76.9 481.5,75.3 483.5,73.6 485.6,71.9 487.7,70.1 489.9,68.4 492.2,66.6 494.5,64.8 496.9,63 499.3,61.1 501.8,59.3 504.3,57.4 506.9,55.5 509.6,53.5 512.3,51.5 515.1,49.5 518,47.5 520.9,45.5 524,43.4 527.1,41.3 530.2,39.2 533.5,37 536.8,34.8 540.2,32.6 543.7,30.4 547.3,28.1 550.9,25.8 554.7,23.5 558.5,21.1" fill="none" stroke="#000000" stroke-width="1.85" stroke-linejoin="round" />
<polyline points="356.5,204.8 357.1,204.7 357.7,204.7 358.3,204.7 358.9,204.7 359.5,204.7 360.1,204.7 360.6,204.7 361.2,204.7 361.7,204.7 362.3,204.7 362.8,204.7 363.3,204.7 363.9,204.7 364.4,204.7 364.9,204.7 365.4,204.6 365.9,204.6 366.4,204.6 366.8,204.6 367.3,204.6 367.8,204.6 368.3,204.6 368.7,204.6 369.2,204.6 369.6,204.6 370.1,204.6 370.5,204.6 370.9,204.6 371.3,204.5 371.8,204.5 372.2,204.5 372.6,204.5 373,204.5 373.4,204.5 373.8,204.5 374.2,204.5 374.5,204.5 374.9,204.5 375.3,204.5 375.7,204.4 376,204.4 376.4,204.4 376.7,204.4 377.1,204.4 377.4,204.4 377.8,204.4 378.1,204.4 378.4,204.4 378.8,204.4 379.1,204.3 379.4,204.3 379.7,204.3 380,204.3 380.3,204.3 380.6,204.3 380.9,204.3 381.2,204.3 381.5,204.3 381.8,204.2 382.1,204.2 382.4,204.2 382.7,204.2 382.9,204.2 383.2,204.2 383.5,204.2 383.7,204.1 384,204.1 384.3,204.1 384.5,204.1 384.8,204.1 385,204.1 385.3,204.1 385.5,204 385.7,204 386,204 386.2,204 386.4,204 386.7,204 386.9,204 387.1,203.9 387.3,203.9 387.5,203.9 387.7,203.9 388,203.9 388.2,203.9 388.4,203.8 388.6,203.8 388.8,203.8 389,203.8 389.2,203.8 389.3,203.7 389.5,203.7 389.7,203.7 389.9,203.7 390.1,203.7 390.3,203.7 390.4,203.6 390.6,203.6 390.8,203.6 391,203.6 391.1,203.6 391.3,203.5 391.5,203.5 391.6,203.5 391.8,203.5 391.9,203.4 392.1,203.4 392.3,203.4 392.4,203.4 392.6,203.3 392.7,203.3 392.9,203.3 393,203.3 393.1,203.2 393.3,203.2 393.4,203.2 393.6,203.2 393.7,203.1 393.8,203.1 394,203.1 394.1,203.1 394.2,203 394.4,203 394.5,203 394.6,203 394.7,202.9 394.8,202.9 395,202.9 395.1,202.8 395.2,202.8 395.3,202.8 395.4,202.7 395.5,202.7 395.7,202.7 395.8,202.6 395.9,202.6 396,202.6 396.1,202.5 396.2,202.5 396.3,202.5 396.4,202.4 396.5,202.4 396.6,202.4 396.7,202.3 396.8,202.3 396.9,202.3 397,202.2 397.1,202.2 397.2,202.1 397.3,202.1 397.4,202.1 397.4,202 397.5,202 397.6,201.9 397.7,201.9 397.8,201.8 397.9,201.8 398,201.8 398,201.7 398.1,201.7 398.2,201.6 398.3,201.6 398.4,201.5 398.4,201.5 398.5,201.4 398.6,201.4 398.7,201.3 398.7,201.3 398.8,201.2 398.9,201.2 399,201.1 399,201.1 399.1,201 399.2,201 399.2,200.9 399.3,200.9 399.4,200.8 399.4,200.8 399.5,200.7 399.6,200.6 399.6,200.6 399.7,200.5 399.8,200.5 399.8,200.4 399.9,200.3 399.9,200.3 400,200.2 400.1,200.1 400.1,200.1 400.2,200 400.2,199.9 400.3,199.9 400.4,199.8 400.4,199.7 400.5,199.7 400.5,199.6 400.6,199.5 400.6,199.4 400.7,199.4 400.7,199.3 400.8,199.2 400.8,199.1 400.9,199.1 400.9,199 401,198.9 401,198.8 401.1,198.7 401.1,198.7 401.2,198.6 401.2,198.5 401.3,198.4 401.3,198.3 401.4,198.2 401.4,198.1 401.5,198 401.5,197.9 401.6,197.8 401.6,197.8 401.7,197.7 401.7,197.6 401.8,197.5 401.8,197.4 401.9,197.3 401.9,197.2 402,197.1 402,196.9 402,196.8 402.1,196.7 402.1,196.6 402.2,196.5 402.2,196.4 402.3,196.3 402.3,196.2 402.4,196 402.4,195.9 402.4,195.8 402.5,195.7 402.5,195.6 402.6,195.4 402.6,195.3 402.7,195.2 402.7,195.1 402.7,194.9 402.8,194.8 402.8,194.7 402.9,194.5 402.9,194.4 403,194.2 403,194.1 403.1,194 403.1,193.8 403.1,193.7 403.2,193.5 403.2,193.4 403.3,193.2 403.3,193.1 403.4,192.9 403.4,192.7 403.5,192.6 403.5,192.4 403.6,192.2 403.6,192.1 403.7,191.9 403.7,191.7 403.8,191.6 403.8,191.4 403.9,191.2 403.9,191 403.9,190.8 404,190.7 404.1,190.5 404.1,190.3 404.2,190.1 404.2,189.9 404.3,189.7 404.3,189.5 404.4,189.3 404.4,189.1 404.5,188.9 404.5,188.6 404.6,188.4 404.7,188.2 404.7,188 404.8,187.8 404.8,187.5 404.9,187.3 405,187.1 405,186.9 405.1,186.6 405.1,186.4 405.2,186.1 405.3,185.9 405.3,185.6 405.4,185.4 405.5,185.1 405.6,184.9 405.6,184.6 405.7,184.3 405.8,184.1 405.9,183.8 405.9,183.5 406,183.2 406.1,182.9 406.2,182.7 406.3,182.4 406.4,182.1 406.4,181.8 406.5,181.5 406.6,181.2 406.7,180.8 406.8,180.5 406.9,180.2 407,179.9 407.1,179.6 407.2,179.2 407.3,178.9 407.4,178.5 407.5,178.2 407.6,177.8 407.8,177.5 407.9,177.1 408,176.8 408.1,176.4 408.2,176 408.4,175.7 408.5,175.3 408.6,174.9 408.8,174.5 408.9,174.1 409,173.7 409.2,173.3 409.3,172.9 409.5,172.4 409.6,172 409.8,171.6 409.9,171.2 410.1,170.7 410.3,170.3 410.4,169.8 410.6,169.4 410.8,168.9 411,168.4 411.2,167.9 411.4,167.5 411.6,167 411.8,166.5 412,166 412.2,165.5 412.4,164.9 412.6,164.4 412.9,163.9 413.1,163.4 413.3,162.8 413.6,162.3 413.8,161.7 414.1,161.1 414.3,160.6 414.6,160 414.9,159.4 415.2,158.8 415.5,158.2 415.7,157.6 416,157 416.4,156.4 416.7,155.7 417,155.1 417.3,154.4 417.7,153.8 418,153.1 418.4,152.4 418.7,151.8 419.1,151.1 419.5,150.4 419.9,149.7 420.3,148.9 420.7,148.2 421.1,147.5 421.6,146.7 422,146 422.5,145.2 422.9,144.4 423.4,143.6 423.9,142.8 424.4,142 424.9,141.2 425.4,140.4 426,139.5 426.5,138.7 427.1,137.8 427.7,136.9 428.3,136.1 428.9,135.2 429.5,134.2 430.2,133.3 430.8,132.4 431.5,131.5 432.2,130.5 432.9,129.5 433.6,128.5 434.4,127.6 435.1,126.5 435.9,125.5 436.7,124.5 437.5,123.4 438.3,122.4 439.2,121.3 440.1,120.2 441,119.1 441.9,118 442.9,116.9 443.8,115.7 444.8,114.6 445.9,113.4 446.9,112.2 448,111 449.1,109.8 450.2,108.5 451.4,107.3 452.6,106 453.8,104.7 455,103.4 456.3,102.1 457.6,100.8 458.9,99.4 460.3,98.1 461.7,96.7 463.2,95.3 464.6,93.8 466.1,92.4 467.7,90.9 469.3,89.4 470.9,87.9 472.6,86.4 474.3,84.9 476.1,83.3 477.9,81.7 479.7,80.1 481.6,78.5 483.5,76.9 485.5,75.2 487.5,73.5 489.6,71.8 491.8,70.1 494,68.3 496.2,66.6 498.5,64.8 500.9,62.9 503.3,61.1 505.7,59.2 508.3,57.3 510.9,55.4 513.5,53.5 516.3,51.5 519.1,49.5 521.9,47.5 524.9,45.5 527.9,43.4 531,41.3 534.1,39.2 537.4,37 540.7,34.8 544.1,32.6 547.6,30.4 551.1,28.1 554.8,25.8 558.5,23.5" fill="none" stroke="#ff00ff" stroke-width="1.85" stroke-linejoin="round" />
<polyline points="356.7,204.8 357.3,204.8 358,204.8 358.6,204.8 359.3,204.8 359.9,204.8 360.5,204.8 361.2,204.8 361.8,204.7 362.4,204.7 363,204.7 363.6,204.7 364.2,204.7 364.7,204.7 365.3,204.7 365.8,204.7 366.4,204.7 366.9,204.7 367.5,204.7 368,204.7 368.5,204.7 369.1,204.7 369.6,204.7 370.1,204.6 370.6,204.6 371.1,204.6 371.5,204.6 372,204.6 372.5,204.6 373,204.6 373.4,204.6 373.9,204.6 374.3,204.6 374.8,204.6 375.2,204.6 375.6,204.6 376.1,204.5 376.5,204.5 376.9,204.5 377.3,204.5 377.7,204.5 378.1,204.5 378.5,204.5 378.9,204.5 379.3,204.5 379.7,204.5 380,204.5 380.4,204.4 380.8,204.4 381.1,204.4 381.5,204.4 381.8,204.4 382.2,204.4 382.5,204.4 382.9,204.4 383.2,204.4 383.5,204.4 383.9,204.3 384.2,204.3 384.5,204.3 384.8,204.3 385.1,204.3 385.4,204.3 385.7,204.3 386,204.3 386.3,204.2 386.6,204.2 386.9,204.2 387.2,204.2 387.4,204.2 387.7,204.2 388,204.2 388.3,204.2 388.5,204.1 388.8,204.1 389,204.1 389.3,204.1 389.6,204.1 389.8,204.1 390,204.1 390.3,204 390.5,204 390.8,204 391,204 391.2,204 391.5,204 391.7,204 391.9,203.9 392.1,203.9 392.3,203.9 392.5,203.9 392.8,203.9 393,203.9 393.2,203.8 393.4,203.8 393.6,203.8 393.8,203.8 394,203.8 394.2,203.7 394.3,203.7 394.5,203.7 394.7,203.7 394.9,203.7 395.1,203.6 395.3,203.6 395.4,203.6 395.6,203.6 395.8,203.6 395.9,203.5 396.1,203.5 396.3,203.5 396.4,203.5 396.6,203.5 396.8,203.4 396.9,203.4 397.1,203.4 397.2,203.4 397.4,203.3 397.5,203.3 397.7,203.3 397.8,203.3 398,203.2 398.1,203.2 398.2,203.2 398.4,203.2 398.5,203.1 398.7,203.1 398.8,203.1 398.9,203.1 399,203 399.2,203 399.3,203 399.4,202.9 399.6,202.9 399.7,202.9 399.8,202.8 399.9,202.8 400,202.8 400.1,202.8 400.3,202.7 400.4,202.7 400.5,202.7 400.6,202.6 400.7,202.6 400.8,202.6 400.9,202.5 401,202.5 401.1,202.5 401.2,202.4 401.3,202.4 401.4,202.3 401.5,202.3 401.6,202.3 401.7,202.2 401.8,202.2 401.9,202.2 402,202.1 402.1,202.1 402.2,202 402.3,202 402.4,201.9 402.5,201.9 402.6,201.9 402.6,201.8 402.7,201.8 402.8,201.7 402.9,201.7 403,201.6 403.1,201.6 403.1,201.5 403.2,201.5 403.3,201.5 403.4,201.4 403.4,201.4 403.5,201.3 403.6,201.3 403.7,201.2 403.7,201.1 403.8,201.1 403.9,201 404,201 404,200.9 404.1,200.9 404.2,200.8 404.2,200.8 404.3,200.7 404.4,200.6 404.4,200.6 404.5,200.5 404.6,200.5 404.6,200.4 404.7,200.3 404.8,200.3 404.8,200.2 404.9,200.2 404.9,200.1 405,200 405.1,200 405.1,199.9 405.2,199.8 405.2,199.7 405.3,199.7 405.4,199.6 405.4,199.5 405.5,199.5 405.5,199.4 405.6,199.3 405.6,199.2 405.7,199.2 405.7,199.1 405.8,199 405.8,198.9 405.9,198.8 405.9,198.7 406,198.7 406.1,198.6 406.1,198.5 406.2,198.4 406.2,198.3 406.3,198.2 406.3,198.1 406.4,198 406.4,198 406.5,197.9 406.5,197.8 406.5,197.7 406.6,197.6 406.6,197.5 406.7,197.4 406.7,197.3 406.8,197.2 406.8,197.1 406.9,197 406.9,196.8 407,196.7 407,196.6 407.1,196.5 407.1,196.4 407.2,196.3 407.2,196.2 407.3,196.1 407.3,195.9 407.3,195.8 407.4,195.7 407.4,195.6 407.5,195.4 407.5,195.3 407.6,195.2 407.6,195.1 407.7,194.9 407.7,194.8 407.8,194.7 407.8,194.5 407.8,194.4 407.9,194.2 407.9,194.1 408,194 408,193.8 408.1,193.7 408.1,193.5 408.2,193.4 408.2,193.2 408.3,193 408.3,192.9 408.4,192.7 408.4,192.6 408.5,192.4 408.5,192.2 408.6,192.1 408.6,191.9 408.7,191.7 408.7,191.5 408.8,191.4 408.8,191.2 408.9,191 408.9,190.8 409,190.6 409,190.4 409.1,190.3 409.1,190.1 409.2,189.9 409.2,189.7 409.3,189.5 409.3,189.3 409.4,189 409.5,188.8 409.5,188.6 409.6,188.4 409.6,188.2 409.7,188 409.8,187.7 409.8,187.5 409.9,187.3 409.9,187.1 410,186.8 410.1,186.6 410.1,186.3 410.2,186.1 410.3,185.8 410.3,185.6 410.4,185.3 410.5,185.1 410.6,184.8 410.6,184.5 410.7,184.3 410.8,184 410.9,183.7 410.9,183.4 411,183.2 411.1,182.9 411.2,182.6 411.3,182.3 411.4,182 411.4,181.7 411.5,181.4 411.6,181.1 411.7,180.8 411.8,180.4 411.9,180.1 412,179.8 412.1,179.5 412.2,179.1 412.3,178.8 412.4,178.5 412.5,178.1 412.6,177.8 412.8,177.4 412.9,177 413,176.7 413.1,176.3 413.2,175.9 413.4,175.5 413.5,175.2 413.6,174.8 413.8,174.4 413.9,174 414,173.6 414.2,173.1 414.3,172.7 414.5,172.3 414.6,171.9 414.8,171.4 414.9,171 415.1,170.6 415.3,170.1 415.4,169.7 415.6,169.2 415.8,168.7 416,168.2 416.2,167.8 416.3,167.3 416.5,166.8 416.7,166.3 416.9,165.8 417.2,165.3 417.4,164.7 417.6,164.2 417.8,163.7 418,163.1 418.3,162.6 418.5,162 418.8,161.5 419,160.9 419.3,160.3 419.5,159.8 419.8,159.2 420.1,158.6 420.4,158 420.6,157.3 420.9,156.7 421.2,156.1 421.6,155.4 421.9,154.8 422.2,154.1 422.5,153.5 422.9,152.8 423.2,152.1 423.6,151.4 424,150.7 424.3,150 424.7,149.3 425.1,148.6 425.5,147.8 425.9,147.1 426.4,146.3 426.8,145.6 427.2,144.8 427.7,144 428.2,143.2 428.7,142.4 429.1,141.6 429.7,140.8 430.2,139.9 430.7,139.1 431.2,138.2 431.8,137.3 432.4,136.5 433,135.6 433.6,134.7 434.2,133.7 434.8,132.8 435.5,131.9 436.1,130.9 436.8,130 437.5,129 438.2,128 438.9,127 439.7,126 440.5,124.9 441.3,123.9 442.1,122.8 442.9,121.8 443.8,120.7 444.6,119.6 445.5,118.5 446.4,117.3 447.4,116.2 448.4,115 449.4,113.9 450.4,112.7 451.4,111.5 452.5,110.2 453.6,109 454.7,107.8 455.9,106.5 457,105.2 458.3,103.9 459.5,102.6 460.8,101.2 462.1,99.9 463.4,98.5 464.8,97.1 466.2,95.7 467.7,94.3 469.2,92.9 470.7,91.4 472.3,89.9 473.9,88.4 475.5,86.9 477.2,85.4 479,83.8 480.7,82.2 482.6,80.6 484.4,79 486.4,77.4 488.3,75.7 490.4,74 492.5,72.3 494.6,70.6 496.8,68.8 499,67 501.3,65.2 503.7,63.4 506.1,61.6 508.6,59.7 511.2,57.8 513.8,55.9 516.5,54 519.2,52 522.1,50 525,48 528,45.9 531,43.9 534.2,41.8 537.4,39.6 540.7,37.5 544.1,35.3 547.6,33.1 551.2,30.8 554.9,28.6 558.7,26.3 562.5,23.9 566.5,21.6 570.6,19.2" fill="none" stroke="#008000" stroke-width="1.85" stroke-linejoin="round" />
<polyline points="357,204.8 357.7,204.7 358.4,204.7 359.1,204.7 359.8,204.7 360.5,204.7 361.1,204.7 361.8,204.7 362.5,204.7 363.1,204.7 363.7,204.7 364.4,204.7 365,204.7 365.6,204.7 366.2,204.7 366.8,204.7 367.4,204.6 368,204.6 368.5,204.6 369.1,204.6 369.7,204.6 370.2,204.6 370.8,204.6 371.3,204.6 371.8,204.6 372.4,204.6 372.9,204.6 373.4,204.6 373.9,204.6 374.4,204.5 374.9,204.5 375.4,204.5 375.9,204.5 376.3,204.5 376.8,204.5 377.3,204.5 377.7,204.5 378.2,204.5 378.6,204.5 379,204.5 379.5,204.4 379.9,204.4 380.3,204.4 380.7,204.4 381.1,204.4 381.6,204.4 382,204.4 382.3,204.4 382.7,204.4 383.1,204.4 383.5,204.3 383.9,204.3 384.2,204.3 384.6,204.3 385,204.3 385.3,204.3 385.7,204.3 386,204.3 386.4,204.2 386.7,204.2 387,204.2 387.4,204.2 387.7,204.2 388,204.2 388.3,204.2 388.7,204.2 389,204.1 389.3,204.1 389.6,204.1 389.9,204.1 390.2,204.1 390.5,204.1 390.7,204.1 391,204 391.3,204 391.6,204 391.8,204 392.1,204 392.4,204 392.6,204 392.9,203.9 393.2,203.9 393.4,203.9 393.7,203.9 393.9,203.9 394.1,203.9 394.4,203.8 394.6,203.8 394.9,203.8 395.1,203.8 395.3,203.8 395.5,203.7 395.8,203.7 396,203.7 396.2,203.7 396.4,203.7 396.6,203.6 396.8,203.6 397,203.6 397.2,203.6 397.4,203.6 397.6,203.5 397.8,203.5 398,203.5 398.2,203.5 398.4,203.5 398.6,203.4 398.8,203.4 398.9,203.4 399.1,203.4 399.3,203.3 399.5,203.3 399.6,203.3 399.8,203.3 400,203.2 400.1,203.2 400.3,203.2 400.5,203.2 400.6,203.1 400.8,203.1 400.9,203.1 401.1,203.1 401.2,203 401.4,203 401.5,203 401.7,202.9 401.8,202.9 402,202.9 402.1,202.9 402.2,202.8 402.4,202.8 402.5,202.8 402.7,202.7 402.8,202.7 402.9,202.7 403,202.6 403.2,202.6 403.3,202.6 403.4,202.5 403.5,202.5 403.7,202.5 403.8,202.4 403.9,202.4 404,202.4 404.1,202.3 404.2,202.3 404.4,202.2 404.5,202.2 404.6,202.2 404.7,202.1 404.8,202.1 404.9,202 405,202 405.1,202 405.2,201.9 405.3,201.9 405.4,201.8 405.5,201.8 405.6,201.7 405.7,201.7 405.8,201.7 405.9,201.6 406,201.6 406.1,201.5 406.2,201.5 406.2,201.4 406.3,201.4 406.4,201.3 406.5,201.3 406.6,201.2 406.7,201.2 406.8,201.1 406.8,201.1 406.9,201 407,201 407.1,200.9 407.2,200.8 407.2,200.8 407.3,200.7 407.4,200.7 407.5,200.6 407.5,200.6 407.6,200.5 407.7,200.4 407.8,200.4 407.8,200.3 407.9,200.2 408,200.2 408,200.1 408.1,200 408.2,200 408.2,199.9 408.3,199.8 408.4,199.8 408.4,199.7 408.5,199.6 408.6,199.6 408.6,199.5 408.7,199.4 408.7,199.3 408.8,199.3 408.9,199.2 408.9,199.1 409,199 409,198.9 409.1,198.9 409.2,198.8 409.2,198.7 409.3,198.6 409.3,198.5 409.4,198.4 409.4,198.4 409.5,198.3 409.5,198.2 409.6,198.1 409.6,198 409.7,197.9 409.8,197.8 409.8,197.7 409.9,197.6 409.9,197.5 410,197.4 410,197.3 410.1,197.2 410.1,197.1 410.2,197 410.2,196.9 410.3,196.8 410.3,196.7 410.4,196.6 410.4,196.5 410.5,196.3 410.5,196.2 410.6,196.1 410.6,196 410.6,195.9 410.7,195.8 410.7,195.6 410.8,195.5 410.8,195.4 410.9,195.3 410.9,195.1 411,195 411,194.9 411.1,194.7 411.1,194.6 411.2,194.5 411.2,194.3 411.3,194.2 411.3,194 411.4,193.9 411.4,193.7 411.4,193.6 411.5,193.4 411.5,193.3 411.6,193.1 411.6,193 411.7,192.8 411.7,192.7 411.8,192.5 411.8,192.3 411.9,192.2 411.9,192 412,191.8 412,191.6 412.1,191.5 412.1,191.3 412.2,191.1 412.2,190.9 412.3,190.7 412.3,190.5 412.4,190.4 412.4,190.2 412.5,190 412.5,189.8 412.6,189.6 412.6,189.4 412.7,189.2 412.7,189 412.8,188.7 412.9,188.5 412.9,188.3 413,188.1 413,187.9 413.1,187.6 413.2,187.4 413.2,187.2 413.3,187 413.3,186.7 413.4,186.5 413.5,186.2 413.5,186 413.6,185.7 413.7,185.5 413.7,185.2 413.8,185 413.9,184.7 413.9,184.4 414,184.2 414.1,183.9 414.2,183.6 414.2,183.3 414.3,183.1 414.4,182.8 414.5,182.5 414.5,182.2 414.6,181.9 414.7,181.6 414.8,181.3 414.9,181 415,180.6 415.1,180.3 415.2,180 415.2,179.7 415.3,179.3 415.4,179 415.5,178.7 415.6,178.3 415.7,178 415.9,177.6 416,177.3 416.1,176.9 416.2,176.5 416.3,176.2 416.4,175.8 416.5,175.4 416.7,175 416.8,174.6 416.9,174.2 417,173.8 417.2,173.4 417.3,173 417.5,172.6 417.6,172.2 417.7,171.7 417.9,171.3 418.1,170.9 418.2,170.4 418.4,170 418.5,169.5 418.7,169 418.9,168.6 419,168.1 419.2,167.6 419.4,167.1 419.6,166.6 419.8,166.1 420,165.6 420.2,165.1 420.4,164.6 420.6,164.1 420.8,163.5 421,163 421.3,162.4 421.5,161.9 421.7,161.3 422,160.8 422.2,160.2 422.5,159.6 422.8,159 423,158.4 423.3,157.8 423.6,157.2 423.9,156.5 424.2,155.9 424.5,155.3 424.8,154.6 425.1,154 425.4,153.3 425.8,152.6 426.1,151.9 426.5,151.3 426.8,150.6 427.2,149.8 427.6,149.1 428,148.4 428.4,147.7 428.8,146.9 429.2,146.2 429.6,145.4 430.1,144.6 430.5,143.8 431,143 431.5,142.2 431.9,141.4 432.4,140.6 433,139.7 433.5,138.9 434,138 434.6,137.2 435.1,136.3 435.7,135.4 436.3,134.5 436.9,133.5 437.6,132.6 438.2,131.7 438.9,130.7 439.5,129.8 440.2,128.8 440.9,127.8 441.7,126.8 442.4,125.8 443.2,124.7 444,123.7 444.8,122.6 445.6,121.5 446.5,120.5 447.3,119.4 448.2,118.2 449.2,117.1 450.1,116 451.1,114.8 452.1,113.6 453.1,112.5 454.1,111.2 455.2,110 456.3,108.8 457.4,107.5 458.6,106.3 459.8,105 461,103.7 462.2,102.4 463.5,101 464.8,99.7 466.2,98.3 467.6,96.9 469,95.5 470.5,94.1 472,92.6 473.5,91.2 475.1,89.7 476.7,88.2 478.4,86.7 480.1,85.1 481.8,83.6 483.6,82 485.5,80.4 487.4,78.8 489.3,77.1 491.3,75.5 493.4,73.8 495.5,72.1 497.6,70.4 499.8,68.6 502.1,66.8 504.4,65 506.8,63.2 509.3,61.4 511.8,59.5 514.4,57.6 517.1,55.7 519.8,53.7 522.6,51.8 525.5,49.8 528.4,47.8 531.5,45.7 534.6,43.7 537.8,41.6 541.1,39.4 544.4,37.3 547.9,35.1 551.4,32.9 555.1,30.6 558.8,28.4 562.7,26.1 566.6,23.8 570.7,21.4" fill="none" stroke="#0000ff" stroke-width="1.85" stroke-linejoin="round" />
<polyline points="356.6,204.8 357.6,204.8 358.6,204.8 359.6,204.8 360.6,204.8 361.5,204.7 362.4,204.7 363.4,204.7 364.3,204.7 365.2,204.7 366.1,204.7 366.9,204.7 367.8,204.7 368.7,204.7 369.5,204.7 370.3,204.7 371.2,204.7 372,204.7 372.8,204.7 373.6,204.7 374.4,204.6 375.1,204.6 375.9,204.6 376.6,204.6 377.4,204.6 378.1,204.6 378.8,204.6 379.5,204.6 380.3,204.6 381,204.6 381.6,204.6 382.3,204.6 383,204.6 383.6,204.5 384.3,204.5 384.9,204.5 385.6,204.5 386.2,204.5 386.8,204.5 387.4,204.5 388,204.5 388.6,204.5 389.2,204.5 389.8,204.5 390.4,204.4 390.9,204.4 391.5,204.4 392.1,204.4 392.6,204.4 393.1,204.4 393.7,204.4 394.2,204.4 394.7,204.4 395.2,204.4 395.7,204.3 396.2,204.3 396.7,204.3 397.2,204.3 397.7,204.3 398.1,204.3 398.6,204.3 399.1,204.3 399.5,204.3 400,204.2 400.4,204.2 400.9,204.2 401.3,204.2 401.7,204.2 402.1,204.2 402.5,204.2 403,204.2 403.4,204.1 403.8,204.1 404.2,204.1 404.5,204.1 404.9,204.1 405.3,204.1 405.7,204.1 406,204 406.4,204 406.8,204 407.1,204 407.5,204 407.8,204 408.2,203.9 408.5,203.9 408.8,203.9 409.2,203.9 409.5,203.9 409.8,203.9 410.1,203.8 410.4,203.8 410.7,203.8 411,203.8 411.3,203.8 411.6,203.8 411.9,203.7 412.2,203.7 412.5,203.7 412.8,203.7 413.1,203.7 413.3,203.6 413.6,203.6 413.9,203.6 414.1,203.6 414.4,203.6 414.6,203.5 414.9,203.5 415.1,203.5 415.4,203.5 415.6,203.4 415.9,203.4 416.1,203.4 416.3,203.4 416.6,203.4 416.8,203.3 417,203.3 417.3,203.3 417.5,203.3 417.7,203.2 417.9,203.2 418.1,203.2 418.3,203.2 418.5,203.1 418.7,203.1 418.9,203.1 419.1,203 419.3,203 419.5,203 419.7,203 419.9,202.9 420.1,202.9 420.2,202.9 420.4,202.8 420.6,202.8 420.8,202.8 420.9,202.8 421.1,202.7 421.3,202.7 421.4,202.7 421.6,202.6 421.8,202.6 421.9,202.6 422.1,202.5 422.2,202.5 422.4,202.5 422.5,202.4 422.7,202.4 422.8,202.3 423,202.3 423.1,202.3 423.3,202.2 423.4,202.2 423.5,202.2 423.7,202.1 423.8,202.1 423.9,202 424.1,202 424.2,202 424.3,201.9 424.4,201.9 424.6,201.8 424.7,201.8 424.8,201.7 424.9,201.7 425,201.6 425.2,201.6 425.3,201.6 425.4,201.5 425.5,201.5 425.6,201.4 425.7,201.4 425.8,201.3 425.9,201.3 426,201.2 426.1,201.2 426.2,201.1 426.3,201.1 426.4,201 426.5,200.9 426.6,200.9 426.7,200.8 426.8,200.8 426.9,200.7 427,200.7 427.1,200.6 427.1,200.5 427.2,200.5 427.3,200.4 427.4,200.4 427.5,200.3 427.6,200.2 427.6,200.2 427.7,200.1 427.8,200 427.9,200 427.9,199.9 428,199.8 428.1,199.8 428.2,199.7 428.2,199.6 428.3,199.6 428.4,199.5 428.4,199.4 428.5,199.3 428.6,199.3 428.6,199.2 428.7,199.1 428.8,199 428.8,198.9 428.9,198.9 428.9,198.8 429,198.7 429.1,198.6 429.1,198.5 429.2,198.4 429.2,198.4 429.3,198.3 429.4,198.2 429.4,198.1 429.5,198 429.5,197.9 429.6,197.8 429.6,197.7 429.7,197.6 429.7,197.5 429.8,197.4 429.8,197.3 429.9,197.2 429.9,197.1 430,197 430,196.9 430.1,196.8 430.1,196.7 430.1,196.6 430.2,196.5 430.2,196.3 430.3,196.2 430.3,196.1 430.4,196 430.4,195.9 430.4,195.8 430.5,195.6 430.5,195.5 430.6,195.4 430.6,195.3 430.6,195.1 430.7,195 430.7,194.9 430.8,194.7 430.8,194.6 430.8,194.5 430.9,194.3 430.9,194.2 430.9,194 431,193.9 431,193.7 431.1,193.6 431.1,193.4 431.1,193.3 431.2,193.1 431.2,193 431.2,192.8 431.3,192.7 431.3,192.5 431.3,192.3 431.4,192.2 431.4,192 431.4,191.8 431.5,191.7 431.5,191.5 431.6,191.3 431.6,191.1 431.6,190.9 431.7,190.8 431.7,190.6 431.7,190.4 431.8,190.2 431.8,190 431.8,189.8 431.9,189.6 431.9,189.4 432,189.2 432,189 432,188.8 432.1,188.6 432.1,188.4 432.2,188.1 432.2,187.9 432.2,187.7 432.3,187.5 432.3,187.2 432.4,187 432.4,186.8 432.5,186.5 432.5,186.3 432.5,186 432.6,185.8 432.6,185.5 432.7,185.3 432.7,185 432.8,184.8 432.8,184.5 432.9,184.2 432.9,184 433,183.7 433.1,183.4 433.1,183.1 433.2,182.8 433.2,182.6 433.3,182.3 433.4,182 433.4,181.7 433.5,181.4 433.6,181.1 433.6,180.7 433.7,180.4 433.8,180.1 433.8,179.8 433.9,179.5 434,179.1 434.1,178.8 434.2,178.4 434.3,178.1 434.3,177.7 434.4,177.4 434.5,177 434.6,176.7 434.7,176.3 434.8,175.9 434.9,175.5 435,175.2 435.1,174.8 435.2,174.4 435.4,174 435.5,173.6 435.6,173.2 435.7,172.7 435.9,172.3 436,171.9 436.1,171.5 436.3,171 436.4,170.6 436.5,170.1 436.7,169.7 436.9,169.2 437,168.8 437.2,168.3 437.3,167.8 437.5,167.3 437.7,166.8 437.9,166.3 438.1,165.8 438.3,165.3 438.5,164.8 438.7,164.3 438.9,163.8 439.1,163.2 439.3,162.7 439.5,162.1 439.8,161.6 440,161 440.3,160.4 440.5,159.9 440.8,159.3 441.1,158.7 441.3,158.1 441.6,157.5 441.9,156.9 442.2,156.2 442.5,155.6 442.9,155 443.2,154.3 443.5,153.6 443.9,153 444.2,152.3 444.6,151.6 445,150.9 445.3,150.2 445.7,149.5 446.1,148.8 446.6,148.1 447,147.3 447.4,146.6 447.9,145.8 448.3,145 448.8,144.3 449.3,143.5 449.8,142.7 450.3,141.9 450.9,141.1 451.4,140.2 452,139.4 452.5,138.5 453.1,137.7 453.7,136.8 454.3,135.9 455,135 455.6,134.1 456.3,133.2 457,132.3 457.7,131.3 458.4,130.4 459.2,129.4 459.9,128.4 460.7,127.4 461.5,126.4 462.3,125.4 463.2,124.4 464,123.3 464.9,122.2 465.8,121.2 466.8,120.1 467.7,119 468.7,117.9 469.7,116.7 470.7,115.6 471.8,114.4 472.9,113.3 474,112.1 475.1,110.9 476.3,109.6 477.5,108.4 478.7,107.2 479.9,105.9 481.2,104.6 482.5,103.3 483.9,102 485.3,100.7 486.7,99.3 488.1,97.9 489.6,96.5 491.1,95.1 492.7,93.7 494.3,92.3 495.9,90.8 497.6,89.3 499.3,87.8 501,86.3 502.8,84.8 504.6,83.2 506.5,81.6 508.4,80 510.4,78.4 512.4,76.8 514.4,75.1 516.5,73.4 518.6,71.7 520.8,70 523.1,68.2 525.3,66.5 527.7,64.7 530.1,62.9 532.5,61 535,59.2 537.6,57.3 540.2,55.4 542.8,53.4 545.5,51.4 548.3,49.5 551.2,47.4 554.1,45.4 557,43.3 560,41.2 563.1,39.1 566.2,37 569.5,34.8 572.7,32.6 576.1,30.4 579.5,28.1 582.9,25.8" fill="none" stroke="#ff8000" stroke-width="1.85" stroke-linejoin="round" />
<polyline points="357.5,204.8 358.6,204.8 359.6,204.7 360.6,204.7 361.6,204.7 362.6,204.7 363.6,204.7 364.5,204.7 365.5,204.7 366.4,204.7 367.4,204.7 368.3,204.7 369.2,204.7 370.1,204.7 371,204.7 371.8,204.7 372.7,204.7 373.5,204.6 374.4,204.6 375.2,204.6 376,204.6 376.8,204.6 377.6,204.6 378.4,204.6 379.2,204.6 380,204.6 380.7,204.6 381.5,204.6 382.2,204.6 382.9,204.6 383.6,204.5 384.3,204.5 385,204.5 385.7,204.5 386.4,204.5 387.1,204.5 387.8,204.5 388.4,204.5 389.1,204.5 389.7,204.5 390.3,204.5 391,204.5 391.6,204.4 392.2,204.4 392.8,204.4 393.4,204.4 394,204.4 394.5,204.4 395.1,204.4 395.7,204.4 396.2,204.4 396.8,204.3 397.3,204.3 397.8,204.3 398.4,204.3 398.9,204.3 399.4,204.3 399.9,204.3 400.4,204.3 400.9,204.3 401.4,204.2 401.9,204.2 402.3,204.2 402.8,204.2 403.3,204.2 403.7,204.2 404.2,204.2 404.6,204.2 405.1,204.1 405.5,204.1 405.9,204.1 406.4,204.1 406.8,204.1 407.2,204.1 407.6,204.1 408,204 408.4,204 408.8,204 409.2,204 409.5,204 409.9,204 410.3,203.9 410.7,203.9 411,203.9 411.4,203.9 411.7,203.9 412.1,203.9 412.4,203.8 412.8,203.8 413.1,203.8 413.4,203.8 413.8,203.8 414.1,203.8 414.4,203.7 414.7,203.7 415,203.7 415.3,203.7 415.6,203.7 415.9,203.6 416.2,203.6 416.5,203.6 416.8,203.6 417.1,203.6 417.3,203.5 417.6,203.5 417.9,203.5 418.2,203.5 418.4,203.5 418.7,203.4 418.9,203.4 419.2,203.4 419.4,203.4 419.7,203.3 419.9,203.3 420.2,203.3 420.4,203.3 420.7,203.2 420.9,203.2 421.1,203.2 421.3,203.2 421.6,203.1 421.8,203.1 422,203.1 422.2,203.1 422.4,203 422.6,203 422.8,203 423,202.9 423.2,202.9 423.4,202.9 423.6,202.9 423.8,202.8 424,202.8 424.2,202.8 424.4,202.7 424.6,202.7 424.7,202.7 424.9,202.6 425.1,202.6 425.3,202.6 425.4,202.5 425.6,202.5 425.8,202.5 425.9,202.4 426.1,202.4 426.3,202.4 426.4,202.3 426.6,202.3 426.7,202.2 426.9,202.2 427,202.2 427.2,202.1 427.3,202.1 427.5,202 427.6,202 427.7,202 427.9,201.9 428,201.9 428.1,201.8 428.3,201.8 428.4,201.8 428.5,201.7 428.7,201.7 428.8,201.6 428.9,201.6 429,201.5 429.1,201.5 429.3,201.4 429.4,201.4 429.5,201.3 429.6,201.3 429.7,201.2 429.8,201.2 429.9,201.1 430,201.1 430.1,201 430.3,201 430.4,200.9 430.5,200.9 430.6,200.8 430.7,200.7 430.7,200.7 430.8,200.6 430.9,200.6 431,200.5 431.1,200.4 431.2,200.4 431.3,200.3 431.4,200.3 431.5,200.2 431.6,200.1 431.6,200.1 431.7,200 431.8,199.9 431.9,199.9 432,199.8 432,199.7 432.1,199.7 432.2,199.6 432.3,199.5 432.3,199.4 432.4,199.4 432.5,199.3 432.6,199.2 432.6,199.1 432.7,199.1 432.8,199 432.8,198.9 432.9,198.8 433,198.7 433,198.7 433.1,198.6 433.1,198.5 433.2,198.4 433.3,198.3 433.3,198.2 433.4,198.1 433.4,198 433.5,197.9 433.6,197.9 433.6,197.8 433.7,197.7 433.7,197.6 433.8,197.5 433.8,197.4 433.9,197.3 433.9,197.2 434,197.1 434,197 434.1,196.8 434.1,196.7 434.2,196.6 434.2,196.5 434.3,196.4 434.3,196.3 434.4,196.2 434.4,196.1 434.4,195.9 434.5,195.8 434.5,195.7 434.6,195.6 434.6,195.5 434.7,195.3 434.7,195.2 434.7,195.1 434.8,194.9 434.8,194.8 434.9,194.7 434.9,194.5 434.9,194.4 435,194.3 435,194.1 435,194 435.1,193.8 435.1,193.7 435.2,193.5 435.2,193.4 435.2,193.2 435.3,193.1 435.3,192.9 435.3,192.8 435.4,192.6 435.4,192.4 435.5,192.3 435.5,192.1 435.5,191.9 435.6,191.8 435.6,191.6 435.6,191.4 435.7,191.2 435.7,191.1 435.7,190.9 435.8,190.7 435.8,190.5 435.8,190.3 435.9,190.1 435.9,189.9 436,189.7 436,189.5 436,189.3 436.1,189.1 436.1,188.9 436.1,188.7 436.2,188.5 436.2,188.3 436.3,188.1 436.3,187.8 436.3,187.6 436.4,187.4 436.4,187.2 436.5,186.9 436.5,186.7 436.6,186.5 436.6,186.2 436.7,186 436.7,185.7 436.7,185.5 436.8,185.2 436.8,185 436.9,184.7 436.9,184.4 437,184.2 437,183.9 437.1,183.6 437.2,183.3 437.2,183 437.3,182.8 437.3,182.5 437.4,182.2 437.5,181.9 437.5,181.6 437.6,181.3 437.7,181 437.7,180.7 437.8,180.3 437.9,180 437.9,179.7 438,179.4 438.1,179 438.2,178.7 438.3,178.3 438.3,178 438.4,177.7 438.5,177.3 438.6,176.9 438.7,176.6 438.8,176.2 438.9,175.8 439,175.4 439.1,175.1 439.2,174.7 439.3,174.3 439.4,173.9 439.6,173.5 439.7,173.1 439.8,172.7 439.9,172.2 440.1,171.8 440.2,171.4 440.3,170.9 440.5,170.5 440.6,170 440.8,169.6 440.9,169.1 441.1,168.7 441.3,168.2 441.4,167.7 441.6,167.2 441.8,166.7 442,166.2 442.2,165.7 442.4,165.2 442.6,164.7 442.8,164.2 443,163.7 443.2,163.1 443.4,162.6 443.7,162 443.9,161.5 444.1,160.9 444.4,160.3 444.6,159.8 444.9,159.2 445.2,158.6 445.5,158 445.8,157.4 446.1,156.8 446.4,156.1 446.7,155.5 447,154.9 447.3,154.2 447.7,153.5 448,152.9 448.4,152.2 448.7,151.5 449.1,150.8 449.5,150.1 449.9,149.4 450.3,148.7 450.7,148 451.2,147.2 451.6,146.5 452.1,145.7 452.5,144.9 453,144.2 453.5,143.4 454,142.6 454.6,141.8 455.1,141 455.6,140.1 456.2,139.3 456.8,138.4 457.4,137.6 458,136.7 458.6,135.8 459.3,134.9 459.9,134 460.6,133.1 461.3,132.2 462,131.2 462.7,130.3 463.5,129.3 464.3,128.3 465,127.3 465.9,126.3 466.7,125.3 467.5,124.3 468.4,123.2 469.3,122.2 470.2,121.1 471.2,120 472.1,118.9 473.1,117.8 474.1,116.7 475.2,115.5 476.2,114.4 477.3,113.2 478.4,112 479.6,110.8 480.7,109.6 481.9,108.3 483.2,107.1 484.4,105.8 485.7,104.5 487,103.2 488.4,101.9 489.8,100.6 491.2,99.2 492.6,97.9 494.1,96.5 495.6,95.1 497.2,93.7 498.8,92.2 500.4,90.8 502.1,89.3 503.8,87.8 505.5,86.3 507.3,84.7 509.1,83.2 511,81.6 512.9,80 514.8,78.4 516.8,76.8 518.9,75.1 521,73.4 523.1,71.7 525.2,70 527.5,68.3 529.7,66.5 532,64.7 534.4,62.9 536.8,61 539.3,59.2 541.8,57.3 544.4,55.4 547,53.5 549.7,51.5 552.4,49.5 555.2,47.5 558,45.5 560.9,43.4 563.9,41.3 566.9,39.2 570,37.1 573.1,34.9 576.3,32.7 579.5,30.5 582.9,28.2" fill="none" stroke="#00dd00" stroke-width="1.85" stroke-linejoin="round" />
<polyline points="357.5,204.8 358.5,204.8 359.6,204.8 360.6,204.8 361.7,204.8 362.7,204.8 363.7,204.8 364.7,204.8 365.7,204.7 366.7,204.7 367.6,204.7 368.6,204.7 369.5,204.7 370.4,204.7 371.4,204.7 372.3,204.7 373.1,204.7 374,204.7 374.9,204.7 375.7,204.7 376.6,204.7 377.4,204.7 378.2,204.7 379,204.6 379.9,204.6 380.6,204.6 381.4,204.6 382.2,204.6 383,204.6 383.7,204.6 384.4,204.6 385.2,204.6 385.9,204.6 386.6,204.6 387.3,204.6 388,204.6 388.7,204.5 389.4,204.5 390,204.5 390.7,204.5 391.4,204.5 392,204.5 392.6,204.5 393.3,204.5 393.9,204.5 394.5,204.5 395.1,204.5 395.7,204.4 396.3,204.4 396.9,204.4 397.4,204.4 398,204.4 398.6,204.4 399.1,204.4 399.6,204.4 400.2,204.4 400.7,204.4 401.2,204.3 401.7,204.3 402.3,204.3 402.8,204.3 403.3,204.3 403.7,204.3 404.2,204.3 404.7,204.3 405.2,204.3 405.6,204.2 406.1,204.2 406.6,204.2 407,204.2 407.4,204.2 407.9,204.2 408.3,204.2 408.7,204.1 409.2,204.1 409.6,204.1 410,204.1 410.4,204.1 410.8,204.1 411.2,204.1 411.6,204 411.9,204 412.3,204 412.7,204 413.1,204 413.4,204 413.8,204 414.1,203.9 414.5,203.9 414.8,203.9 415.2,203.9 415.5,203.9 415.8,203.9 416.2,203.8 416.5,203.8 416.8,203.8 417.1,203.8 417.4,203.8 417.7,203.7 418,203.7 418.3,203.7 418.6,203.7 418.9,203.7 419.2,203.7 419.5,203.6 419.8,203.6 420,203.6 420.3,203.6 420.6,203.5 420.9,203.5 421.1,203.5 421.4,203.5 421.6,203.5 421.9,203.4 422.1,203.4 422.4,203.4 422.6,203.4 422.9,203.3 423.1,203.3 423.3,203.3 423.5,203.3 423.8,203.2 424,203.2 424.2,203.2 424.4,203.2 424.7,203.1 424.9,203.1 425.1,203.1 425.3,203.1 425.5,203 425.7,203 425.9,203 426.1,203 426.3,202.9 426.5,202.9 426.6,202.9 426.8,202.8 427,202.8 427.2,202.8 427.4,202.7 427.5,202.7 427.7,202.7 427.9,202.6 428.1,202.6 428.2,202.6 428.4,202.5 428.6,202.5 428.7,202.5 428.9,202.4 429,202.4 429.2,202.4 429.3,202.3 429.5,202.3 429.6,202.3 429.8,202.2 429.9,202.2 430.1,202.1 430.2,202.1 430.3,202.1 430.5,202 430.6,202 430.7,201.9 430.9,201.9 431,201.8 431.1,201.8 431.2,201.8 431.4,201.7 431.5,201.7 431.6,201.6 431.7,201.6 431.8,201.5 432,201.5 432.1,201.4 432.2,201.4 432.3,201.3 432.4,201.3 432.5,201.2 432.6,201.2 432.7,201.1 432.8,201.1 432.9,201 433,201 433.1,200.9 433.2,200.9 433.3,200.8 433.4,200.7 433.5,200.7 433.6,200.6 433.7,200.6 433.8,200.5 433.9,200.5 433.9,200.4 434,200.3 434.1,200.3 434.2,200.2 434.3,200.1 434.4,200.1 434.4,200 434.5,199.9 434.6,199.9 434.7,199.8 434.8,199.7 434.8,199.7 434.9,199.6 435,199.5 435,199.4 435.1,199.4 435.2,199.3 435.2,199.2 435.3,199.1 435.4,199.1 435.4,199 435.5,198.9 435.6,198.8 435.6,198.7 435.7,198.6 435.8,198.6 435.8,198.5 435.9,198.4 435.9,198.3 436,198.2 436.1,198.1 436.1,198 436.2,197.9 436.2,197.8 436.3,197.7 436.3,197.7 436.4,197.6 436.4,197.5 436.5,197.4 436.5,197.3 436.6,197.1 436.6,197 436.7,196.9 436.7,196.8 436.8,196.7 436.8,196.6 436.9,196.5 436.9,196.4 437,196.3 437,196.2 437,196 437.1,195.9 437.1,195.8 437.2,195.7 437.2,195.6 437.3,195.4 437.3,195.3 437.3,195.2 437.4,195 437.4,194.9 437.5,194.8 437.5,194.6 437.5,194.5 437.6,194.4 437.6,194.2 437.6,194.1 437.7,193.9 437.7,193.8 437.8,193.7 437.8,193.5 437.8,193.3 437.9,193.2 437.9,193 437.9,192.9 438,192.7 438,192.6 438,192.4 438.1,192.2 438.1,192.1 438.2,191.9 438.2,191.7 438.2,191.5 438.3,191.4 438.3,191.2 438.3,191 438.4,190.8 438.4,190.6 438.4,190.4 438.5,190.3 438.5,190.1 438.6,189.9 438.6,189.7 438.6,189.5 438.7,189.3 438.7,189.1 438.7,188.8 438.8,188.6 438.8,188.4 438.9,188.2 438.9,188 438.9,187.8 439,187.5 439,187.3 439.1,187.1 439.1,186.8 439.2,186.6 439.2,186.4 439.3,186.1 439.3,185.9 439.3,185.6 439.4,185.4 439.4,185.1 439.5,184.8 439.5,184.6 439.6,184.3 439.7,184 439.7,183.8 439.8,183.5 439.8,183.2 439.9,182.9 439.9,182.6 440,182.3 440.1,182 440.1,181.7 440.2,181.4 440.3,181.1 440.3,180.8 440.4,180.5 440.5,180.2 440.5,179.9 440.6,179.5 440.7,179.2 440.8,178.9 440.9,178.5 441,178.2 441,177.8 441.1,177.5 441.2,177.1 441.3,176.7 441.4,176.4 441.5,176 441.6,175.6 441.7,175.2 441.8,174.8 441.9,174.4 442,174.1 442.2,173.6 442.3,173.2 442.4,172.8 442.5,172.4 442.7,172 442.8,171.5 442.9,171.1 443.1,170.7 443.2,170.2 443.4,169.8 443.5,169.3 443.7,168.8 443.9,168.4 444,167.9 444.2,167.4 444.4,166.9 444.6,166.4 444.8,165.9 444.9,165.4 445.1,164.9 445.3,164.4 445.6,163.8 445.8,163.3 446,162.8 446.2,162.2 446.5,161.7 446.7,161.1 447,160.5 447.2,159.9 447.5,159.4 447.7,158.8 448,158.2 448.3,157.5 448.6,156.9 448.9,156.3 449.2,155.7 449.5,155 449.9,154.4 450.2,153.7 450.5,153 450.9,152.4 451.3,151.7 451.6,151 452,150.3 452.4,149.6 452.8,148.9 453.2,148.1 453.7,147.4 454.1,146.6 454.6,145.9 455,145.1 455.5,144.3 456,143.5 456.5,142.7 457,141.9 457.6,141.1 458.1,140.3 458.7,139.4 459.2,138.6 459.8,137.7 460.4,136.8 461.1,136 461.7,135.1 462.4,134.1 463,133.2 463.7,132.3 464.4,131.3 465.2,130.4 465.9,129.4 466.7,128.4 467.4,127.4 468.3,126.4 469.1,125.4 469.9,124.4 470.8,123.3 471.7,122.3 472.6,121.2 473.5,120.1 474.5,119 475.5,117.9 476.5,116.7 477.5,115.6 478.6,114.4 479.7,113.3 480.8,112.1 481.9,110.9 483.1,109.6 484.3,108.4 485.5,107.1 486.8,105.9 488.1,104.6 489.4,103.3 490.8,102 492.1,100.6 493.6,99.3 495,97.9 496.5,96.5 498,95.1 499.6,93.7 501.2,92.2 502.8,90.7 504.5,89.3 506.2,87.8 508,86.2 509.8,84.7 511.6,83.1 513.5,81.5 515.4,79.9 517.4,78.3 519.4,76.7 521.4,75 523.5,73.3 525.7,71.6 527.9,69.9 530.1,68.1 532.4,66.3 534.8,64.5 537.2,62.7 539.6,60.9 542.1,59 544.7,57.1 547.3,55.2 550,53.2 552.7,51.3 555.5,49.3 558.4,47.3 561.3,45.2 564.2,43.1 567.3,41 570.3,38.9 573.5,36.7 576.7,34.6 580,32.3 583.3,30.1 586.8,27.8 590.2,25.5 593.8,23.2" fill="none" stroke="#8000ff" stroke-width="1.85" stroke-linejoin="round" />
<polyline points="357.5,204.9 358.6,204.8 359.7,204.8 360.8,204.8 361.9,204.8 363,204.8 364,204.8 365.1,204.8 366.1,204.8 367.1,204.8 368.1,204.8 369.1,204.8 370.1,204.8 371.1,204.8 372,204.8 373,204.8 373.9,204.8 374.8,204.8 375.7,204.8 376.6,204.8 377.5,204.8 378.4,204.7 379.3,204.7 380.1,204.7 381,204.7 381.8,204.7 382.6,204.7 383.4,204.7 384.2,204.7 385,204.7 385.8,204.7 386.5,204.7 387.3,204.7 388.1,204.7 388.8,204.7 389.5,204.7 390.2,204.6 391,204.6 391.7,204.6 392.3,204.6 393,204.6 393.7,204.6 394.4,204.6 395,204.6 395.7,204.6 396.3,204.6 397,204.6 397.6,204.6 398.2,204.6 398.8,204.5 399.4,204.5 400,204.5 400.6,204.5 401.2,204.5 401.7,204.5 402.3,204.5 402.8,204.5 403.4,204.5 403.9,204.5 404.5,204.5 405,204.4 405.5,204.4 406,204.4 406.5,204.4 407,204.4 407.5,204.4 408,204.4 408.5,204.4 409,204.4 409.5,204.4 409.9,204.3 410.4,204.3 410.8,204.3 411.3,204.3 411.7,204.3 412.1,204.3 412.6,204.3 413,204.3 413.4,204.3 413.8,204.2 414.2,204.2 414.6,204.2 415,204.2 415.4,204.2 415.8,204.2 416.2,204.2 416.6,204.1 416.9,204.1 417.3,204.1 417.7,204.1 418,204.1 418.4,204.1 418.7,204.1 419.1,204.1 419.4,204 419.8,204 420.1,204 420.4,204 420.7,204 421,204 421.4,203.9 421.7,203.9 422,203.9 422.3,203.9 422.6,203.9 422.9,203.9 423.2,203.8 423.4,203.8 423.7,203.8 424,203.8 424.3,203.8 424.6,203.8 424.8,203.7 425.1,203.7 425.4,203.7 425.6,203.7 425.9,203.7 426.1,203.6 426.4,203.6 426.6,203.6 426.8,203.6 427.1,203.6 427.3,203.5 427.6,203.5 427.8,203.5 428,203.5 428.2,203.4 428.5,203.4 428.7,203.4 428.9,203.4 429.1,203.3 429.3,203.3 429.5,203.3 429.7,203.3 429.9,203.3 430.1,203.2 430.3,203.2 430.5,203.2 430.7,203.1 430.9,203.1 431.1,203.1 431.2,203.1 431.4,203 431.6,203 431.8,203 432,203 432.1,202.9 432.3,202.9 432.5,202.9 432.6,202.8 432.8,202.8 432.9,202.8 433.1,202.7 433.3,202.7 433.4,202.7 433.6,202.6 433.7,202.6 433.9,202.6 434,202.5 434.1,202.5 434.3,202.5 434.4,202.4 434.6,202.4 434.7,202.4 434.8,202.3 435,202.3 435.1,202.3 435.2,202.2 435.4,202.2 435.5,202.1 435.6,202.1 435.7,202.1 435.8,202 436,202 436.1,201.9 436.2,201.9 436.3,201.9 436.4,201.8 436.5,201.8 436.6,201.7 436.7,201.7 436.8,201.6 437,201.6 437.1,201.5 437.2,201.5 437.3,201.4 437.4,201.4 437.5,201.3 437.5,201.3 437.6,201.2 437.7,201.2 437.8,201.1 437.9,201.1 438,201 438.1,201 438.2,200.9 438.3,200.9 438.4,200.8 438.4,200.8 438.5,200.7 438.6,200.6 438.7,200.6 438.8,200.5 438.8,200.5 438.9,200.4 439,200.3 439.1,200.3 439.1,200.2 439.2,200.2 439.3,200.1 439.3,200 439.4,200 439.5,199.9 439.6,199.8 439.6,199.7 439.7,199.7 439.7,199.6 439.8,199.5 439.9,199.5 439.9,199.4 440,199.3 440.1,199.2 440.1,199.2 440.2,199.1 440.2,199 440.3,198.9 440.3,198.8 440.4,198.8 440.4,198.7 440.5,198.6 440.6,198.5 440.6,198.4 440.7,198.3 440.7,198.2 440.8,198.1 440.8,198.1 440.9,198 440.9,197.9 440.9,197.8 441,197.7 441,197.6 441.1,197.5 441.1,197.4 441.2,197.3 441.2,197.2 441.3,197.1 441.3,197 441.3,196.9 441.4,196.7 441.4,196.6 441.5,196.5 441.5,196.4 441.5,196.3 441.6,196.2 441.6,196.1 441.7,196 441.7,195.8 441.7,195.7 441.8,195.6 441.8,195.5 441.8,195.3 441.9,195.2 441.9,195.1 441.9,194.9 442,194.8 442,194.7 442,194.5 442.1,194.4 442.1,194.3 442.1,194.1 442.2,194 442.2,193.8 442.2,193.7 442.3,193.5 442.3,193.4 442.3,193.2 442.4,193.1 442.4,192.9 442.4,192.8 442.5,192.6 442.5,192.4 442.5,192.3 442.5,192.1 442.6,191.9 442.6,191.8 442.6,191.6 442.7,191.4 442.7,191.2 442.7,191.1 442.8,190.9 442.8,190.7 442.8,190.5 442.9,190.3 442.9,190.1 442.9,189.9 443,189.7 443,189.5 443,189.3 443.1,189.1 443.1,188.9 443.1,188.7 443.2,188.5 443.2,188.3 443.2,188 443.3,187.8 443.3,187.6 443.3,187.4 443.4,187.1 443.4,186.9 443.5,186.7 443.5,186.4 443.5,186.2 443.6,185.9 443.6,185.7 443.7,185.4 443.7,185.2 443.8,184.9 443.8,184.7 443.9,184.4 443.9,184.1 444,183.8 444,183.6 444.1,183.3 444.1,183 444.2,182.7 444.2,182.4 444.3,182.1 444.3,181.8 444.4,181.5 444.5,181.2 444.5,180.9 444.6,180.6 444.6,180.3 444.7,180 444.8,179.6 444.9,179.3 444.9,179 445,178.6 445.1,178.3 445.2,177.9 445.2,177.6 445.3,177.2 445.4,176.9 445.5,176.5 445.6,176.1 445.7,175.7 445.8,175.4 445.9,175 446,174.6 446.1,174.2 446.2,173.8 446.3,173.4 446.4,173 446.6,172.5 446.7,172.1 446.8,171.7 446.9,171.3 447.1,170.8 447.2,170.4 447.3,169.9 447.5,169.5 447.6,169 447.8,168.5 447.9,168.1 448.1,167.6 448.3,167.1 448.5,166.6 448.6,166.1 448.8,165.6 449,165.1 449.2,164.6 449.4,164 449.6,163.5 449.8,163 450,162.4 450.2,161.9 450.5,161.3 450.7,160.7 451,160.2 451.2,159.6 451.5,159 451.7,158.4 452,157.8 452.3,157.2 452.6,156.5 452.9,155.9 453.2,155.3 453.5,154.6 453.8,154 454.1,153.3 454.5,152.6 454.8,151.9 455.2,151.3 455.5,150.6 455.9,149.9 456.3,149.1 456.7,148.4 457.1,147.7 457.5,146.9 458,146.2 458.4,145.4 458.9,144.6 459.3,143.8 459.8,143.1 460.3,142.2 460.8,141.4 461.3,140.6 461.9,139.8 462.4,138.9 463,138.1 463.6,137.2 464.2,136.3 464.8,135.4 465.4,134.5 466.1,133.6 466.8,132.7 467.4,131.7 468.1,130.8 468.9,129.8 469.6,128.8 470.4,127.8 471.1,126.8 471.9,125.8 472.8,124.8 473.6,123.8 474.5,122.7 475.4,121.6 476.3,120.6 477.2,119.5 478.2,118.3 479.1,117.2 480.1,116.1 481.2,114.9 482.2,113.8 483.3,112.6 484.4,111.4 485.6,110.2 486.8,108.9 488,107.7 489.2,106.4 490.5,105.1 491.8,103.8 493.1,102.5 494.4,101.2 495.8,99.8 497.3,98.5 498.7,97.1 500.2,95.7 501.8,94.3 503.4,92.8 505,91.4 506.6,89.9 508.3,88.4 510.1,86.9 511.8,85.4 513.7,83.8 515.5,82.3 517.4,80.7 519.4,79 521.4,77.4 523.4,75.8 525.5,74.1 527.7,72.4 529.9,70.7 532.1,68.9 534.4,67.1 536.8,65.4 539.2,63.5 541.7,61.7 544.2,59.9 546.8,58 549.4,56.1 552.1,54.1 554.9,52.2 557.7,50.2 560.6,48.2 563.6,46.2 566.6,44.1 569.7,42 572.8,39.9 576,37.7 579.3,35.6 582.7,33.4 586.1,31.2 589.7,28.9 593.2,26.6 596.9,24.3" fill="none" stroke="#00ffff" stroke-width="1.85" stroke-linejoin="round" />
</g>
<rect x="359.3" y="2.4" width="252.9" height="203.1" fill="none" stroke="#000" stroke-width="1.2"/>
<line x1="359.3" y1="205.5" x2="359.3" y2="209.7" stroke="#000" stroke-width="1"/>
<line x1="359.3" y1="2.0" x2="359.3" y2="4.1" stroke="#000" stroke-width="1"/>
<line x1="373.4" y1="205.5" x2="373.4" y2="207.7" stroke="#000" stroke-width="1"/>
<line x1="373.4" y1="2.0" x2="373.4" y2="3.1" stroke="#000" stroke-width="1"/>
<line x1="387.4" y1="205.5" x2="387.4" y2="209.7" stroke="#000" stroke-width="1"/>
<line x1="387.4" y1="2.0" x2="387.4" y2="4.1" stroke="#000" stroke-width="1"/>
<line x1="401.5" y1="205.5" x2="401.5" y2="207.7" stroke="#000" stroke-width="1"/>
<line x1="401.5" y1="2.0" x2="401.5" y2="3.1" stroke="#000" stroke-width="1"/>
<line x1="415.5" y1="205.5" x2="415.5" y2="209.7" stroke="#000" stroke-width="1"/>
<line x1="415.5" y1="2.0" x2="415.5" y2="4.1" stroke="#000" stroke-width="1"/>
<line x1="429.6" y1="205.5" x2="429.6" y2="207.7" stroke="#000" stroke-width="1"/>
<line x1="429.6" y1="2.0" x2="429.6" y2="3.1" stroke="#000" stroke-width="1"/>
<line x1="443.7" y1="205.5" x2="443.7" y2="209.7" stroke="#000" stroke-width="1"/>
<line x1="443.7" y1="2.0" x2="443.7" y2="4.1" stroke="#000" stroke-width="1"/>
<line x1="457.7" y1="205.5" x2="457.7" y2="207.7" stroke="#000" stroke-width="1"/>
<line x1="457.7" y1="2.0" x2="457.7" y2="3.1" stroke="#000" stroke-width="1"/>
<line x1="471.8" y1="205.5" x2="471.8" y2="209.7" stroke="#000" stroke-width="1"/>
<line x1="471.8" y1="2.0" x2="471.8" y2="4.1" stroke="#000" stroke-width="1"/>
<line x1="485.8" y1="205.5" x2="485.8" y2="207.7" stroke="#000" stroke-width="1"/>
<line x1="485.8" y1="2.0" x2="485.8" y2="3.1" stroke="#000" stroke-width="1"/>
<line x1="499.9" y1="205.5" x2="499.9" y2="209.7" stroke="#000" stroke-width="1"/>
<line x1="499.9" y1="2.0" x2="499.9" y2="4.1" stroke="#000" stroke-width="1"/>
<line x1="514.0" y1="205.5" x2="514.0" y2="207.7" stroke="#000" stroke-width="1"/>
<line x1="514.0" y1="2.0" x2="514.0" y2="3.1" stroke="#000" stroke-width="1"/>
<line x1="528.0" y1="205.5" x2="528.0" y2="209.7" stroke="#000" stroke-width="1"/>
<line x1="528.0" y1="2.0" x2="528.0" y2="4.1" stroke="#000" stroke-width="1"/>
<line x1="542.1" y1="205.5" x2="542.1" y2="207.7" stroke="#000" stroke-width="1"/>
<line x1="542.1" y1="2.0" x2="542.1" y2="3.1" stroke="#000" stroke-width="1"/>
<line x1="556.1" y1="205.5" x2="556.1" y2="209.7" stroke="#000" stroke-width="1"/>
<line x1="556.1" y1="2.0" x2="556.1" y2="4.1" stroke="#000" stroke-width="1"/>
<line x1="570.2" y1="205.5" x2="570.2" y2="207.7" stroke="#000" stroke-width="1"/>
<line x1="570.2" y1="2.0" x2="570.2" y2="3.1" stroke="#000" stroke-width="1"/>
<line x1="584.3" y1="205.5" x2="584.3" y2="209.7" stroke="#000" stroke-width="1"/>
<line x1="584.3" y1="2.0" x2="584.3" y2="4.1" stroke="#000" stroke-width="1"/>
<line x1="598.3" y1="205.5" x2="598.3" y2="207.7" stroke="#000" stroke-width="1"/>
<line x1="598.3" y1="2.0" x2="598.3" y2="3.1" stroke="#000" stroke-width="1"/>
<line x1="612.4" y1="205.5" x2="612.4" y2="209.7" stroke="#000" stroke-width="1"/>
<line x1="612.4" y1="2.0" x2="612.4" y2="4.1" stroke="#000" stroke-width="1"/>
<line x1="359.3" y1="205.2" x2="355.1" y2="205.2" stroke="#000" stroke-width="1"/>
<line x1="612.2" y1="205.2" x2="608.0" y2="205.2" stroke="#000" stroke-width="1"/>
<line x1="359.3" y1="190.5" x2="357.1" y2="190.5" stroke="#000" stroke-width="1"/>
<line x1="612.2" y1="190.5" x2="610.0" y2="190.5" stroke="#000" stroke-width="1"/>
<line x1="359.3" y1="175.8" x2="355.1" y2="175.8" stroke="#000" stroke-width="1"/>
<line x1="612.2" y1="175.8" x2="608.0" y2="175.8" stroke="#000" stroke-width="1"/>
<line x1="359.3" y1="161.2" x2="357.1" y2="161.2" stroke="#000" stroke-width="1"/>
<line x1="612.2" y1="161.2" x2="610.0" y2="161.2" stroke="#000" stroke-width="1"/>
<line x1="359.3" y1="146.5" x2="355.1" y2="146.5" stroke="#000" stroke-width="1"/>
<line x1="612.2" y1="146.5" x2="608.0" y2="146.5" stroke="#000" stroke-width="1"/>
<line x1="359.3" y1="131.8" x2="357.1" y2="131.8" stroke="#000" stroke-width="1"/>
<line x1="612.2" y1="131.8" x2="610.0" y2="131.8" stroke="#000" stroke-width="1"/>
<line x1="359.3" y1="117.1" x2="355.1" y2="117.1" stroke="#000" stroke-width="1"/>
<line x1="612.2" y1="117.1" x2="608.0" y2="117.1" stroke="#000" stroke-width="1"/>
<line x1="359.3" y1="102.4" x2="357.1" y2="102.4" stroke="#000" stroke-width="1"/>
<line x1="612.2" y1="102.4" x2="610.0" y2="102.4" stroke="#000" stroke-width="1"/>
<line x1="359.3" y1="87.8" x2="355.1" y2="87.8" stroke="#000" stroke-width="1"/>
<line x1="612.2" y1="87.8" x2="608.0" y2="87.8" stroke="#000" stroke-width="1"/>
<line x1="359.3" y1="73.1" x2="357.1" y2="73.1" stroke="#000" stroke-width="1"/>
<line x1="612.2" y1="73.1" x2="610.0" y2="73.1" stroke="#000" stroke-width="1"/>
<line x1="359.3" y1="58.4" x2="355.1" y2="58.4" stroke="#000" stroke-width="1"/>
<line x1="612.2" y1="58.4" x2="608.0" y2="58.4" stroke="#000" stroke-width="1"/>
<line x1="359.3" y1="43.7" x2="357.1" y2="43.7" stroke="#000" stroke-width="1"/>
<line x1="612.2" y1="43.7" x2="610.0" y2="43.7" stroke="#000" stroke-width="1"/>
<line x1="359.3" y1="29.0" x2="355.1" y2="29.0" stroke="#000" stroke-width="1"/>
<line x1="612.2" y1="29.0" x2="608.0" y2="29.0" stroke="#000" stroke-width="1"/>
<line x1="359.3" y1="14.4" x2="357.1" y2="14.4" stroke="#000" stroke-width="1"/>
<line x1="612.2" y1="14.4" x2="610.0" y2="14.4" stroke="#000" stroke-width="1"/>
<text x="341.20" y="208.10" class="rl" style="white-space:pre">0.0</text>
<text x="341.20" y="178.74" class="rl" style="white-space:pre">0.2</text>
<text x="341.20" y="149.38" class="rl" style="white-space:pre">0.4</text>
<text x="341.20" y="120.02" class="rl" style="white-space:pre">0.6</text>
<text x="341.20" y="90.66" class="rl" style="white-space:pre">0.8</text>
<text x="341.20" y="61.30" class="rl" style="white-space:pre"> .0</text>
<path d="M763,0 L583,0 L583,1100 L223,887 L223,1052 L640,1409 L763,1409 Z" transform="translate(341.20,61.30) scale(0.004004,-0.004004)" fill="#000" stroke="#000" stroke-width="50.0"/>
<text x="341.20" y="31.94" class="rl" style="white-space:pre"> .2</text>
<path d="M763,0 L583,0 L583,1100 L223,887 L223,1052 L640,1409 L763,1409 Z" transform="translate(341.20,31.94) scale(0.004004,-0.004004)" fill="#000" stroke="#000" stroke-width="50.0"/>
<text x="354.74" y="219.30" class="rl" style="white-space:pre">8 </text>
<path d="M763,0 L583,0 L583,1100 L223,887 L223,1052 L640,1409 L763,1409 Z" transform="translate(359.30,219.30) scale(0.004004,-0.004004)" fill="#000" stroke="#000" stroke-width="50.0"/>
<text x="382.86" y="219.30" class="rl" style="white-space:pre">82</text>
<text x="410.98" y="219.30" class="rl" style="white-space:pre">83</text>
<text x="439.10" y="219.30" class="rl" style="white-space:pre">84</text>
<text x="467.22" y="219.30" class="rl" style="white-space:pre">85</text>
<text x="495.34" y="219.30" class="rl" style="white-space:pre">86</text>
<text x="523.46" y="219.30" class="rl" style="white-space:pre">87</text>
<text x="551.58" y="219.30" class="rl" style="white-space:pre">88</text>
<text x="579.70" y="219.30" class="rl" style="white-space:pre">89</text>
<text x="607.82" y="219.30" class="rl" style="white-space:pre">90</text>
<text x="486" y="232.3" text-anchor="middle" class="rs" font-size="10.5">Frequency (kHz)</text>
<text x="470.2" y="258.6" text-anchor="middle" class="is" font-size="11.4">(b)</text>
<text transform="translate(336.1,104.2) rotate(-90)" text-anchor="middle" class="rs" font-size="10.8">Amplitude (μm)</text>
<rect x="363.5" y="4.2" width="42.2" height="95.6" fill="#fff"/>
<path d="M363.5,99.8 V4.4 H405.6" fill="none" stroke="#000" stroke-width="0.9"/>
<path d="M405.6,4.4 V99.9 H363.2" fill="none" stroke="#a0a0a0" stroke-width="1.5"/>
<line x1="364.8" y1="10.8" x2="385.8" y2="10.8" stroke="#000000" stroke-width="1.8"/>
<text x="389.00" y="13.90" class="rg" style="white-space:pre">000</text>
<line x1="364.8" y1="22.6" x2="385.8" y2="22.6" stroke="#ff00ff" stroke-width="1.8"/>
<text x="389.00" y="25.70" class="rg" style="white-space:pre">00 </text>
<path d="M763,0 L583,0 L583,1100 L223,887 L223,1052 L640,1409 L763,1409 Z" transform="translate(398.68,25.70) scale(0.004248,-0.004248)" fill="#000" stroke="#000" stroke-width="58.9"/>
<line x1="364.8" y1="34.4" x2="385.8" y2="34.4" stroke="#008000" stroke-width="1.8"/>
<text x="389.00" y="37.50" class="rg" style="white-space:pre">0 0</text>
<path d="M763,0 L583,0 L583,1100 L223,887 L223,1052 L640,1409 L763,1409 Z" transform="translate(393.84,37.50) scale(0.004248,-0.004248)" fill="#000" stroke="#000" stroke-width="58.9"/>
<line x1="364.8" y1="46.2" x2="385.8" y2="46.2" stroke="#0000ff" stroke-width="1.8"/>
<text x="389.00" y="49.30" class="rg" style="white-space:pre">0  </text>
<path d="M763,0 L583,0 L583,1100 L223,887 L223,1052 L640,1409 L763,1409 Z" transform="translate(393.84,49.30) scale(0.004248,-0.004248)" fill="#000" stroke="#000" stroke-width="58.9"/>
<path d="M763,0 L583,0 L583,1100 L223,887 L223,1052 L640,1409 L763,1409 Z" transform="translate(398.68,49.30) scale(0.004248,-0.004248)" fill="#000" stroke="#000" stroke-width="58.9"/>
<line x1="364.8" y1="58.0" x2="385.8" y2="58.0" stroke="#ff8000" stroke-width="1.8"/>
<text x="389.00" y="61.10" class="rg" style="white-space:pre"> 00</text>
<path d="M763,0 L583,0 L583,1100 L223,887 L223,1052 L640,1409 L763,1409 Z" transform="translate(389.00,61.10) scale(0.004248,-0.004248)" fill="#000" stroke="#000" stroke-width="58.9"/>
<line x1="364.8" y1="69.8" x2="385.8" y2="69.8" stroke="#00dd00" stroke-width="1.8"/>
<text x="389.00" y="72.90" class="rg" style="white-space:pre"> 0 </text>
<path d="M763,0 L583,0 L583,1100 L223,887 L223,1052 L640,1409 L763,1409 Z" transform="translate(389.00,72.90) scale(0.004248,-0.004248)" fill="#000" stroke="#000" stroke-width="58.9"/>
<path d="M763,0 L583,0 L583,1100 L223,887 L223,1052 L640,1409 L763,1409 Z" transform="translate(398.68,72.90) scale(0.004248,-0.004248)" fill="#000" stroke="#000" stroke-width="58.9"/>
<line x1="364.8" y1="81.6" x2="385.8" y2="81.6" stroke="#8000ff" stroke-width="1.8"/>
<text x="389.00" y="84.70" class="rg" style="white-space:pre">  0</text>
<path d="M763,0 L583,0 L583,1100 L223,887 L223,1052 L640,1409 L763,1409 Z" transform="translate(389.00,84.70) scale(0.004248,-0.004248)" fill="#000" stroke="#000" stroke-width="58.9"/>
<path d="M763,0 L583,0 L583,1100 L223,887 L223,1052 L640,1409 L763,1409 Z" transform="translate(393.84,84.70) scale(0.004248,-0.004248)" fill="#000" stroke="#000" stroke-width="58.9"/>
<line x1="364.8" y1="93.4" x2="385.8" y2="93.4" stroke="#00ffff" stroke-width="1.8"/>
<text x="389.00" y="96.50" class="rg" style="white-space:pre">   </text>
<path d="M763,0 L583,0 L583,1100 L223,887 L223,1052 L640,1409 L763,1409 Z" transform="translate(389.00,96.50) scale(0.004248,-0.004248)" fill="#000" stroke="#000" stroke-width="58.9"/>
<path d="M763,0 L583,0 L583,1100 L223,887 L223,1052 L640,1409 L763,1409 Z" transform="translate(393.84,96.50) scale(0.004248,-0.004248)" fill="#000" stroke="#000" stroke-width="58.9"/>
<path d="M763,0 L583,0 L583,1100 L223,887 L223,1052 L640,1409 L763,1409 Z" transform="translate(398.03,96.50) scale(0.004248,-0.004248)" fill="#000" stroke="#000" stroke-width="58.9"/>
</svg>
</body></html>
